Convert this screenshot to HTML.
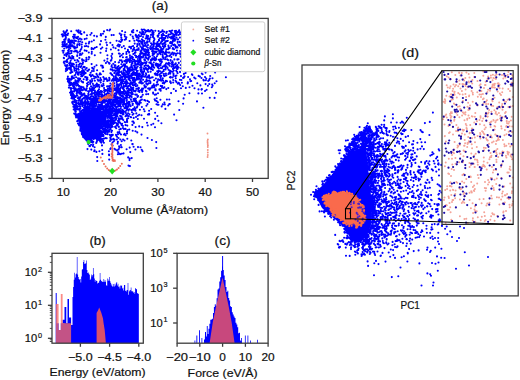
<!DOCTYPE html>
<html><head><meta charset="utf-8"><style>
html,body{margin:0;padding:0;background:#fff;}
svg{display:block;}
text{font-family:"Liberation Sans", sans-serif;fill:#111;stroke:#111;stroke-width:0.2px;}
</style></head><body>
<svg width="520" height="380" viewBox="0 0 520 380">
<rect width="520" height="380" fill="#fff"/>
<clipPath id="ca"><rect x="52" y="18.4" width="216.2" height="160"/></clipPath>
<g clip-path="url(#ca)">
<path d="M76 114L84 111L94 110L103 111L107 114L106 120L103 125L100 129L96 135L92 140L89 142L86 141L83 134L79 124Z" fill="#0000ff"/>
<path d="M153.1 92.6h0M107.1 86.4h0M93.6 122.8h0M133.3 85.4h0M155.5 73.4h0M65.4 65.3h0M105.7 124.6h0M120.7 79.4h0M116.7 125.4h0M132.1 92.4h0M93.2 136.1h0M91.8 91.5h0M91.8 94.2h0M78.7 85.9h0M77.2 121.3h0M119.4 101.8h0M124.4 70.3h0M94.2 137.8h0M139.7 82.3h0M128.2 71.1h0M133.5 99.0h0M94.8 138.3h0M142.8 47.7h0M95.9 124.0h0M114.5 115.3h0M94.2 124.4h0M89.5 132.0h0M87.7 105.9h0M87.2 77.9h0M91.8 51.9h0M62.7 36.4h0M98.2 139.8h0M82.8 135.6h0M70.2 42.5h0M109.2 110.1h0M175.4 76.3h0M110.3 107.7h0M89.0 112.1h0M165.2 82.0h0M146.5 91.5h0M119.2 41.3h0M87.1 111.7h0M98.8 107.0h0M198.6 75.9h0M135.4 61.9h0M117.6 74.5h0M121.8 81.5h0M92.3 138.3h0M106.7 95.0h0M85.3 104.9h0M95.3 127.2h0M124.6 74.4h0M104.9 133.2h0M73.7 85.8h0M124.5 140.5h0M70.7 84.5h0M108.2 120.1h0M79.9 93.0h0M153.8 62.5h0M152.5 64.7h0M95.8 125.9h0M98.1 135.0h0M81.8 116.3h0M152.4 85.9h0M179.9 79.7h0M93.8 116.2h0M130.2 80.5h0M138.2 91.1h0M140.6 63.8h0M141.2 50.4h0M112.7 104.1h0M126.3 80.4h0M81.9 117.2h0M159.7 51.3h0M67.9 76.5h0M128.6 106.6h0M120.8 87.8h0M92.7 87.2h0M92.9 133.4h0M71.4 88.2h0M136.8 67.4h0M70.6 69.2h0M94.1 125.3h0M171.6 37.1h0M107.4 55.2h0M118.7 62.5h0M125.6 135.3h0M103.1 124.2h0M65.6 32.4h0M93.2 122.9h0M87.5 96.4h0M134.9 81.7h0M120.2 154.3h0M100.1 107.1h0M89.2 123.5h0M145.8 45.7h0M109.2 112.0h0M168.1 60.1h0M72.1 76.2h0M132.7 36.6h0M140.4 80.2h0M122.3 109.9h0M70.6 69.7h0M94.4 104.7h0M179.9 42.3h0M116.3 94.7h0M105.4 120.8h0M123.9 89.4h0M129.2 52.1h0M124.1 73.0h0M102.0 94.3h0M71.2 31.2h0M116.0 88.6h0M118.0 88.4h0M159.4 74.8h0M148.2 36.0h0M78.4 92.4h0M102.0 104.9h0M108.7 111.6h0M91.5 141.9h0M97.4 76.5h0M90.8 131.6h0M96.8 96.2h0M126.8 97.4h0M79.3 114.1h0M123.3 110.6h0M156.8 65.8h0M104.4 123.4h0M116.1 104.0h0M94.6 100.2h0M136.6 103.6h0M100.7 136.2h0M105.5 115.3h0M93.0 102.3h0M116.2 92.6h0M99.8 121.8h0M103.0 116.8h0M161.6 31.6h0M88.7 104.0h0M206.6 89.7h0M136.0 69.8h0M90.2 80.6h0M110.1 85.7h0M80.1 53.7h0M112.2 53.9h0M103.2 117.2h0M134.4 74.7h0M109.8 91.2h0M98.9 117.7h0M128.8 73.8h0M91.1 144.8h0M98.6 80.8h0M76.4 105.0h0M94.3 129.0h0M97.9 124.8h0M82.6 64.0h0M95.4 121.3h0M90.6 120.8h0M99.4 130.2h0M105.2 110.0h0M99.0 89.3h0M121.4 76.9h0M76.0 90.5h0M117.1 150.4h0M154.4 58.1h0M111.9 110.1h0M86.9 97.8h0M67.9 81.4h0M117.6 97.9h0M105.2 111.3h0M73.4 95.9h0M74.6 70.7h0M118.5 50.3h0M179.2 30.4h0M103.6 132.2h0M121.3 81.0h0M95.7 96.7h0M88.0 132.3h0M158.8 59.7h0M76.1 104.2h0M111.4 91.4h0M168.3 88.0h0M112.4 87.6h0M96.0 121.5h0M111.5 114.7h0M121.4 67.0h0M104.2 124.9h0M97.6 133.6h0M91.0 86.2h0M122.4 80.0h0M107.0 125.1h0M155.5 74.8h0M94.9 90.7h0M105.5 138.1h0M118.3 80.9h0M96.5 118.9h0M128.1 113.3h0M95.5 112.3h0M110.8 102.3h0M128.2 91.5h0M105.9 123.5h0M115.3 113.2h0M110.7 94.7h0M126.2 103.8h0M139.4 43.8h0M116.9 115.4h0M86.8 118.0h0M112.2 111.5h0M101.1 119.2h0M106.6 79.2h0M172.8 62.8h0M135.5 131.2h0M109.5 110.6h0M116.6 40.7h0M103.6 85.4h0M114.5 86.0h0M113.7 76.4h0M147.4 84.6h0M145.1 49.2h0M141.8 83.5h0M92.8 142.6h0M86.3 59.6h0M108.9 86.6h0M120.1 90.4h0M98.2 113.3h0M107.1 114.5h0M160.9 68.0h0M129.9 55.4h0M131.5 93.2h0M63.8 57.9h0M126.1 77.2h0M87.2 113.9h0M124.3 98.6h0M102.6 117.4h0M84.0 126.1h0M103.9 138.7h0M116.3 94.5h0M116.4 118.7h0M132.0 69.9h0M177.2 72.0h0M103.6 111.5h0M197.3 83.2h0M156.1 46.9h0M94.1 88.2h0M130.4 67.3h0M114.0 80.4h0M158.5 35.2h0M65.5 39.8h0M157.5 73.8h0M129.3 78.2h0M100.9 107.7h0M88.9 127.1h0M124.6 70.0h0M100.9 126.7h0M121.9 96.4h0M80.3 97.4h0M127.5 86.2h0M140.5 46.6h0M69.3 47.0h0M119.0 109.2h0M91.7 81.8h0M92.7 75.3h0M122.9 57.3h0M120.1 78.0h0M69.4 78.9h0M114.2 118.0h0M89.8 110.4h0M167.1 59.3h0M170.3 34.3h0M156.1 52.4h0M126.4 86.2h0M102.4 139.0h0M103.2 130.6h0M175.2 32.6h0M116.1 75.0h0M145.8 75.6h0M87.9 120.7h0M96.7 47.0h0M81.2 76.3h0M104.6 79.2h0M82.1 99.3h0M102.1 112.2h0M99.9 115.6h0M123.7 104.3h0M132.4 74.3h0M71.9 72.1h0M89.2 143.0h0M88.3 108.0h0M85.3 127.8h0M116.7 98.6h0M97.4 118.9h0M108.5 103.3h0M80.6 115.4h0M86.5 80.0h0M136.3 79.4h0M67.7 78.6h0M73.5 94.6h0M96.3 115.9h0M89.2 130.9h0M68.3 40.5h0M71.8 58.6h0M88.4 95.4h0M98.1 116.5h0M179.7 53.2h0M64.4 63.4h0M123.8 46.0h0M124.6 86.8h0M103.6 109.5h0M111.7 65.3h0M198.4 93.4h0M65.3 46.0h0M116.0 134.9h0M95.2 134.8h0M67.7 54.2h0M194.5 88.2h0M103.1 67.4h0M101.8 122.2h0M124.5 108.2h0M158.4 64.5h0M153.0 37.1h0M98.2 112.0h0M104.6 120.9h0M81.2 74.1h0M134.7 43.6h0M96.6 128.3h0M83.7 60.4h0M93.2 117.9h0M110.7 117.1h0M142.1 88.5h0M82.3 102.8h0M118.2 106.4h0M91.3 101.2h0M92.1 126.1h0M112.9 100.5h0M121.3 39.6h0M127.3 68.0h0M121.2 84.9h0M85.4 104.2h0M93.0 90.1h0M96.1 133.1h0M167.6 41.0h0M145.9 73.2h0M126.8 114.8h0M125.6 75.5h0M118.7 86.7h0M96.3 125.6h0M68.1 79.9h0M92.1 113.8h0M119.5 91.8h0M84.5 120.7h0M77.5 116.4h0M74.4 102.2h0M105.6 113.1h0M102.7 107.6h0M92.1 106.5h0M71.6 70.0h0M77.8 90.0h0M94.1 99.8h0M101.9 95.0h0M63.4 41.8h0M78.0 78.3h0M160.9 50.0h0M153.4 34.2h0M92.2 133.3h0M167.5 67.9h0M110.9 105.5h0M80.0 63.5h0M88.7 113.3h0M141.7 149.7h0M146.9 52.1h0M89.9 131.5h0M97.0 129.1h0M100.6 124.2h0M75.4 50.9h0M104.6 123.5h0M174.8 40.8h0M76.3 85.6h0M91.3 128.5h0M127.5 103.7h0M78.5 66.8h0M98.1 132.0h0M162.1 35.9h0M171.3 57.1h0M82.2 134.1h0M81.7 130.4h0M122.4 83.3h0M165.6 73.8h0M127.3 97.3h0M128.4 79.0h0M110.1 29.5h0M77.9 98.2h0M74.0 78.1h0M151.4 87.5h0M80.2 86.5h0M117.9 123.3h0M103.6 81.3h0M103.3 77.1h0M119.6 153.7h0M105.4 39.7h0M91.2 121.9h0M149.3 62.6h0M165.0 45.6h0M123.4 73.2h0M114.7 104.7h0M164.3 43.0h0M91.3 134.8h0M69.3 80.5h0M95.0 108.8h0M146.6 62.0h0M96.9 117.9h0M191.9 74.2h0M125.0 48.5h0M95.8 97.4h0M86.7 140.4h0M84.9 89.6h0M65.9 69.1h0M82.1 59.5h0M118.6 101.6h0M154.2 67.8h0M178.6 82.7h0M145.0 60.3h0M77.2 82.0h0M94.2 98.7h0M105.7 97.1h0M88.2 102.6h0M179.9 37.6h0M127.9 69.3h0M114.7 89.9h0M94.3 98.2h0M100.2 109.9h0M122.9 128.0h0M174.9 39.1h0M140.9 53.4h0M163.2 57.2h0M105.4 127.6h0M97.0 123.2h0M177.1 69.1h0M166.4 49.3h0M113.1 105.2h0M100.8 133.1h0M121.3 92.0h0M136.8 76.5h0M144.7 53.9h0M74.3 97.6h0M90.8 101.1h0M127.9 93.6h0M86.8 98.9h0M98.6 124.9h0M69.7 46.2h0M104.3 79.4h0M109.6 63.3h0M130.1 70.2h0M87.5 138.2h0M165.3 66.4h0M83.3 73.8h0M129.8 96.6h0M153.1 51.8h0M162.7 54.1h0M95.4 110.7h0M81.9 81.7h0M91.7 41.5h0M76.1 117.4h0M98.4 120.3h0M95.4 119.6h0M91.7 53.7h0M97.3 108.0h0M124.2 79.4h0M101.7 103.2h0M64.0 45.9h0M175.8 78.3h0M150.0 56.5h0M72.1 56.1h0M134.8 73.0h0M77.9 52.2h0M79.3 125.4h0M87.2 111.9h0M84.1 121.6h0M99.7 80.4h0M122.9 99.3h0M83.9 74.6h0M107.5 125.2h0M164.4 102.5h0M123.1 53.8h0M112.6 145.5h0M81.4 48.7h0M113.4 82.2h0M173.5 34.8h0M87.3 70.7h0M126.3 72.5h0M71.6 40.6h0M129.6 83.9h0M119.6 69.0h0M129.3 129.5h0M118.2 73.6h0M79.6 86.4h0M90.8 113.2h0M156.1 94.4h0M134.9 84.9h0M78.9 100.3h0M112.3 103.1h0M165.1 65.1h0M141.4 34.1h0M97.1 131.0h0M90.6 137.3h0M103.5 128.4h0M143.4 46.3h0M155.7 59.2h0M142.3 71.6h0M130.1 57.3h0M150.1 68.1h0M74.8 34.9h0M107.0 104.6h0M131.5 73.9h0M99.3 110.7h0M108.8 90.5h0M106.8 131.4h0M152.6 55.4h0M105.8 108.8h0M69.5 85.5h0M136.3 113.4h0M135.1 100.1h0M162.0 41.4h0M67.8 78.4h0M142.7 89.1h0M112.4 111.9h0M129.9 166.1h0M119.6 72.0h0M75.6 108.5h0M111.7 98.9h0M104.9 125.1h0M180.9 68.2h0M75.9 40.9h0M95.4 136.7h0M168.6 52.6h0M94.1 85.5h0M110.7 148.8h0M144.3 51.0h0M107.8 102.2h0M115.5 126.9h0M113.9 78.2h0M99.4 116.0h0M74.4 46.6h0M174.5 67.9h0M73.4 63.8h0M131.2 92.9h0M83.6 113.3h0M110.7 122.7h0M171.5 66.6h0M95.6 125.0h0M119.6 109.7h0M131.9 89.9h0M98.2 128.4h0M92.2 67.7h0M96.0 105.3h0M94.6 150.4h0M89.2 122.2h0M71.9 66.1h0M80.9 74.3h0M108.3 124.3h0M132.5 104.0h0M122.8 93.7h0M124.9 77.6h0M109.2 114.9h0M67.6 65.8h0M82.0 112.9h0M91.9 128.2h0M125.4 122.2h0M89.4 130.4h0M126.4 37.2h0M141.9 99.6h0M141.6 78.1h0M104.7 119.2h0M120.2 123.0h0M78.0 85.1h0M121.3 81.3h0M176.4 35.0h0M115.4 71.8h0M128.5 79.1h0M108.5 101.3h0M168.2 105.5h0M121.4 112.8h0M131.8 64.0h0M82.6 125.5h0M81.7 44.6h0M77.5 44.2h0M88.4 115.6h0M74.9 99.8h0M174.4 59.4h0M164.2 39.5h0M180.1 51.0h0M79.9 93.6h0M146.4 105.8h0M118.4 102.0h0M126.0 75.0h0M117.0 125.3h0M92.2 103.0h0M190.0 79.3h0M102.0 126.3h0M211.8 87.2h0M96.7 122.7h0M108.9 151.3h0M126.2 57.4h0M95.6 117.7h0M142.0 41.3h0M143.3 48.7h0M126.9 82.8h0M104.5 89.9h0M108.8 105.2h0M144.3 41.0h0M90.5 114.3h0M74.7 89.3h0M113.4 47.4h0M76.3 101.0h0M86.0 113.9h0M90.6 98.2h0M70.4 41.0h0M73.9 42.2h0M93.1 128.5h0M73.2 97.9h0M88.1 137.1h0M182.8 86.2h0M86.0 96.1h0M119.4 80.6h0M82.3 115.0h0M99.2 115.8h0M86.4 119.6h0M83.2 123.3h0M89.3 57.4h0M100.7 82.4h0M122.3 77.8h0M147.6 100.9h0M113.4 138.9h0M151.0 59.8h0M84.5 124.4h0M75.8 81.9h0M90.2 115.6h0M96.3 135.3h0M148.4 58.9h0M81.1 113.4h0M168.4 35.4h0M77.3 60.1h0M69.5 68.8h0M138.7 64.5h0M77.7 52.7h0M133.4 79.1h0M107.7 110.9h0M178.7 67.5h0M155.6 90.3h0M88.4 117.9h0M124.6 34.8h0M75.8 101.3h0M76.6 85.5h0M109.5 86.6h0M128.1 102.9h0M73.3 101.7h0M148.4 75.9h0M87.5 79.3h0M81.5 118.6h0M122.3 110.3h0M177.6 73.3h0M88.8 134.4h0M147.3 65.7h0M75.3 90.4h0M71.1 72.3h0M144.9 76.5h0M88.2 109.9h0M129.8 85.7h0M97.1 119.8h0M142.0 89.1h0M74.1 51.5h0M113.6 115.3h0M73.3 84.7h0M87.4 99.2h0M78.0 116.4h0M93.4 122.9h0M123.2 74.9h0M100.7 137.9h0M126.8 83.9h0M138.8 77.5h0M69.3 82.0h0M160.8 63.8h0M90.6 118.0h0M137.8 104.4h0M137.6 36.3h0M139.8 60.1h0M99.6 116.6h0M85.6 61.3h0M116.0 115.8h0M75.3 74.8h0M76.5 47.5h0M127.3 67.4h0M93.3 141.7h0M123.0 74.8h0M111.6 69.5h0M125.8 107.0h0M77.0 91.5h0M157.9 54.4h0M110.0 141.0h0M136.9 36.4h0M86.5 97.9h0M95.4 133.6h0M117.9 102.1h0M86.1 102.0h0M100.4 141.7h0M86.6 78.9h0M134.4 40.8h0M87.7 126.4h0M82.9 82.0h0M83.6 131.3h0M133.0 69.1h0M127.5 130.0h0M142.4 74.0h0M158.1 79.4h0M128.1 106.4h0M80.4 90.8h0M90.6 124.3h0M76.9 95.2h0M89.0 117.7h0M134.8 73.2h0M71.0 45.6h0M111.9 58.0h0M115.6 77.8h0M107.9 118.1h0M85.5 117.0h0M142.0 64.6h0M110.3 149.0h0M122.0 73.4h0M92.0 88.3h0M168.1 49.3h0M166.9 41.0h0M93.9 133.2h0M108.9 93.5h0M114.3 83.3h0M95.8 114.2h0M106.8 122.8h0M118.3 110.9h0M75.8 115.9h0M164.4 31.7h0M111.8 135.6h0M87.2 79.7h0M164.3 46.0h0M102.9 96.5h0M95.6 135.3h0M173.5 75.8h0M127.8 94.2h0M93.7 68.9h0M105.3 117.5h0M121.8 47.2h0M74.0 98.3h0M176.4 75.5h0M108.2 130.1h0M107.8 120.7h0M146.5 36.6h0M158.0 36.8h0M98.7 91.6h0M127.6 86.7h0M82.4 132.1h0M165.1 59.3h0M141.9 72.8h0M146.3 83.8h0M140.6 76.1h0M162.8 78.2h0M90.4 104.0h0M148.7 55.6h0M127.6 93.0h0M64.2 61.5h0M82.0 125.9h0M75.6 81.7h0M72.0 63.5h0M116.1 117.1h0M81.4 103.3h0M125.6 82.3h0M116.5 115.4h0M76.9 90.7h0M169.8 47.9h0M171.1 31.0h0M74.4 83.9h0M72.4 92.7h0M88.0 116.8h0M114.5 148.8h0M145.0 81.8h0M157.9 102.2h0M105.8 36.9h0M156.4 44.8h0M83.1 98.6h0M106.7 114.5h0M91.6 49.1h0M110.9 49.5h0M128.5 76.3h0M170.7 71.4h0M95.8 116.3h0M98.9 120.0h0M78.5 103.1h0M82.5 133.4h0M109.0 100.7h0M205.6 84.1h0M87.9 97.9h0M85.9 126.3h0M111.7 111.3h0M90.9 126.6h0M153.7 44.1h0M134.6 81.0h0M84.9 111.9h0M95.4 119.8h0M78.0 123.5h0M189.5 87.3h0M100.9 48.8h0M101.9 101.1h0M140.6 51.4h0M81.0 128.4h0M116.7 107.2h0M162.7 55.8h0M143.6 34.4h0M162.2 39.9h0M183.1 103.7h0M131.9 75.0h0M127.4 74.7h0M157.9 49.1h0M82.4 53.2h0M115.3 79.7h0M74.7 96.7h0M99.4 87.1h0M205.0 91.0h0M174.1 114.6h0M101.1 65.6h0M94.2 113.2h0M91.3 134.4h0M120.3 67.9h0M97.4 94.7h0M121.7 118.7h0M101.8 127.8h0M82.6 75.7h0M121.7 125.3h0M172.0 43.8h0M141.1 57.8h0M103.0 102.1h0M113.3 120.8h0M81.3 81.1h0M161.2 73.0h0M103.7 120.3h0M90.3 112.1h0M120.3 116.2h0M162.7 83.1h0M106.8 131.8h0M157.1 44.7h0M158.1 72.3h0M95.4 135.6h0M90.3 131.5h0M116.2 79.1h0M88.7 101.9h0M90.4 118.7h0M106.4 79.1h0M139.0 55.9h0M72.2 78.3h0M131.3 82.3h0M154.6 43.2h0M104.2 123.0h0M96.8 83.6h0M99.5 96.7h0M119.0 103.1h0M110.2 108.2h0M92.3 112.5h0M107.6 105.2h0M91.2 94.3h0M85.6 110.7h0M110.4 100.1h0M102.3 105.5h0M166.9 99.5h0M117.6 98.8h0M127.1 115.3h0M113.6 108.3h0M112.6 102.9h0M96.0 136.2h0M99.6 113.7h0M84.7 107.6h0M115.5 104.6h0M106.7 111.5h0M180.9 48.0h0M92.8 137.2h0M86.7 88.5h0M71.0 90.9h0M94.9 131.0h0M62.6 50.8h0M99.6 74.4h0M82.9 123.9h0M201.8 89.0h0M104.0 126.1h0M129.3 46.9h0M80.6 96.6h0M148.9 67.6h0M111.4 96.1h0M87.2 138.3h0M105.2 91.0h0M125.8 107.4h0M111.6 87.7h0M71.3 92.9h0M119.6 98.5h0M154.9 94.8h0M148.2 65.8h0M173.9 38.7h0M161.9 72.8h0M201.9 89.3h0M95.9 85.0h0M83.8 66.9h0M172.2 30.5h0M108.0 116.7h0M97.3 119.4h0M135.3 91.4h0M99.3 133.2h0M104.6 102.5h0M156.0 48.4h0M134.6 67.1h0M87.5 149.1h0M67.7 52.7h0M68.3 42.1h0M139.2 126.4h0M98.3 135.4h0M146.6 77.6h0M133.6 48.9h0M111.2 103.5h0M134.4 61.1h0M96.8 110.1h0M73.8 106.9h0M70.2 82.4h0M165.6 69.5h0M173.2 82.5h0M125.7 77.4h0M119.3 132.1h0M137.7 66.5h0M162.2 71.9h0M77.9 84.3h0M76.1 72.7h0M68.4 46.0h0M153.7 51.2h0M89.0 91.3h0M112.7 120.5h0M65.2 44.8h0M126.5 100.8h0M98.0 124.6h0M84.0 88.5h0M71.4 71.0h0M63.8 50.8h0M104.1 96.9h0M125.8 95.5h0M79.7 109.2h0M91.2 136.4h0M125.9 113.0h0M123.4 83.7h0M89.2 131.9h0M152.3 59.8h0M91.3 115.9h0M89.0 103.8h0M78.1 89.0h0M145.1 30.3h0M140.3 61.4h0M160.8 47.2h0M109.8 125.8h0M105.8 104.5h0M88.5 132.2h0M163.2 31.5h0M101.5 96.9h0M89.8 99.3h0M125.2 32.3h0M121.7 40.8h0M85.9 43.6h0M120.1 115.8h0M94.0 119.8h0M109.4 111.3h0M141.2 82.3h0M81.6 75.3h0M159.1 40.5h0M109.1 95.7h0M127.2 122.0h0M119.0 74.9h0M80.3 90.2h0M168.5 46.8h0M132.8 84.3h0M110.7 107.0h0M118.4 88.3h0M142.5 32.1h0M116.7 89.7h0M100.4 105.3h0M72.3 84.7h0M148.0 36.5h0M120.2 104.9h0M136.7 37.5h0M141.2 83.3h0M120.7 100.6h0M96.5 96.5h0M180.4 44.9h0M141.1 53.2h0M109.0 80.4h0M143.1 79.8h0M183.9 77.6h0M79.4 92.5h0M109.5 99.9h0M144.1 69.7h0M72.5 103.3h0M86.8 119.8h0M88.5 97.9h0M88.6 106.6h0M173.5 74.2h0M85.8 119.5h0M163.4 82.9h0M135.9 98.8h0M165.4 52.5h0M78.7 69.7h0M161.0 52.3h0M120.7 41.9h0M123.0 81.6h0M104.4 101.0h0M98.7 102.1h0M137.1 56.7h0M141.6 33.4h0M94.1 124.0h0M115.0 88.3h0M161.6 50.7h0M119.3 94.3h0M87.1 83.8h0M124.6 104.1h0M97.5 106.3h0M190.4 81.1h0M82.6 131.2h0M117.7 132.4h0M141.5 115.2h0M120.9 145.0h0M143.2 56.2h0M107.1 110.2h0M112.3 90.4h0M109.5 97.0h0M72.0 65.1h0M90.5 127.7h0M87.3 108.2h0M82.4 101.0h0M92.7 87.9h0M66.1 44.5h0M104.7 115.2h0M139.5 101.2h0M127.3 138.8h0M100.7 113.6h0M88.6 103.4h0M104.9 120.2h0M123.4 96.3h0M106.8 122.2h0M166.8 52.4h0M90.2 83.0h0M71.8 76.9h0M139.9 109.7h0M71.4 53.0h0M73.3 58.2h0M136.4 88.7h0M78.4 61.4h0M114.8 120.2h0M127.1 88.5h0M89.7 99.3h0M96.4 135.4h0M83.3 130.1h0M95.3 119.3h0M114.6 93.5h0M95.8 110.9h0M83.6 116.1h0M90.5 118.8h0M178.4 83.3h0M125.7 92.9h0M90.2 106.1h0M140.6 57.3h0M109.3 108.8h0M97.4 86.4h0M142.3 34.3h0M132.6 114.7h0M90.1 98.4h0M170.2 82.1h0M70.2 83.4h0M142.3 31.7h0M65.9 37.9h0M80.6 129.6h0M91.9 75.2h0M107.3 115.7h0M84.3 110.0h0M123.1 91.9h0M115.7 116.8h0M93.5 103.3h0M90.3 121.1h0M125.5 128.9h0M140.9 71.5h0M123.6 74.9h0M72.7 101.9h0M132.9 78.0h0M96.8 141.6h0M79.4 78.5h0M123.5 128.6h0M140.0 58.2h0M93.7 139.1h0M108.7 116.6h0M121.9 79.3h0M115.4 111.1h0M127.1 91.2h0M112.6 108.0h0M93.6 127.2h0M135.8 86.2h0M76.5 30.5h0M95.9 77.6h0M112.5 101.9h0M110.7 119.2h0M111.6 120.4h0M142.3 127.1h0M175.2 46.0h0M111.6 111.6h0M205.8 80.2h0M84.9 95.3h0M160.4 59.4h0M65.4 34.2h0M84.8 105.9h0M101.1 92.2h0M92.3 134.9h0M155.2 118.9h0M144.6 111.3h0M78.6 81.7h0M115.9 97.9h0M80.7 129.7h0M129.6 109.2h0M117.0 102.1h0M74.6 82.5h0M95.6 117.7h0M110.3 94.6h0M166.5 66.3h0M97.6 135.1h0M146.6 52.7h0M128.1 116.0h0M104.2 92.2h0M69.0 56.1h0M162.3 44.2h0M109.2 131.6h0M167.0 81.3h0M62.7 44.7h0M74.3 43.6h0M139.5 78.6h0M104.7 128.4h0M96.6 129.5h0M146.2 74.2h0M130.8 58.3h0M109.6 103.1h0M110.7 69.4h0M72.5 40.9h0M83.4 135.7h0M166.3 33.0h0M178.5 101.3h0M64.2 48.5h0M100.1 106.8h0M161.8 37.4h0M91.2 90.6h0M99.2 106.2h0M76.7 69.1h0M96.6 124.3h0M104.2 78.2h0M126.6 108.8h0M119.6 103.7h0M77.3 95.4h0M111.5 66.7h0M108.9 113.6h0M88.3 133.6h0M86.0 89.2h0M143.0 57.5h0M117.7 103.8h0M83.1 103.5h0M82.0 95.7h0M94.1 138.6h0M122.5 119.2h0M105.5 97.6h0M173.7 38.8h0M118.6 66.0h0M142.2 73.7h0M119.9 60.2h0M110.3 42.8h0M126.2 81.1h0M110.2 99.0h0M175.6 80.8h0M120.1 90.8h0M86.7 103.6h0M103.0 95.5h0M146.5 46.6h0M168.9 73.6h0M159.0 33.6h0M108.6 94.0h0M152.3 34.4h0M93.6 117.5h0M93.6 112.8h0M76.2 102.7h0M132.0 78.3h0M164.0 39.5h0M112.0 118.8h0M66.5 56.1h0M173.3 45.1h0M84.4 112.4h0M125.2 61.3h0M111.5 122.3h0M173.4 54.7h0M149.2 88.3h0M161.8 61.6h0M91.0 76.4h0M82.9 105.8h0M67.3 46.5h0M66.9 54.6h0M89.4 107.0h0M84.1 113.1h0M109.2 108.1h0M163.5 46.8h0M64.2 32.9h0M173.7 70.6h0M91.6 124.7h0M97.9 115.4h0M85.4 69.4h0M131.3 140.5h0M149.1 102.0h0M93.1 123.1h0M91.0 127.2h0M85.7 73.1h0M140.5 100.2h0M168.6 34.6h0M108.1 130.4h0M101.0 41.1h0M90.2 134.0h0M94.8 117.7h0M71.8 58.0h0M172.5 61.3h0M107.9 130.5h0M132.4 124.9h0M115.3 122.5h0M132.9 80.7h0M92.8 83.8h0M92.0 126.8h0M126.1 115.2h0M116.3 88.0h0M138.1 40.7h0M100.3 132.0h0M72.9 93.7h0M102.7 102.9h0M84.2 116.2h0M96.1 126.4h0M77.3 107.5h0M142.3 63.0h0M94.1 78.5h0M135.1 52.2h0M88.1 142.6h0M131.7 65.5h0M128.2 157.4h0M175.5 31.8h0M83.1 126.3h0M121.4 124.3h0M108.0 109.6h0M103.5 119.1h0M63.8 62.2h0M122.7 95.9h0M78.8 88.6h0M87.7 104.6h0M77.2 45.2h0M116.7 86.0h0M129.1 72.2h0M173.0 38.9h0M119.2 46.5h0M136.5 79.0h0M148.2 94.1h0M191.2 81.0h0M165.5 44.3h0M93.5 48.9h0M110.3 137.3h0M104.1 115.9h0M78.8 73.5h0M170.2 81.2h0M137.0 46.5h0M78.9 104.2h0M101.1 119.9h0M94.3 104.8h0M125.9 60.0h0M83.1 82.4h0M66.9 44.1h0M124.1 76.3h0M97.7 79.5h0M127.7 82.7h0M156.1 63.5h0M123.3 106.2h0M76.2 38.0h0M82.7 110.0h0M109.3 95.0h0M171.1 93.1h0M116.4 108.9h0M122.9 126.0h0M142.2 76.7h0M126.4 52.1h0M126.2 71.5h0M124.4 73.2h0M100.9 34.1h0M151.7 67.3h0M89.3 133.9h0M126.7 88.6h0M111.1 106.2h0M142.4 90.7h0M147.5 76.9h0M84.6 97.3h0M97.3 112.4h0M78.9 79.6h0M64.2 40.1h0M129.1 104.1h0M86.8 106.6h0M160.3 32.2h0M161.2 42.1h0M135.8 34.9h0M108.9 114.7h0M120.9 93.7h0M94.4 128.7h0M78.9 32.7h0M101.5 99.6h0M127.1 72.1h0M90.2 97.3h0M159.5 53.2h0M131.3 66.5h0M112.3 84.7h0M80.5 31.3h0M98.5 119.5h0M89.5 132.2h0M104.5 131.9h0M94.0 130.3h0M124.7 73.5h0M73.3 104.4h0M114.2 99.1h0M102.5 65.9h0M124.9 36.5h0M154.1 59.4h0M70.9 72.8h0M67.4 68.3h0M118.0 109.5h0M83.6 133.4h0M88.9 126.4h0M142.2 29.9h0M75.8 115.6h0M86.4 46.0h0M125.3 83.3h0M121.0 101.1h0M97.1 85.2h0M183.9 73.9h0M117.5 103.6h0M68.7 51.4h0M76.3 62.5h0M143.4 55.6h0M116.6 136.1h0M130.7 106.1h0M135.1 55.2h0M117.4 45.8h0M75.7 96.9h0M122.7 93.0h0M149.0 52.7h0M148.2 30.0h0M85.4 138.0h0M88.6 110.9h0M100.9 106.1h0M159.6 44.0h0M124.2 100.1h0M70.5 88.1h0M99.5 108.3h0M147.8 47.7h0M95.2 115.4h0M96.0 131.3h0M121.1 82.8h0M105.8 113.6h0M97.5 133.2h0M92.8 111.8h0M69.1 79.5h0M90.7 72.7h0M162.2 44.0h0M170.7 32.0h0M107.0 45.1h0M88.2 132.7h0M160.2 76.6h0M75.6 113.4h0M86.6 118.1h0M133.3 30.0h0M136.8 94.6h0M79.6 86.4h0M106.5 121.3h0M145.4 57.2h0M79.0 80.2h0M129.7 147.6h0M74.7 95.9h0M100.3 111.3h0M90.8 90.8h0M169.2 72.9h0M147.7 125.5h0M143.8 68.2h0M149.6 38.9h0M92.9 146.1h0M93.8 135.4h0M104.6 119.6h0M117.9 154.3h0M135.7 35.5h0M86.6 102.9h0M91.2 111.5h0M113.7 120.8h0M110.1 117.9h0M93.7 105.8h0M80.5 129.3h0M85.7 132.1h0M108.5 112.1h0M76.6 89.8h0M128.9 101.9h0M88.6 110.1h0M116.2 99.4h0M149.3 80.6h0M72.4 91.6h0M123.4 102.4h0M109.9 124.1h0M106.2 116.8h0M133.7 71.8h0M118.2 110.5h0M145.9 53.4h0M119.4 68.1h0M133.5 113.8h0M111.4 132.1h0M166.3 63.3h0M175.3 45.4h0M63.9 35.3h0M100.8 141.1h0M84.4 112.8h0M97.4 124.3h0M142.3 33.4h0M74.4 90.2h0M118.0 120.9h0M135.8 94.8h0M129.0 89.1h0M153.9 40.8h0M115.6 112.2h0M99.8 123.0h0M139.3 62.3h0M121.4 64.2h0M67.1 65.7h0M159.8 60.3h0M133.9 82.6h0M108.5 111.3h0M167.6 59.7h0M93.7 76.3h0M109.0 154.5h0M152.2 47.6h0M155.6 64.5h0M87.4 123.7h0M88.7 128.0h0M134.8 79.8h0M127.2 97.1h0M75.2 109.8h0M81.5 116.3h0M92.7 124.4h0M93.3 131.8h0M145.1 68.8h0M96.2 117.6h0M106.3 108.6h0M119.0 100.7h0M166.8 56.4h0M130.8 82.6h0M96.1 135.1h0M93.5 137.0h0M72.4 72.0h0M137.7 115.8h0M145.0 51.4h0M89.8 105.0h0M83.8 133.7h0M114.8 106.0h0M87.0 125.7h0M143.2 53.5h0M110.7 109.1h0M150.4 82.3h0M159.2 45.9h0M129.7 76.6h0M118.6 92.1h0M77.2 56.0h0M93.9 112.3h0M132.9 57.5h0M123.7 100.9h0M88.7 127.6h0M120.5 94.6h0M153.0 64.9h0M125.3 70.6h0M69.8 63.4h0M87.5 100.1h0M131.4 110.3h0M115.3 102.0h0M113.7 35.0h0M101.0 132.5h0M161.7 34.7h0M128.3 77.8h0M102.7 99.9h0M132.5 59.0h0M81.2 126.6h0M104.2 118.0h0M100.2 127.3h0M121.4 113.2h0M101.5 94.7h0M72.2 65.3h0M138.4 62.6h0M90.5 113.0h0M124.6 107.8h0M72.5 76.5h0M120.6 102.3h0M81.5 34.1h0M119.5 112.5h0M124.8 67.4h0M119.0 70.7h0M79.2 104.7h0M146.5 81.6h0M66.4 55.6h0M114.2 114.0h0M91.3 141.4h0M137.0 107.4h0M117.6 112.1h0M94.7 106.8h0M132.8 79.9h0M107.5 131.9h0M131.8 56.6h0M103.0 33.7h0M79.5 104.2h0M126.0 38.6h0M91.6 117.5h0M183.1 77.9h0M169.9 77.2h0M82.0 89.8h0M101.3 142.7h0M137.6 78.0h0M97.9 124.8h0M225.9 77.2h0M82.6 90.3h0M95.7 131.9h0M81.4 93.0h0M96.4 104.5h0M127.7 83.3h0M109.6 111.6h0M80.5 126.1h0M142.6 40.0h0M112.7 70.6h0M98.1 101.7h0M158.4 44.1h0M64.2 39.9h0M78.6 102.3h0M120.2 110.8h0M85.4 127.8h0M76.4 109.2h0M73.6 85.4h0M174.6 36.8h0M73.1 42.8h0M68.9 49.9h0M105.8 98.7h0M93.6 85.2h0M104.9 94.1h0M116.8 116.2h0M129.6 76.7h0M68.8 68.4h0M107.6 96.5h0M128.5 86.1h0M94.4 132.7h0M84.7 67.1h0M161.2 75.9h0M88.0 133.4h0M148.3 54.9h0M94.3 121.3h0M114.1 118.2h0M89.3 41.9h0M135.8 83.7h0M176.7 68.3h0M75.2 104.8h0M136.9 71.2h0M110.3 91.3h0M97.4 112.2h0M111.9 134.7h0M102.1 98.3h0M158.0 93.3h0M94.7 117.5h0M88.1 119.3h0M118.2 106.2h0M116.8 116.3h0M117.4 102.2h0M115.3 106.8h0M90.8 129.5h0M97.5 138.3h0M216.0 92.8h0M130.0 59.9h0M167.8 37.7h0M166.3 36.1h0M177.5 69.0h0M104.9 106.4h0M81.1 116.0h0M75.4 107.6h0M101.6 103.9h0M98.3 129.1h0M152.1 51.2h0M97.1 98.2h0M89.5 127.8h0M74.3 106.1h0M144.9 86.9h0M90.6 113.6h0M103.6 110.5h0M130.8 69.3h0M170.6 42.0h0M121.7 141.2h0M71.9 96.7h0M121.5 72.3h0M168.4 74.0h0M174.3 44.5h0M143.4 88.5h0M151.8 66.1h0M127.0 133.4h0M119.2 103.1h0M89.8 129.6h0M155.9 78.6h0M80.3 130.2h0M155.3 60.3h0M101.6 91.3h0M96.9 119.9h0M69.3 39.5h0M124.7 65.6h0M98.8 114.8h0M91.5 105.7h0M153.2 48.7h0M206.3 78.6h0M99.1 115.4h0M141.9 48.1h0M108.3 122.8h0M185.8 87.9h0M97.4 117.5h0M93.4 130.4h0M172.0 36.9h0M80.4 104.5h0M85.8 116.5h0M117.7 113.8h0M111.7 113.0h0M91.3 90.7h0M160.7 79.0h0M121.6 153.7h0M84.2 132.9h0M120.0 88.9h0M90.3 75.0h0M102.7 119.9h0M79.2 106.2h0M184.5 76.4h0M85.7 129.5h0M93.5 134.4h0M138.6 56.9h0M102.5 67.7h0M115.9 99.5h0M112.0 93.0h0M97.2 157.1h0M117.2 125.1h0M158.9 40.6h0M69.8 65.1h0M81.7 110.8h0M165.9 36.1h0M112.8 67.5h0M110.7 111.4h0M69.3 67.9h0M92.8 99.0h0M109.5 101.0h0M85.1 111.2h0M106.2 111.2h0M110.7 104.3h0M156.7 46.8h0M120.9 116.1h0M123.9 90.0h0M209.3 84.0h0M170.6 76.7h0M161.6 62.2h0M134.8 66.1h0M214.7 83.3h0M92.8 117.1h0M160.7 85.9h0M116.8 123.4h0M139.8 40.7h0M107.2 80.9h0M76.6 114.6h0M122.3 39.8h0M85.0 104.8h0M102.2 150.0h0M74.5 47.0h0M111.3 103.1h0M75.1 109.9h0M94.6 90.3h0M165.0 42.2h0M113.8 96.3h0M121.7 147.2h0M107.2 125.7h0M95.1 99.4h0M79.9 38.6h0M124.7 86.4h0M188.1 77.0h0M84.7 39.1h0M122.6 66.0h0M62.4 34.4h0M118.2 104.4h0M140.0 41.1h0M126.8 57.1h0M175.3 64.5h0M100.5 52.8h0M82.6 72.5h0M158.9 39.9h0M82.6 95.4h0M99.9 119.0h0M109.6 97.2h0M109.3 116.9h0M90.1 122.8h0M78.8 79.5h0M138.1 96.1h0M110.9 73.4h0M128.7 75.8h0M163.7 43.6h0M87.2 120.0h0M117.6 90.8h0M157.8 67.4h0M121.5 60.4h0M88.9 140.0h0M106.5 131.0h0M97.8 100.2h0M144.4 69.1h0M75.2 108.6h0M129.6 104.3h0M104.4 112.5h0M80.2 119.5h0M87.2 102.2h0M96.5 121.9h0M107.7 132.5h0M134.5 73.6h0M93.3 138.1h0M105.8 90.0h0M89.5 119.7h0M107.8 98.5h0M75.5 114.6h0M80.2 78.9h0M83.0 128.4h0M82.8 82.1h0M127.6 87.3h0M134.2 77.7h0M116.6 114.4h0M96.3 99.3h0M131.9 94.4h0M65.7 36.4h0M115.8 76.4h0M76.3 70.7h0M86.6 132.6h0M118.3 152.2h0M123.3 80.0h0M117.7 100.1h0M159.7 38.2h0M148.5 66.7h0M178.5 59.3h0M84.6 105.7h0M98.9 89.5h0M118.9 121.8h0M97.4 110.7h0M170.6 60.0h0M201.8 73.6h0M69.6 64.1h0M112.0 80.2h0M160.5 73.5h0M117.5 116.4h0M83.0 62.7h0M109.8 88.4h0M85.1 128.2h0M63.0 35.1h0M84.8 133.7h0M112.5 96.6h0M163.6 87.9h0M90.7 118.9h0M110.7 97.0h0M175.9 90.9h0M160.6 79.4h0M96.8 102.2h0M71.1 79.0h0M148.5 54.6h0M125.8 106.8h0M80.4 93.0h0M97.9 132.1h0M169.5 65.8h0M75.1 110.9h0M82.5 124.0h0M131.9 31.2h0M63.3 44.2h0M105.0 110.5h0M120.9 95.2h0M115.2 106.5h0M150.5 46.3h0M107.2 130.8h0M81.1 125.6h0M90.4 136.8h0M128.0 50.9h0M109.5 127.6h0M114.6 100.5h0M160.5 65.5h0M113.6 123.3h0M84.2 97.8h0M176.9 50.6h0M141.7 52.2h0M100.3 121.0h0M84.0 107.8h0M139.1 74.2h0M114.3 73.1h0M84.6 101.8h0M154.3 87.4h0M117.9 124.4h0M91.9 100.1h0M124.3 104.3h0M109.1 155.2h0M130.6 70.2h0M134.5 98.8h0M86.4 60.9h0M110.4 129.0h0M127.2 102.2h0M71.8 77.8h0M150.2 81.2h0M96.8 118.2h0M73.4 58.5h0M66.2 66.8h0M113.8 121.5h0M109.8 124.9h0M146.2 52.3h0M102.4 153.9h0M119.3 89.2h0M149.9 48.0h0M130.8 87.1h0M107.1 110.5h0M125.5 92.7h0M95.2 117.5h0M90.7 141.0h0M172.1 37.3h0M92.6 130.2h0M118.9 119.4h0M70.3 48.3h0M92.2 107.5h0M126.8 107.0h0M133.3 74.6h0M117.3 97.0h0M92.6 129.7h0M94.0 117.2h0M85.9 126.1h0M112.3 106.1h0M136.0 73.6h0M106.2 95.0h0M89.1 138.8h0M95.3 106.8h0M109.2 159.6h0M73.7 109.5h0M141.9 48.2h0M129.9 80.4h0M104.2 99.2h0M74.2 86.8h0M172.9 40.7h0M96.1 122.8h0M105.4 121.8h0M109.9 108.1h0M125.2 66.1h0M115.1 105.6h0M95.6 128.5h0M216.5 81.3h0M161.4 123.3h0M110.6 107.1h0M92.2 89.5h0M137.3 85.7h0M112.0 125.7h0M147.9 114.5h0M70.7 43.9h0M173.5 40.8h0M99.1 127.7h0M146.6 58.2h0M163.8 47.2h0M119.9 106.1h0M187.9 82.7h0M126.4 84.0h0M144.4 49.5h0M81.1 114.4h0M148.6 83.4h0M96.3 92.4h0M116.4 111.0h0M162.2 49.2h0M90.1 80.9h0M95.5 102.9h0M145.9 86.6h0M101.6 85.4h0M132.8 85.3h0M92.9 96.4h0M118.6 126.6h0M114.2 101.8h0M82.3 60.7h0M153.9 67.2h0M175.7 39.5h0M97.6 107.8h0M149.9 31.5h0M78.9 118.0h0M127.2 118.7h0M107.6 94.3h0M145.7 38.4h0M133.9 122.9h0M101.3 120.5h0M143.2 40.8h0M85.5 136.5h0M138.1 103.2h0M138.8 87.8h0M88.7 92.1h0M110.9 121.4h0M144.4 85.4h0M129.7 102.1h0M177.0 65.7h0M111.4 56.1h0M70.5 57.9h0M111.9 110.9h0M119.6 109.6h0M168.2 36.1h0M90.0 133.3h0M134.5 74.2h0M93.2 125.2h0M104.9 133.0h0M91.6 123.2h0M117.4 86.4h0M73.2 57.9h0M133.6 146.8h0M133.6 71.3h0M147.0 36.9h0M147.0 122.8h0M84.8 133.9h0M145.2 55.1h0M85.1 131.0h0M162.0 37.5h0M74.1 47.5h0M205.0 77.0h0M81.8 72.7h0M149.2 76.4h0M96.5 65.2h0M115.9 78.6h0M97.3 93.6h0M90.8 99.5h0M155.6 89.3h0M101.9 103.5h0M94.9 131.3h0M133.1 109.1h0M129.7 158.5h0M74.5 101.6h0M74.6 47.2h0M69.3 82.1h0M174.7 34.7h0M133.3 87.9h0M102.1 136.1h0M116.5 101.1h0M135.8 50.4h0M71.2 88.3h0M212.2 84.5h0M127.1 72.9h0M154.1 80.2h0M163.8 69.8h0M138.3 60.9h0M105.6 126.8h0M88.9 57.0h0M109.9 91.4h0M126.7 98.5h0M84.0 133.8h0M125.1 107.9h0M75.8 47.7h0M142.6 151.3h0M139.9 32.4h0M94.1 125.4h0M109.6 99.6h0M131.2 70.3h0M113.1 111.8h0M113.7 102.4h0M151.9 44.8h0M147.9 52.1h0M94.9 95.1h0M138.4 37.8h0M123.4 65.3h0M86.9 135.9h0M135.4 110.7h0M120.2 100.4h0M127.3 83.0h0M113.3 121.5h0M113.7 99.7h0M135.1 62.3h0M117.8 68.2h0M99.8 125.9h0M91.7 48.0h0M144.4 66.1h0M172.8 33.8h0M214.6 97.9h0M202.6 74.3h0M152.9 69.9h0M98.8 132.9h0M87.4 106.0h0M177.7 83.6h0M78.5 30.4h0M79.4 118.7h0M88.6 121.5h0M149.0 31.3h0M93.5 85.6h0M77.4 106.8h0M94.5 66.8h0M83.1 137.0h0M91.9 110.2h0M151.3 124.7h0M68.5 39.4h0M98.5 129.5h0M124.7 133.9h0M123.6 87.0h0M111.5 97.9h0M112.7 105.6h0M70.7 68.2h0M73.5 96.7h0M77.3 38.0h0M92.7 108.8h0M88.8 134.0h0M84.9 112.5h0M140.4 65.4h0M80.7 33.7h0M131.3 46.7h0M86.7 68.1h0M128.2 105.9h0M123.4 111.7h0M128.5 110.6h0M89.1 69.6h0M119.4 119.9h0M126.9 100.1h0M90.3 129.1h0M180.2 85.0h0M159.5 80.1h0M130.5 89.1h0M99.3 94.8h0M71.2 93.9h0M154.2 85.7h0M112.8 123.4h0M170.9 83.1h0M85.7 129.1h0M154.7 59.9h0M97.0 140.0h0M163.0 33.8h0M85.0 117.4h0M95.4 127.7h0M84.5 102.1h0M81.0 104.6h0M129.5 160.1h0M76.3 66.3h0M150.4 83.1h0M169.5 52.6h0M96.1 135.5h0M94.9 127.9h0M160.2 43.6h0M156.2 142.1h0M90.8 121.5h0M84.2 134.5h0M140.5 80.3h0M113.8 103.1h0M101.6 132.2h0M133.7 117.9h0M72.2 102.2h0M106.3 116.4h0M119.6 92.5h0M139.6 44.8h0M105.3 124.0h0M94.7 116.8h0M91.0 128.5h0M140.7 81.4h0M156.2 85.8h0M132.7 104.9h0M145.8 53.4h0M109.4 94.1h0M106.7 90.3h0M151.2 69.3h0M139.3 56.1h0M122.9 113.0h0M82.4 117.2h0M71.4 82.9h0M152.4 58.4h0M75.8 88.5h0M147.7 38.9h0M181.0 76.1h0M88.1 91.3h0M73.9 64.5h0M119.4 84.2h0M89.9 123.0h0M84.8 128.2h0M74.7 108.2h0M92.0 79.1h0M88.1 113.9h0M83.4 123.2h0M88.2 46.6h0M82.5 106.2h0M148.2 59.7h0M99.6 133.5h0M144.3 34.2h0M93.9 127.0h0M151.7 64.4h0M92.9 129.4h0M122.9 114.4h0M100.8 123.4h0M161.7 35.8h0M132.0 112.2h0M156.3 59.4h0M75.8 111.4h0M90.9 139.8h0M94.5 129.0h0M113.6 115.2h0M93.2 133.9h0M102.1 86.2h0M126.8 66.6h0M98.4 131.5h0M129.5 114.3h0M165.5 42.0h0M106.2 78.4h0M85.0 101.4h0M97.9 125.3h0M98.6 85.3h0M89.4 126.5h0M82.2 72.8h0M91.2 113.2h0M94.2 125.7h0M84.6 128.4h0M128.9 92.3h0M168.3 64.2h0M147.5 104.1h0M81.8 117.7h0M113.8 94.7h0M148.1 72.0h0M78.2 115.9h0M98.8 125.1h0M114.9 70.4h0M129.5 102.6h0M145.7 87.4h0M147.3 55.1h0M154.4 39.6h0M138.1 74.0h0M84.3 94.6h0M100.2 111.9h0M88.2 94.0h0M146.2 94.3h0M126.5 62.2h0M84.9 130.5h0M160.6 77.5h0M162.7 40.5h0M79.8 109.1h0M101.1 100.0h0M78.8 118.7h0M81.1 101.6h0M90.7 102.9h0M155.1 100.4h0M126.0 85.8h0M85.2 100.9h0M95.9 112.6h0M115.8 96.9h0M134.2 47.7h0M143.8 109.3h0M92.7 118.4h0M151.9 140.0h0M172.0 64.2h0M161.8 52.0h0M75.3 88.3h0M90.6 111.7h0M98.0 110.6h0M116.4 112.3h0M120.2 97.8h0M173.7 89.0h0M90.2 129.4h0M86.6 123.7h0M174.3 35.7h0M123.8 72.5h0M67.0 30.4h0M70.6 66.1h0M130.6 75.4h0M118.3 75.4h0M127.4 103.5h0M80.2 41.5h0M126.5 93.1h0M96.4 151.9h0M122.6 76.7h0M140.5 147.2h0M122.2 112.9h0M115.1 79.9h0M121.0 106.8h0M84.1 129.0h0M120.8 128.9h0M131.4 90.2h0M144.5 43.1h0M168.4 45.6h0M105.1 124.4h0M87.4 138.8h0M135.6 127.1h0M73.1 97.2h0M74.5 48.4h0M171.4 53.9h0M121.1 99.1h0M126.5 82.7h0M86.4 119.9h0M74.5 70.0h0M84.7 138.3h0M135.2 94.5h0M108.0 105.8h0M122.3 92.1h0M75.9 73.1h0M205.6 72.6h0M107.6 134.2h0M110.4 95.3h0M100.8 122.9h0M130.2 83.3h0M158.1 46.2h0M132.3 109.8h0M129.0 75.7h0M147.5 138.0h0M121.4 112.1h0M154.3 53.5h0M65.9 46.3h0M139.3 82.7h0M137.8 49.9h0M165.9 80.9h0M91.9 140.8h0M128.2 118.3h0M68.8 51.4h0M110.1 124.4h0M105.3 99.2h0M159.3 52.1h0M94.6 147.2h0M99.8 126.6h0M138.3 89.3h0M151.0 43.3h0M122.9 110.4h0M93.5 93.2h0M136.9 74.2h0M162.3 80.2h0M175.7 47.8h0M91.7 134.7h0M152.7 77.3h0M173.5 66.4h0M137.4 63.9h0M93.8 109.0h0M105.6 101.2h0M125.2 86.0h0M130.9 99.8h0M88.1 102.0h0M96.1 124.4h0M127.3 59.5h0M123.5 153.4h0M113.7 102.8h0M91.3 117.8h0M189.4 93.2h0M88.6 126.8h0M93.7 125.0h0M129.9 62.3h0M118.6 91.0h0M170.9 71.4h0M91.0 98.8h0M162.5 30.2h0M83.0 104.3h0M97.8 136.1h0M75.4 80.2h0M93.8 119.7h0M152.3 32.7h0M122.7 104.8h0M141.9 39.2h0M94.0 133.3h0M121.0 35.5h0M129.5 69.5h0M104.3 106.1h0M89.9 112.2h0M162.0 68.1h0M84.8 46.3h0M132.3 67.6h0M137.5 96.9h0M85.0 130.7h0M209.9 78.6h0M178.4 35.0h0M70.7 72.6h0M136.7 72.7h0M122.9 97.0h0M86.4 114.6h0M107.3 104.7h0M112.0 104.1h0M170.6 77.6h0M153.3 123.7h0M78.5 79.1h0M95.2 134.7h0M123.3 120.0h0M112.2 95.7h0M109.4 30.5h0M157.4 116.0h0M149.4 41.4h0M150.3 30.9h0M90.1 84.0h0M112.4 109.8h0M94.8 55.3h0M146.3 49.8h0M106.1 129.3h0M90.4 134.9h0M66.8 65.6h0M122.1 123.9h0M139.7 36.3h0M98.8 124.1h0M157.6 54.4h0M86.6 38.5h0M178.1 31.7h0M151.2 109.0h0M105.5 101.0h0M74.8 97.1h0M192.5 85.8h0M87.3 122.2h0M74.5 36.9h0M74.3 99.7h0M144.6 86.5h0M96.0 124.2h0M120.7 92.4h0M92.0 71.1h0M114.7 65.4h0M157.1 49.3h0M85.7 112.1h0M83.0 124.0h0M86.5 124.5h0M163.8 75.6h0M144.3 59.7h0M154.9 58.4h0M133.9 90.9h0M207.9 85.7h0M158.4 120.7h0M175.8 66.9h0M99.6 128.9h0M100.0 73.3h0M137.7 70.8h0M120.9 113.2h0M142.8 94.7h0M110.5 112.8h0M140.8 65.5h0M77.0 103.2h0M123.7 85.9h0M146.6 35.3h0M118.2 88.8h0M140.7 97.3h0M157.6 35.9h0M166.3 54.6h0M156.8 51.5h0M96.5 142.6h0M94.2 126.1h0M91.0 134.3h0M86.1 90.4h0M91.4 128.5h0M129.8 90.2h0M92.6 110.1h0M82.3 68.3h0M127.5 68.3h0M101.8 133.6h0M109.4 121.2h0M68.6 53.0h0M87.3 132.2h0M121.6 116.6h0M132.9 103.8h0M88.4 134.0h0M88.1 123.3h0M177.4 65.0h0M148.1 88.5h0M72.7 96.0h0M97.7 129.7h0M72.3 78.6h0M106.4 42.6h0M170.3 73.6h0M145.3 62.7h0M136.0 100.7h0M181.4 80.0h0M98.1 121.0h0M70.3 72.9h0M82.2 42.2h0M93.7 126.3h0M94.8 137.0h0M89.4 120.7h0M98.6 129.6h0M103.9 106.2h0M176.4 81.9h0M91.9 96.3h0M80.5 108.6h0M130.0 78.1h0M127.9 49.7h0M168.7 48.7h0M74.9 105.9h0M99.0 112.1h0M89.9 122.3h0M116.5 88.9h0M134.1 80.8h0M70.0 43.6h0M113.1 110.3h0M65.2 65.5h0M64.9 41.9h0M125.5 116.2h0M68.4 82.0h0M201.5 89.6h0M98.3 133.5h0M93.9 127.6h0M76.8 83.2h0M132.5 51.2h0M172.9 48.1h0M91.4 141.9h0M129.6 41.0h0M62.5 42.3h0M149.4 41.3h0M64.3 44.9h0M161.1 48.6h0M89.4 130.5h0M95.4 87.1h0M133.2 73.6h0M110.3 113.9h0M129.3 72.8h0M99.1 130.7h0M132.9 83.0h0M115.1 62.0h0M90.4 94.4h0M152.5 87.4h0M78.0 36.9h0M98.4 118.9h0M160.0 61.4h0M197.0 101.4h0M87.3 126.3h0M88.8 43.4h0M91.6 129.1h0M99.8 140.7h0M162.8 104.4h0M135.7 67.9h0M96.2 113.2h0M71.5 63.6h0M110.3 103.3h0M88.2 129.6h0M153.6 42.3h0M97.8 108.7h0M135.4 73.1h0M82.8 118.1h0M121.0 134.5h0M209.7 78.8h0M124.0 64.4h0M139.6 90.8h0M129.8 104.8h0M100.4 107.5h0M94.9 91.8h0M105.0 91.3h0M116.7 84.3h0M141.7 43.5h0M100.9 108.5h0M115.4 65.4h0M97.5 94.2h0M144.0 29.5h0M95.8 125.6h0M99.4 139.3h0M158.8 50.6h0M87.1 139.6h0M147.4 42.8h0M137.5 49.7h0M123.6 114.0h0M124.8 39.8h0M90.9 122.9h0M65.5 38.6h0M96.7 121.7h0M148.0 77.4h0M117.5 92.6h0M132.1 32.2h0M152.4 50.0h0M94.7 112.7h0M118.9 72.9h0M88.6 123.7h0M103.1 140.7h0M151.0 48.5h0M72.4 98.6h0M140.2 54.8h0M89.2 124.1h0M99.5 110.7h0M110.2 120.9h0M105.5 132.5h0M70.1 62.2h0M110.8 100.5h0M86.5 130.4h0M86.4 114.5h0M83.2 70.2h0M169.3 104.1h0M141.7 70.0h0M77.4 106.4h0M75.5 83.5h0M81.5 123.0h0M95.2 76.8h0M111.6 139.6h0M86.4 117.9h0M106.1 124.8h0M98.6 112.2h0M112.2 74.9h0M101.5 134.4h0M177.7 42.8h0M100.7 35.3h0M90.3 118.5h0M169.9 63.6h0M84.7 136.0h0M110.8 107.7h0M151.5 30.1h0M92.4 106.8h0M136.4 102.6h0M69.3 83.2h0M86.0 111.2h0M155.5 64.7h0M70.9 93.1h0M171.2 38.4h0M149.1 113.8h0M133.8 78.1h0M109.2 106.5h0M157.4 75.2h0M88.4 135.9h0M110.8 60.8h0M102.9 107.0h0M108.9 98.2h0M176.0 30.8h0M133.1 49.7h0M118.9 112.5h0M105.4 111.1h0M95.9 117.7h0M86.6 135.3h0M96.9 86.3h0M98.1 84.8h0M104.0 31.4h0M83.2 136.3h0M116.5 70.6h0M107.2 30.1h0M131.9 77.7h0M170.4 55.1h0M141.7 96.6h0M113.1 115.5h0M139.1 61.1h0M90.8 96.9h0M199.9 76.6h0M127.2 76.9h0M96.7 115.5h0M175.8 63.3h0M126.6 93.1h0M85.2 108.3h0M119.5 122.0h0M96.4 116.9h0M95.3 122.0h0M94.6 136.2h0M102.1 107.9h0M93.6 97.8h0M66.3 55.0h0M80.7 103.7h0M89.4 145.9h0M73.1 94.4h0M100.7 107.1h0M112.1 108.7h0M100.7 116.8h0M71.0 50.9h0M66.4 47.8h0M82.4 90.2h0M130.5 34.7h0M95.5 127.2h0M66.9 34.8h0M93.5 136.7h0M85.0 130.9h0M81.8 115.7h0M91.0 110.9h0M91.2 133.0h0M90.9 137.0h0M88.1 135.4h0M86.8 138.0h0M101.2 126.5h0M169.4 31.0h0M109.9 112.9h0M124.9 104.3h0M112.3 87.4h0M68.6 68.2h0M157.5 81.3h0M121.2 147.1h0M105.6 98.4h0M135.8 90.5h0M167.2 56.0h0M162.9 46.2h0M123.7 69.0h0M120.9 93.8h0M132.8 72.8h0M126.3 80.3h0M163.4 48.7h0M134.8 53.0h0M174.0 64.7h0M93.9 88.6h0M103.5 107.9h0M158.5 104.8h0M121.5 99.0h0M94.4 121.2h0M93.9 129.7h0M162.7 56.9h0M85.3 109.4h0M94.4 136.3h0M169.2 56.1h0M141.6 67.3h0M177.3 59.6h0M176.0 46.8h0M107.8 128.3h0M87.1 86.3h0M147.5 70.5h0M153.7 54.5h0M101.8 139.4h0M120.0 56.4h0M86.3 59.6h0M137.3 132.4h0M79.5 45.1h0M121.4 34.6h0M89.8 126.0h0M102.3 127.1h0M100.1 44.4h0M95.2 118.8h0M150.6 37.3h0M84.7 50.4h0M114.6 100.9h0M95.6 123.0h0M88.2 144.0h0M144.6 59.2h0M141.6 42.1h0M98.6 108.9h0M109.4 125.4h0M161.7 41.2h0M98.2 120.3h0M140.8 56.6h0M96.6 129.5h0M71.4 65.4h0M134.0 100.9h0M69.6 56.6h0M89.0 121.7h0M140.7 81.4h0M128.5 165.6h0M84.5 136.1h0M158.9 68.5h0M104.1 123.6h0M132.4 121.5h0M87.1 108.9h0M137.0 74.8h0M180.7 65.0h0M66.4 31.4h0M116.7 91.1h0M83.0 130.3h0M107.2 113.3h0M178.1 67.0h0M103.9 142.8h0M148.2 49.7h0M118.6 149.4h0M109.7 94.6h0M142.2 48.0h0M108.1 93.4h0M137.3 75.6h0M105.5 130.4h0M87.1 85.7h0M107.2 113.2h0M125.1 64.6h0M133.3 32.3h0M94.9 47.8h0M96.5 73.9h0M180.0 71.9h0M130.7 95.6h0M109.5 129.9h0M101.1 106.8h0M76.1 77.2h0M169.8 104.0h0M89.4 128.3h0M99.3 134.1h0M84.2 71.9h0M61.9 34.5h0M77.8 31.8h0M111.4 59.9h0M126.3 110.6h0M157.5 64.1h0M149.0 75.4h0M73.6 87.9h0M100.5 136.7h0M102.1 120.6h0M116.4 108.3h0M84.1 89.5h0M86.7 108.3h0M94.7 131.4h0M117.0 81.6h0M101.0 142.3h0M154.8 73.8h0M208.4 80.8h0M98.7 118.4h0M105.4 120.1h0M97.9 93.0h0M144.9 62.7h0M98.7 132.1h0M95.6 117.8h0M89.8 88.2h0M76.8 105.4h0M89.9 107.7h0M157.1 82.4h0M144.2 71.3h0M158.5 49.6h0M82.7 94.6h0M139.5 73.5h0M128.5 106.2h0M155.8 49.0h0M155.9 58.0h0M107.1 127.3h0M107.8 126.3h0M117.6 143.6h0M181.0 88.2h0M177.3 68.0h0M109.4 63.7h0M130.7 47.2h0M91.3 89.8h0M146.8 51.1h0M86.4 129.8h0M101.4 131.7h0M141.7 75.6h0M99.1 92.8h0M87.8 128.7h0M94.3 103.8h0M74.5 68.8h0M135.5 110.4h0M127.4 106.4h0M129.3 79.8h0M134.0 65.5h0M97.4 114.6h0M165.9 73.5h0M110.3 109.4h0M128.5 74.8h0M120.3 95.5h0M104.7 102.5h0M161.4 61.8h0M128.9 95.1h0M98.9 100.7h0M92.5 135.5h0M76.6 65.1h0M65.9 61.4h0M151.0 34.9h0M103.8 125.6h0M166.3 89.1h0M85.4 119.2h0M96.0 127.7h0M141.9 107.0h0M135.4 74.9h0M100.9 74.3h0M164.3 39.7h0M104.3 101.8h0M88.6 138.9h0M85.3 112.7h0M105.7 78.8h0M142.8 48.0h0M91.2 121.3h0M101.6 94.0h0M96.7 131.4h0M137.0 64.2h0M91.7 135.7h0M163.4 52.3h0M83.6 119.2h0M131.1 117.3h0M114.9 111.7h0M131.7 60.8h0M142.0 53.2h0M110.7 127.8h0M94.6 102.3h0M97.7 122.5h0M78.4 97.4h0M212.5 78.3h0M98.4 120.5h0M76.0 68.3h0M87.0 35.3h0M135.1 101.2h0M86.8 96.2h0M94.3 102.2h0M133.3 121.5h0M98.6 93.9h0M110.3 127.3h0M90.6 110.8h0M142.8 44.7h0M97.5 120.3h0M115.4 149.6h0M143.5 74.7h0M165.3 53.4h0M100.8 100.1h0M100.1 97.3h0M139.9 102.6h0M145.8 67.7h0M103.8 138.5h0M92.0 108.7h0M87.2 111.5h0M126.5 84.3h0M157.2 71.3h0M95.2 130.3h0M101.8 115.9h0M120.0 110.9h0M78.8 113.8h0M104.1 88.1h0M81.9 134.3h0M150.4 88.6h0M87.8 128.0h0M176.7 47.0h0M85.6 139.2h0M94.4 129.4h0M105.6 112.6h0M123.2 73.2h0M117.6 102.3h0M139.2 104.6h0M94.2 135.1h0M79.7 110.7h0M105.3 110.1h0M85.9 77.0h0M75.0 106.4h0M91.6 104.2h0M73.3 56.8h0M132.2 75.3h0M71.0 68.1h0M95.7 129.4h0M147.9 37.7h0M116.7 92.8h0M85.1 77.0h0M67.1 62.3h0M91.8 130.2h0M95.2 128.2h0M86.5 139.1h0M137.5 63.9h0M97.8 91.5h0M153.2 47.0h0M187.7 83.5h0M89.0 137.6h0M168.5 69.8h0M124.1 93.6h0M107.2 103.8h0M88.4 135.1h0M173.6 64.9h0M97.1 117.8h0M88.5 59.3h0M102.5 127.3h0M76.2 37.3h0M110.9 89.1h0M176.5 46.7h0M153.6 41.8h0M106.4 48.6h0M171.2 46.0h0M155.5 74.0h0M137.7 73.2h0M84.5 119.0h0M85.1 136.6h0M140.2 67.7h0M67.3 61.7h0M98.2 131.5h0M116.3 80.5h0M107.4 58.8h0M102.7 129.3h0M180.1 34.2h0M68.5 81.7h0M69.2 85.2h0M83.1 109.7h0M69.3 79.2h0M101.7 118.5h0M179.2 83.4h0M104.7 107.3h0M97.1 70.3h0M119.1 85.4h0M101.3 128.0h0M102.4 114.0h0M84.7 109.4h0M152.9 44.4h0M129.9 61.9h0M141.4 81.2h0M112.6 69.9h0M88.3 124.2h0M164.0 35.3h0M85.2 108.0h0M92.5 75.1h0M203.4 79.9h0M154.8 51.8h0M165.2 46.5h0M133.2 89.4h0M95.6 100.9h0M162.7 44.3h0M74.9 60.3h0M145.4 32.4h0M68.4 42.1h0M138.7 49.8h0M111.3 127.2h0M145.9 90.9h0M155.3 30.7h0M81.3 94.8h0M82.7 132.3h0M145.2 60.2h0M117.3 67.1h0M151.1 67.5h0M116.4 107.9h0M81.0 63.7h0M70.7 69.1h0M111.6 144.4h0M90.0 89.4h0M98.2 102.3h0M85.0 119.3h0M91.3 130.1h0M134.8 74.5h0M149.0 66.7h0M149.2 114.4h0M121.4 86.6h0M75.7 81.2h0M92.5 100.2h0M149.9 78.3h0M87.5 106.1h0M89.8 104.2h0M124.7 93.2h0M87.3 121.3h0M148.9 54.6h0M156.4 84.7h0M106.0 107.4h0M82.6 71.9h0M153.6 32.6h0M125.9 39.3h0M122.4 99.5h0M100.2 117.1h0M89.6 136.5h0M92.5 68.4h0M105.9 100.0h0M87.8 115.5h0M101.9 102.5h0M140.1 58.7h0M111.0 127.6h0M84.5 107.9h0M138.6 64.2h0M74.7 84.5h0M110.0 109.2h0M96.2 105.4h0M126.2 115.4h0M132.4 59.0h0M135.0 79.4h0M125.5 125.1h0M113.8 115.0h0M97.9 90.8h0M104.1 115.7h0M102.0 126.2h0M105.5 121.9h0M161.2 80.7h0M136.7 77.6h0M106.0 115.5h0M72.6 77.9h0M108.5 105.7h0M106.1 51.0h0M112.5 105.7h0M122.9 88.8h0M78.3 41.7h0M140.5 70.1h0M90.7 120.1h0M110.8 148.3h0M133.1 46.0h0M171.7 36.8h0M112.3 115.4h0M138.8 35.1h0M86.3 131.1h0M178.0 39.4h0M152.4 64.4h0M79.9 51.4h0M96.0 94.3h0M118.4 106.4h0M168.7 62.9h0M159.7 46.1h0M101.2 96.0h0M110.8 123.4h0M105.7 130.0h0M76.8 100.7h0M155.2 90.0h0M117.9 70.9h0M90.9 131.6h0M158.4 65.3h0M132.0 101.6h0M135.2 61.0h0M98.1 133.9h0M111.2 127.1h0M95.7 98.3h0M140.8 76.7h0M100.3 121.4h0M162.8 80.3h0M117.0 136.8h0M102.8 128.9h0M116.4 103.6h0M103.2 71.3h0M131.5 87.7h0M118.6 109.2h0M83.6 131.6h0M83.4 87.2h0M126.8 115.8h0M156.7 98.2h0M208.3 80.9h0M127.3 107.5h0M115.5 95.8h0M137.5 44.9h0M97.3 100.0h0M80.2 72.1h0M87.7 127.8h0M68.1 50.6h0M85.2 107.0h0M69.2 82.7h0M131.6 76.3h0M143.5 72.6h0M67.1 59.9h0M163.1 51.5h0M89.4 124.2h0M135.9 102.8h0M89.8 113.7h0M70.6 85.1h0M148.0 80.7h0M98.8 111.9h0M100.8 127.4h0M85.0 132.8h0M93.6 133.8h0M94.4 136.5h0M143.0 37.0h0M111.0 115.3h0M135.7 80.0h0M89.0 126.9h0M85.2 123.7h0M173.6 40.2h0M104.9 118.3h0M116.7 78.0h0M126.6 149.3h0M141.0 90.1h0M97.6 129.5h0M84.3 130.2h0M70.2 46.3h0M96.9 36.4h0M90.6 137.2h0M113.0 118.7h0M146.8 30.9h0M169.6 70.8h0M69.1 41.9h0M101.6 124.2h0M106.3 116.4h0M71.0 89.3h0M175.9 55.4h0M148.0 45.1h0M118.5 50.0h0M172.1 64.7h0M131.4 65.0h0M88.0 109.7h0M79.8 98.4h0M135.2 64.9h0M78.4 39.6h0M215.1 72.5h0M124.7 108.0h0M147.3 41.2h0M124.4 69.3h0M118.4 89.8h0M136.8 40.0h0M93.2 144.7h0M106.2 112.3h0M94.2 35.8h0M132.6 78.5h0M121.5 112.5h0M86.7 88.2h0M100.3 123.3h0M93.3 131.7h0M116.1 119.6h0M111.6 74.4h0M166.0 63.8h0M111.2 104.8h0M85.5 127.2h0M117.4 84.4h0M93.4 116.1h0M141.5 134.6h0M86.3 108.5h0M64.0 58.2h0M92.1 132.2h0M138.9 88.3h0M76.7 50.9h0M157.2 44.2h0M127.6 109.0h0M96.6 139.3h0M140.3 81.7h0M132.7 144.1h0M113.4 115.2h0M77.6 120.8h0M130.7 117.1h0M149.6 89.8h0M97.6 100.1h0M108.2 106.2h0M86.0 136.4h0M150.6 49.1h0M118.5 138.0h0M126.6 60.4h0M95.0 130.2h0M126.3 81.7h0M103.9 117.0h0M161.9 50.9h0M116.2 90.1h0M135.9 55.7h0M124.7 103.7h0M107.8 125.3h0M92.9 110.2h0M150.6 63.0h0M107.6 80.2h0M99.3 131.0h0M119.3 147.8h0M104.7 122.4h0M78.8 124.3h0M184.7 94.8h0M74.5 40.6h0M144.3 76.7h0M124.7 98.1h0M114.5 123.0h0M70.7 60.6h0M177.4 59.3h0M99.0 85.0h0M108.6 99.5h0M140.0 74.3h0M89.9 127.1h0M85.0 73.2h0M99.4 151.2h0M169.9 37.3h0M114.0 110.5h0M75.5 82.8h0M115.2 115.3h0M151.8 69.0h0M118.3 71.8h0M103.0 122.3h0M140.5 57.1h0M79.2 108.9h0M104.5 106.5h0M138.7 76.7h0M142.1 92.1h0M138.4 79.0h0M93.1 118.7h0M79.9 55.1h0M107.3 61.5h0M68.1 33.6h0M79.5 43.9h0M93.0 88.4h0M105.3 110.9h0M85.7 135.9h0M119.9 45.0h0M139.0 74.6h0M80.4 91.4h0M157.6 42.1h0M176.7 33.4h0M129.5 92.7h0M112.8 134.9h0M62.5 44.3h0M97.3 161.0h0M139.8 58.7h0M123.9 91.2h0M82.2 123.2h0M136.5 64.7h0M154.4 59.9h0M108.9 62.9h0M85.6 111.5h0M106.7 106.3h0M86.4 57.7h0M112.1 120.0h0M93.1 115.6h0M91.3 133.8h0M100.9 139.1h0M113.6 84.1h0M132.3 70.5h0M164.7 76.1h0M127.0 119.9h0M85.9 125.9h0M133.3 54.0h0M154.6 99.3h0M83.5 115.6h0M146.3 42.8h0M145.5 44.6h0M92.9 109.2h0M141.3 62.9h0M156.6 101.1h0M105.6 98.3h0M111.6 130.5h0M140.6 60.1h0M108.8 94.1h0M93.6 123.0h0M142.2 53.5h0M117.9 141.9h0M120.2 84.5h0M80.1 119.3h0M87.6 133.2h0M180.1 53.3h0M90.6 125.5h0M92.6 107.9h0M117.3 101.6h0M146.2 57.3h0M93.0 124.1h0M92.2 121.8h0M99.6 135.2h0M81.1 119.3h0M97.0 135.0h0M89.4 109.3h0M67.4 68.5h0M101.7 117.3h0M118.9 53.5h0M113.1 78.8h0M98.0 116.5h0M137.3 85.4h0M107.6 91.7h0M175.3 32.2h0M152.7 53.4h0M78.1 68.6h0M100.8 132.1h0M99.1 137.6h0M81.4 126.9h0M119.7 133.2h0M126.2 97.4h0M127.3 125.6h0M126.4 94.9h0M93.7 110.8h0M80.1 124.7h0M91.2 139.6h0M116.9 99.4h0M109.3 113.5h0M125.8 105.5h0M180.4 54.4h0M139.8 74.6h0M97.1 138.2h0M109.9 134.9h0M95.8 128.6h0M114.9 67.4h0M83.0 94.3h0M104.7 107.5h0M108.4 120.3h0M82.4 131.6h0M97.1 113.0h0M96.3 122.8h0M134.2 59.8h0M80.4 67.1h0M105.4 123.2h0M94.0 93.5h0M98.5 135.4h0M93.4 103.7h0M146.5 79.7h0M185.6 72.9h0M117.8 79.0h0M119.4 129.6h0M143.3 63.5h0M145.6 65.2h0M150.5 71.7h0M150.7 71.8h0M82.5 132.8h0M108.8 112.5h0M165.9 51.1h0M119.3 97.8h0M156.1 48.4h0M148.7 57.8h0M160.4 99.8h0M130.8 84.3h0M112.3 117.8h0M180.1 32.4h0M67.3 79.0h0M98.0 117.7h0M114.0 104.5h0M102.2 106.8h0M116.3 68.1h0M128.1 90.5h0M98.7 104.5h0M92.6 99.1h0M110.8 116.5h0M148.4 69.0h0M91.8 93.9h0M131.7 97.0h0M120.0 95.0h0M86.8 126.3h0M77.5 90.0h0M80.4 128.1h0M101.3 119.3h0M133.8 49.2h0M122.2 80.9h0M93.8 125.5h0M123.9 129.1h0M88.6 129.3h0M116.3 73.8h0M104.4 60.6h0M80.4 66.8h0M77.0 91.8h0M179.7 33.1h0M144.3 62.5h0M101.2 79.9h0M154.4 48.8h0M173.0 69.1h0M112.5 45.0h0M118.8 97.9h0M173.8 34.7h0M83.4 133.7h0M78.2 73.2h0M97.4 75.4h0M161.8 62.0h0M85.7 130.1h0M82.7 129.9h0M80.8 111.8h0M87.9 126.9h0M84.7 138.1h0M72.5 101.8h0M92.3 80.7h0M93.8 71.0h0M177.5 32.3h0M178.6 45.0h0M79.0 64.9h0M174.8 64.3h0M119.5 119.7h0M111.5 119.3h0M148.4 52.9h0M94.0 134.6h0M138.7 75.2h0M98.0 137.9h0M110.7 120.0h0M67.1 70.0h0M80.2 122.9h0M84.6 137.7h0M136.0 80.0h0M85.2 103.4h0M72.6 56.5h0M99.8 124.1h0M108.1 86.4h0M72.1 95.1h0M147.9 31.2h0M75.4 106.4h0M164.5 65.3h0M132.5 63.3h0M65.0 35.2h0M131.7 158.1h0M79.7 118.7h0M148.1 65.8h0M159.5 64.7h0M73.8 38.4h0M86.4 110.9h0M109.0 90.0h0M96.5 133.8h0M135.9 55.8h0M85.7 109.8h0M141.8 33.6h0M127.8 70.5h0M68.4 47.7h0M113.1 96.4h0M136.0 117.0h0M131.3 93.8h0M92.2 125.2h0M132.3 83.0h0M88.3 123.7h0M142.2 57.2h0M192.4 75.0h0M124.9 98.8h0M93.2 115.5h0M84.3 93.6h0M113.0 107.4h0M113.3 123.9h0M203.4 107.7h0M103.1 111.9h0M105.5 119.4h0M114.0 97.3h0M111.2 116.5h0M120.6 75.4h0M155.0 127.2h0M133.3 38.4h0M173.6 53.9h0M79.8 93.8h0M172.7 48.7h0M97.2 140.7h0M97.6 115.9h0M166.9 31.7h0M123.1 139.5h0M114.9 115.1h0M87.5 116.4h0M86.5 138.3h0M90.0 105.1h0M124.3 94.1h0M201.5 78.0h0M195.5 78.5h0M86.3 90.1h0M74.7 46.9h0M94.6 102.9h0M107.7 109.7h0M119.0 62.3h0M209.8 97.8h0M136.6 68.3h0M97.6 131.5h0M89.9 137.0h0M93.8 131.2h0M133.0 89.7h0M115.7 68.0h0M89.0 119.5h0M98.1 100.3h0M87.3 127.3h0M66.9 68.3h0M94.4 123.3h0M96.7 125.8h0M105.2 123.4h0M71.4 42.4h0M107.1 101.4h0M147.4 69.1h0M87.3 115.9h0M113.9 79.4h0M96.2 143.0h0M144.4 45.8h0M145.1 53.8h0M176.2 70.8h0M122.4 100.7h0M137.3 106.4h0M94.2 151.2h0M164.8 104.4h0M174.4 36.3h0M141.1 62.0h0M174.0 49.2h0M160.1 50.8h0M79.5 93.4h0M164.2 83.4h0M104.0 120.0h0M91.5 127.4h0M138.5 41.7h0M102.0 145.4h0M163.6 71.3h0M132.7 130.7h0M122.4 82.7h0M142.3 72.6h0M160.6 89.1h0M139.2 114.7h0M129.1 52.6h0M98.4 94.6h0M81.7 131.9h0M80.8 102.2h0M173.0 36.3h0M132.3 144.1h0M163.3 58.6h0M124.1 102.2h0M85.7 130.4h0M135.2 68.5h0M90.6 104.3h0M176.3 53.8h0M90.1 105.4h0M126.4 53.9h0M110.2 118.0h0M91.6 33.1h0M183.6 98.4h0M132.1 62.4h0M77.3 55.3h0M142.9 83.1h0M96.2 109.0h0M100.0 94.1h0M131.6 91.4h0M84.5 124.8h0M124.3 61.1h0M123.4 75.5h0M119.1 93.5h0M77.3 72.4h0M63.6 31.4h0M143.3 32.1h0M119.8 80.0h0M138.5 38.6h0M133.2 109.1h0M137.9 59.0h0M88.3 109.0h0M92.4 121.8h0M69.1 63.3h0M100.2 109.1h0M171.7 33.4h0M112.5 142.6h0M95.7 120.9h0M87.0 83.6h0M96.2 118.3h0M111.6 80.8h0M84.8 112.2h0M155.1 112.7h0M118.0 134.3h0M120.7 103.8h0M99.8 109.4h0M70.9 95.1h0M137.1 30.8h0M141.6 69.2h0M78.7 73.3h0M99.2 136.1h0M73.4 106.7h0M165.4 68.0h0M86.8 97.9h0M145.4 55.3h0M99.8 110.8h0M108.0 106.2h0M114.6 139.7h0M131.0 48.4h0M87.4 107.8h0M148.4 50.9h0M178.8 62.9h0M92.3 126.8h0M81.5 39.4h0M101.0 115.2h0M83.9 128.7h0M83.6 137.0h0M98.9 96.6h0M151.7 77.5h0M111.6 35.1h0M100.4 134.7h0M80.2 88.6h0M106.9 93.8h0M94.8 117.0h0M119.7 53.8h0M95.5 120.4h0M131.9 66.9h0M86.6 50.9h0M134.6 107.4h0M107.1 101.0h0M74.2 113.6h0M121.8 99.1h0M119.4 79.9h0M116.9 139.5h0M106.1 113.0h0M130.3 152.1h0M82.6 105.9h0M81.8 133.6h0M115.1 126.9h0M127.0 120.9h0M84.2 71.2h0M209.2 79.9h0M134.2 49.7h0M124.9 82.1h0M126.9 97.9h0M90.7 125.2h0M166.9 63.5h0M212.6 85.7h0M121.3 76.7h0M99.5 98.5h0M74.2 91.4h0M116.2 128.2h0M93.2 138.1h0M141.5 90.0h0M156.9 56.3h0M145.3 87.1h0M79.0 125.3h0M158.6 70.7h0M113.3 70.5h0M134.7 69.4h0M141.0 36.0h0M177.7 53.3h0M154.2 57.0h0M95.5 114.1h0M94.6 109.4h0M177.5 47.4h0M156.4 148.0h0M82.6 70.3h0M135.1 63.2h0M81.8 47.1h0M153.9 44.6h0M163.7 74.0h0M85.4 119.7h0M81.9 71.0h0M158.0 84.5h0M101.1 136.0h0M173.2 80.0h0M72.4 45.4h0M114.7 109.3h0M142.6 76.3h0M63.3 52.7h0M102.6 132.0h0M112.0 130.8h0M89.4 137.6h0M86.9 103.4h0M81.7 116.4h0M162.7 66.7h0M87.8 70.9h0M142.5 49.5h0M91.5 130.4h0M151.3 59.8h0M95.0 126.1h0M93.6 112.1h0M102.3 47.5h0M100.4 108.0h0M89.1 130.2h0M122.1 31.0h0M85.8 132.6h0M116.6 82.1h0M96.7 138.4h0M120.7 111.3h0M78.3 79.5h0M89.5 136.5h0M94.6 105.4h0M127.3 95.4h0M67.2 65.0h0M147.1 81.0h0M172.6 77.5h0M160.6 54.3h0M95.5 128.3h0M116.9 98.9h0M93.9 40.2h0M97.5 116.3h0M137.1 88.5h0M81.5 54.6h0M85.5 132.4h0M90.6 141.3h0M122.9 87.3h0M85.2 123.2h0M96.6 130.1h0M170.9 43.3h0M123.0 111.5h0M90.9 114.9h0M97.6 98.2h0M133.9 109.8h0M82.6 105.0h0M198.5 89.4h0M170.1 42.9h0M71.8 51.0h0M64.5 54.9h0M141.5 90.5h0M69.3 45.0h0M105.3 133.7h0M74.2 67.9h0M90.3 104.0h0M85.0 126.7h0M68.3 81.8h0M173.4 73.5h0M90.3 112.9h0M127.8 87.9h0M88.8 52.5h0M100.4 136.8h0M115.9 113.0h0M85.7 136.7h0M125.9 105.3h0M161.6 59.6h0M110.4 83.5h0M200.4 85.4h0M180.7 56.7h0M109.2 115.4h0M210.2 76.0h0M90.1 104.7h0M106.6 114.4h0M118.8 118.3h0M126.0 85.0h0M104.1 90.2h0M97.6 123.1h0M86.6 122.4h0M165.4 108.9h0M88.7 121.5h0M122.2 62.3h0M129.9 71.3h0M138.0 147.1h0M85.1 99.0h0M118.9 126.9h0M109.1 116.7h0M96.8 125.8h0M98.9 127.3h0M103.3 83.7h0M137.8 119.0h0M90.4 34.8h0M101.1 35.5h0M174.6 53.3h0M90.1 104.7h0M103.1 141.6h0M88.8 121.3h0M129.3 97.7h0M89.6 142.3h0M90.7 130.9h0M164.4 87.3h0M137.2 73.9h0M78.6 72.2h0M93.1 114.3h0M94.6 116.8h0M156.2 65.6h0M136.1 57.2h0M137.3 44.1h0M103.1 134.8h0M162.2 86.1h0M73.7 82.8h0M124.9 111.7h0M98.7 128.3h0M105.4 121.6h0M112.2 123.5h0M74.5 109.6h0M93.3 100.4h0M74.4 90.4h0M119.7 33.6h0M100.4 78.1h0M179.3 110.0h0M89.9 129.8h0M92.2 114.8h0M145.4 100.6h0M148.6 58.4h0M112.1 123.8h0M91.4 134.4h0M89.9 146.2h0M98.9 107.1h0M169.3 99.5h0M97.3 100.2h0M136.8 102.0h0M107.2 124.4h0M132.7 78.8h0M94.7 97.0h0M78.6 74.7h0M108.6 126.7h0M116.2 90.8h0M90.8 122.9h0M77.9 74.4h0M120.5 118.6h0M88.5 134.9h0M120.0 106.0h0M159.4 89.4h0M117.2 68.0h0M144.0 118.7h0M144.2 49.9h0M70.8 82.9h0M106.9 98.1h0M90.5 130.9h0M137.3 61.3h0M98.1 80.6h0M132.0 61.3h0M119.1 146.2h0M175.7 33.8h0M202.0 93.5h0M163.2 80.7h0M102.2 91.7h0M93.5 119.0h0M64.8 42.9h0M154.2 38.4h0M140.8 102.8h0M104.0 95.7h0M131.4 92.3h0M79.7 89.6h0M105.6 108.4h0M89.1 109.0h0M76.2 51.4h0M110.4 73.2h0M112.8 110.7h0M96.8 101.7h0M91.3 149.6h0M91.8 133.0h0M99.9 118.2h0M181.9 82.8h0M98.6 120.1h0M80.2 32.4h0M151.0 60.4h0M77.2 47.1h0M83.5 137.2h0M137.1 49.6h0M147.6 37.9h0M107.3 112.4h0M73.3 104.4h0M95.9 130.2h0M82.8 121.5h0M85.0 96.7h0M85.1 123.3h0M122.5 112.8h0M123.6 70.5h0M138.6 48.2h0M99.4 122.8h0M150.6 63.1h0M126.4 96.0h0M123.0 80.7h0M100.7 91.1h0M97.1 100.3h0M94.4 93.0h0M142.4 32.4h0M122.4 80.8h0M130.1 58.2h0M203.8 80.4h0M128.2 59.2h0M75.4 109.9h0M91.5 124.8h0M73.0 85.9h0M70.0 92.6h0M130.9 99.2h0M157.7 104.8h0M73.4 88.3h0M107.9 88.7h0M83.1 120.6h0M176.5 120.2h0M165.4 57.4h0M100.6 105.2h0M109.6 79.0h0M125.4 98.0h0M163.6 66.2h0M80.3 106.8h0M160.7 90.7h0M71.0 91.5h0M92.5 102.0h0M160.0 46.9h0M80.4 130.7h0M90.0 108.6h0M84.7 122.7h0M158.8 66.3h0M68.5 58.4h0M152.5 31.1h0M124.1 101.4h0M105.9 121.2h0M104.7 90.6h0M177.7 41.8h0M109.2 77.9h0M88.7 113.4h0M119.8 77.9h0M87.3 113.3h0M162.7 37.8h0M97.6 115.6h0M164.9 53.9h0M153.2 65.9h0M79.3 118.2h0M62.4 46.5h0M121.7 66.8h0M98.5 92.8h0M98.8 117.7h0M89.8 137.0h0M99.4 118.0h0M96.6 137.7h0M123.2 87.7h0M78.0 109.4h0M146.0 63.5h0M141.1 90.3h0M90.8 120.4h0M161.4 38.1h0M93.4 107.4h0M126.5 62.9h0M106.2 125.1h0M87.1 111.5h0M77.3 81.1h0M94.8 137.2h0M88.7 121.7h0M141.7 29.6h0M118.5 97.8h0M111.2 136.4h0M87.8 123.3h0M83.6 112.0h0M95.6 131.8h0M139.5 92.0h0M115.0 117.7h0M127.3 61.6h0M94.9 80.7h0M105.7 123.0h0M107.8 104.7h0M121.6 55.2h0M115.3 104.8h0M172.5 71.8h0M90.3 120.5h0M180.9 61.3h0M89.9 123.9h0M87.9 70.6h0M105.0 133.1h0M122.3 118.1h0M94.4 105.4h0M101.6 100.8h0M161.7 106.4h0M82.1 59.3h0M84.5 107.9h0M112.7 126.7h0M95.6 134.6h0M88.3 122.4h0M80.6 100.5h0M106.7 138.2h0M124.7 122.0h0M70.8 89.0h0M86.0 117.3h0M157.9 67.0h0M91.0 113.1h0M100.1 135.6h0M100.9 130.6h0M97.3 134.7h0M135.3 68.1h0M96.1 103.2h0M105.9 134.0h0M150.8 62.3h0M76.7 93.4h0M110.4 138.9h0M69.7 53.8h0M73.1 94.1h0M132.5 78.6h0M108.4 115.3h0M83.3 103.2h0M145.4 81.5h0M74.5 75.5h0M79.4 98.9h0M73.2 83.8h0M105.5 119.2h0M174.8 31.0h0M142.6 44.7h0M160.0 71.3h0M142.1 47.5h0M149.6 77.9h0M73.8 34.7h0M113.3 89.8h0M98.5 119.0h0M116.3 94.1h0M123.9 134.5h0M149.1 110.8h0M81.5 88.2h0M172.5 41.9h0M153.0 36.4h0M102.4 101.0h0M73.3 46.2h0M144.3 100.0h0M155.4 51.5h0M133.0 109.8h0M97.7 136.6h0M125.1 91.3h0M110.0 118.5h0M99.9 131.6h0M96.8 137.2h0M108.2 112.8h0M180.1 72.1h0M145.9 68.0h0M99.1 107.8h0M91.9 93.0h0M117.1 106.6h0M88.0 123.1h0M98.8 114.6h0M96.1 132.6h0M66.2 53.5h0M138.0 79.4h0M140.8 79.6h0M107.4 107.4h0M91.0 123.2h0M90.4 110.6h0M99.8 121.9h0M123.7 103.6h0M142.3 41.6h0M91.5 138.1h0M94.8 112.7h0M124.4 90.9h0M122.7 102.2h0M89.8 74.9h0M68.9 87.6h0M127.3 60.0h0M92.1 123.5h0M141.2 56.9h0M121.3 37.5h0M88.8 139.5h0M91.6 64.1h0M102.6 132.6h0M140.2 60.2h0M82.2 76.2h0M84.2 32.4h0M117.7 110.3h0M103.4 122.0h0M127.0 131.4h0M92.2 104.7h0M122.8 125.8h0M67.6 35.0h0M79.7 100.4h0M98.6 132.2h0M118.3 70.0h0M113.5 88.9h0M102.6 109.6h0M112.4 113.0h0M71.4 98.2h0M136.9 61.1h0M134.6 82.8h0M79.5 104.4h0M126.9 81.6h0M101.0 141.8h0M120.9 82.5h0M113.8 141.3h0M153.8 84.3h0M141.1 67.1h0M135.5 52.6h0M132.9 94.1h0M92.0 123.4h0M194.2 77.6h0M84.3 124.4h0M157.0 43.3h0M121.4 71.5h0M179.8 41.9h0M83.9 110.3h0M103.7 130.1h0M96.5 121.7h0M79.2 91.4h0M113.3 63.7h0M115.6 48.3h0M100.4 115.3h0M119.6 109.7h0M83.7 79.3h0M136.4 36.8h0M88.0 84.5h0M101.6 109.5h0M140.2 53.6h0M97.0 127.9h0M165.6 41.3h0M118.8 70.4h0M112.9 90.4h0M134.9 98.5h0M92.0 114.4h0M94.4 125.6h0M141.3 42.4h0M129.0 68.2h0M94.0 119.7h0M173.0 37.4h0M167.8 40.7h0M170.5 60.6h0M162.1 87.6h0M166.4 75.2h0M79.8 113.8h0M132.3 89.0h0M122.7 88.3h0M116.1 109.9h0M142.4 43.1h0M92.6 104.3h0M88.2 82.2h0M105.9 63.1h0M65.8 71.1h0M93.3 108.1h0M105.5 111.6h0M119.0 104.5h0M104.7 102.7h0M110.6 117.7h0M85.6 122.6h0M164.2 38.1h0M146.7 69.3h0M125.4 78.4h0M101.5 114.1h0M61.8 34.5h0M115.8 109.5h0M128.4 60.6h0M97.4 124.2h0M122.1 61.6h0M83.5 110.4h0M97.6 109.6h0M91.2 134.3h0M128.8 116.0h0M110.6 107.2h0M103.8 115.5h0M131.6 70.4h0M152.9 31.0h0M80.3 112.2h0M87.6 104.2h0M100.1 91.8h0M117.1 73.1h0M132.3 92.6h0M112.8 91.6h0M172.5 52.5h0M87.4 77.6h0M80.7 49.8h0M100.4 102.4h0M110.6 125.1h0M127.9 75.0h0M86.8 118.7h0M133.8 61.2h0M153.3 34.8h0M102.6 115.6h0M187.8 82.4h0M135.4 149.5h0M91.7 108.9h0M138.8 76.6h0M103.5 135.9h0M165.3 38.1h0M153.7 46.3h0M81.7 86.7h0M101.6 85.8h0M84.5 124.7h0M158.6 31.1h0M76.2 108.5h0M156.5 104.2h0M101.3 114.9h0M100.1 105.0h0M106.1 111.3h0M108.6 122.7h0M128.1 92.1h0M100.8 120.7h0M79.4 58.0h0M73.7 66.7h0M91.0 118.7h0M97.3 119.6h0M156.6 43.6h0M73.0 36.8h0M92.5 115.1h0M91.8 127.6h0M81.5 66.1h0M153.2 93.6h0M166.2 54.5h0M173.0 68.2h0M176.5 37.6h0M105.6 118.6h0M105.7 123.4h0M120.7 108.5h0M72.1 46.5h0M119.0 111.0h0M90.8 114.5h0M120.4 139.5h0M99.6 112.0h0M92.6 120.5h0M91.6 122.8h0M107.4 122.2h0M117.7 111.7h0M91.5 108.1h0M96.9 110.2h0M105.4 111.5h0M170.7 82.2h0M170.4 70.8h0M126.5 94.5h0M100.1 109.0h0M81.8 103.1h0M71.1 79.7h0M123.5 70.8h0M75.7 50.9h0M84.7 129.5h0M100.8 133.0h0M156.2 74.8h0M109.8 96.7h0M85.1 119.5h0M135.3 108.5h0M87.6 127.4h0M121.9 102.5h0M179.6 45.7h0M149.6 39.6h0M117.4 69.8h0M118.4 44.6h0M171.9 62.6h0M98.3 77.1h0M104.8 118.2h0M116.3 90.8h0M136.5 103.7h0M72.9 56.9h0" stroke="#0000ff" stroke-width="2.1" stroke-linecap="round" fill="none"/>
<path d="M100.8 157.6h0M102.4 161.1h0M104.0 164.1h0M105.6 166.6h0M107.2 168.6h0M108.8 170.0h0M110.4 170.9h0M112.0 171.2h0M112.2 171.2h0M113.8 171.0h0M115.4 170.4h0M117.0 169.4h0M118.6 167.9h0M120.2 166.1h0M121.8 163.8h0M112.1 144.0h0M112.2 144.9h0M112.2 145.8h0M112.3 146.7h0M112.3 147.6h0M112.2 148.5h0M112.4 149.4h0M112.4 150.3h0M112.4 151.2h0M112.4 152.1h0M112.3 153.0h0M111.7 153.9h0M112.4 154.8h0M112.4 155.7h0M111.7 156.6h0M112.5 157.5h0M112.4 158.4h0M113.2 159.7h0M112.6 160.6h0M112.9 160.1h0M114.0 160.2h0M114.9 160.9h0M114.7 160.2h0M112.9 159.6h0M113.4 161.1h0M113.2 83.0h0M112.3 83.9h0M113.0 84.8h0M113.0 85.7h0M112.8 86.6h0M112.1 87.5h0M112.4 88.4h0M112.9 89.3h0M112.6 90.2h0M112.7 91.1h0M112.5 92.0h0M111.9 92.9h0M112.6 93.8h0M112.7 94.7h0M112.4 95.6h0M112.6 96.5h0M100.4 99.3h0M100.7 99.6h0M107.9 95.0h0M100.2 100.2h0M106.0 97.6h0M107.6 96.6h0M99.1 100.6h0M100.8 99.3h0M105.6 98.6h0M102.9 98.3h0M103.9 97.6h0M109.7 94.7h0M102.5 98.9h0M102.2 98.4h0M107.9 95.7h0M105.3 98.4h0M101.1 100.3h0M105.1 97.1h0M100.2 100.0h0M106.8 96.5h0M106.3 97.8h0M103.9 97.6h0M100.2 97.7h0M100.4 99.1h0M107.1 96.1h0M110.5 96.5h0M108.9 98.0h0M111.1 97.9h0M109.3 97.2h0M105.9 97.5h0M106.2 97.1h0M111.6 97.8h0M107.0 97.8h0" stroke="#ec6e58" stroke-width="2.0" stroke-linecap="round" fill="none"/>
<path d="M207.5 133.5h0M207.9 139.5h0M207.5 141.0h0M207.6 142.5h0M207.7 144.0h0M207.9 145.5h0M207.8 147.0h0M207.8 150.0h0M207.8 152.5h0M207.8 155.0h0M207.6 157.0h0" stroke="#ec6e58" stroke-width="1.9" stroke-linecap="round" fill="none" stroke-opacity="0.75"/>
<circle cx="88.6" cy="142.1" r="2.1" fill="#22dd22"/>
<path d="M112.2 167.8L115.2 171.1L112.2 174.4L109.2 171.1Z" fill="#22dd22"/>
</g>
<rect x="181.4" y="21.9" width="83.4" height="49.8" rx="2" fill="#fff" stroke="#d0d0d0" stroke-width="1"/>
<circle cx="193.3" cy="29.4" r="0.9" fill="#ec6e58" fill-opacity="0.6"/>
<circle cx="193.3" cy="40.7" r="0.9" fill="#0000ff"/>
<path d="M193.3 49.2L196.3 52.3L193.3 55.4L190.3 52.3Z" fill="#22dd22"/>
<circle cx="193.3" cy="63.5" r="2.1" fill="#22dd22"/>
<text x="204.6" y="32.1" font-size="8.8" textLength="25.4" lengthAdjust="spacingAndGlyphs">Set #1</text>
<text x="204.6" y="43.4" font-size="8.8" textLength="25.4" lengthAdjust="spacingAndGlyphs">Set #2</text>
<text x="204.6" y="54.5" font-size="8.8" textLength="55.7" lengthAdjust="spacingAndGlyphs">cubic diamond</text>
<text x="204.6" y="65.6" font-size="8.8" textLength="16.8" lengthAdjust="spacingAndGlyphs"><tspan font-style="italic">β</tspan>-Sn</text>
<line x1="48.3" y1="18.4" x2="52" y2="18.4" stroke="#3c3c3c" stroke-width="1.3"/>
<text x="42.6" y="22.2" font-size="10.4" text-anchor="end" textLength="25.2" lengthAdjust="spacingAndGlyphs">−3.9</text>
<line x1="48.3" y1="38.4" x2="52" y2="38.4" stroke="#3c3c3c" stroke-width="1.3"/>
<text x="42.6" y="42.2" font-size="10.4" text-anchor="end" textLength="25.2" lengthAdjust="spacingAndGlyphs">−4.1</text>
<line x1="48.3" y1="58.4" x2="52" y2="58.4" stroke="#3c3c3c" stroke-width="1.3"/>
<text x="42.6" y="62.2" font-size="10.4" text-anchor="end" textLength="25.2" lengthAdjust="spacingAndGlyphs">−4.3</text>
<line x1="48.3" y1="78.4" x2="52" y2="78.4" stroke="#3c3c3c" stroke-width="1.3"/>
<text x="42.6" y="82.2" font-size="10.4" text-anchor="end" textLength="25.2" lengthAdjust="spacingAndGlyphs">−4.5</text>
<line x1="48.3" y1="98.4" x2="52" y2="98.4" stroke="#3c3c3c" stroke-width="1.3"/>
<text x="42.6" y="102.2" font-size="10.4" text-anchor="end" textLength="25.2" lengthAdjust="spacingAndGlyphs">−4.7</text>
<line x1="48.3" y1="118.4" x2="52" y2="118.4" stroke="#3c3c3c" stroke-width="1.3"/>
<text x="42.6" y="122.2" font-size="10.4" text-anchor="end" textLength="25.2" lengthAdjust="spacingAndGlyphs">−4.9</text>
<line x1="48.3" y1="138.4" x2="52" y2="138.4" stroke="#3c3c3c" stroke-width="1.3"/>
<text x="42.6" y="142.2" font-size="10.4" text-anchor="end" textLength="25.2" lengthAdjust="spacingAndGlyphs">−5.1</text>
<line x1="48.3" y1="158.4" x2="52" y2="158.4" stroke="#3c3c3c" stroke-width="1.3"/>
<text x="42.6" y="162.2" font-size="10.4" text-anchor="end" textLength="25.2" lengthAdjust="spacingAndGlyphs">−5.3</text>
<line x1="48.3" y1="178.4" x2="52" y2="178.4" stroke="#3c3c3c" stroke-width="1.3"/>
<text x="42.6" y="182.2" font-size="10.4" text-anchor="end" textLength="25.2" lengthAdjust="spacingAndGlyphs">−5.5</text>
<line x1="63.3" y1="178.4" x2="63.3" y2="182.0" stroke="#3c3c3c" stroke-width="1.3"/>
<text x="63.3" y="195.5" font-size="10.4" text-anchor="middle" textLength="13.2" lengthAdjust="spacingAndGlyphs">10</text>
<line x1="110.6" y1="178.4" x2="110.6" y2="182.0" stroke="#3c3c3c" stroke-width="1.3"/>
<text x="110.6" y="195.5" font-size="10.4" text-anchor="middle" textLength="13.2" lengthAdjust="spacingAndGlyphs">20</text>
<line x1="157.9" y1="178.4" x2="157.9" y2="182.0" stroke="#3c3c3c" stroke-width="1.3"/>
<text x="157.9" y="195.5" font-size="10.4" text-anchor="middle" textLength="13.2" lengthAdjust="spacingAndGlyphs">30</text>
<line x1="205.2" y1="178.4" x2="205.2" y2="182.0" stroke="#3c3c3c" stroke-width="1.3"/>
<text x="205.2" y="195.5" font-size="10.4" text-anchor="middle" textLength="13.2" lengthAdjust="spacingAndGlyphs">40</text>
<line x1="252.5" y1="178.4" x2="252.5" y2="182.0" stroke="#3c3c3c" stroke-width="1.3"/>
<text x="252.5" y="195.5" font-size="10.4" text-anchor="middle" textLength="13.2" lengthAdjust="spacingAndGlyphs">50</text>
<rect x="52" y="18.4" width="216.2" height="160.0" fill="none" stroke="#3c3c3c" stroke-width="1.3"/>
<text x="160" y="10" font-size="12" text-anchor="middle" textLength="16.4" lengthAdjust="spacingAndGlyphs">(a)</text>
<text x="159.6" y="213.5" font-size="11.5" text-anchor="middle" textLength="97" lengthAdjust="spacingAndGlyphs">Volume (Å³/atom)</text>
<text x="0" y="0" font-size="11.5" text-anchor="middle" textLength="96" lengthAdjust="spacingAndGlyphs" transform="translate(9.2 97.6) rotate(-90)">Energy (eV/atom)</text>
<clipPath id="cb"><rect x="52" y="253.3" width="91.3" height="89.9"/></clipPath><g clip-path="url(#cb)">
<path d="M72.50 343.2V296.9H73.12V343.2ZM73.12 343.2V287.0H73.74V343.2ZM73.74 343.2V279.7H74.36V343.2ZM74.36 343.2V272.8H74.98V343.2ZM74.98 343.2V277.4H75.60V343.2ZM75.60 343.2V274.2H76.22V343.2ZM76.22 343.2V273.6H76.84V343.2ZM76.84 343.2V257.0H77.46V343.2ZM77.46 343.2V274.6H78.08V343.2ZM78.08 343.2V276.9H78.70V343.2ZM78.70 343.2V279.1H79.32V343.2ZM79.32 343.2V279.7H79.94V343.2ZM79.94 343.2V279.0H80.56V343.2ZM80.56 343.2V282.4H81.18V343.2ZM81.18 343.2V276.4H81.80V343.2ZM81.80 343.2V269.7H82.42V343.2ZM82.42 343.2V268.9H83.04V343.2ZM83.04 343.2V262.0H83.66V343.2ZM83.66 343.2V260.1H84.28V343.2ZM84.28 343.2V263.7H84.90V343.2ZM84.90 343.2V264.0H85.52V343.2ZM85.52 343.2V263.1H86.14V343.2ZM86.14 343.2V260.5H86.76V343.2ZM86.76 343.2V270.0H87.38V343.2ZM87.38 343.2V272.9H88.00V343.2ZM88.00 343.2V272.5H88.62V343.2ZM88.62 343.2V273.8H89.24V343.2ZM89.24 343.2V274.7H89.86V343.2ZM89.86 343.2V280.0H90.48V343.2ZM90.48 343.2V278.8H91.10V343.2ZM91.10 343.2V274.5H91.72V343.2ZM91.72 343.2V276.6H92.34V343.2ZM92.34 343.2V275.1H92.96V343.2ZM92.96 343.2V268.0H93.58V343.2ZM93.58 343.2V274.3H94.20V343.2ZM94.20 343.2V278.4H94.82V343.2ZM94.82 343.2V281.8H95.44V343.2ZM95.44 343.2V280.1H96.06V343.2ZM96.06 343.2V280.8H96.68V343.2ZM96.68 343.2V281.0H97.30V343.2ZM97.30 343.2V283.4H97.92V343.2ZM97.92 343.2V283.1H98.54V343.2ZM98.54 343.2V282.4H99.16V343.2ZM99.16 343.2V280.7H99.78V343.2ZM99.78 343.2V273.0H100.40V343.2ZM100.40 343.2V279.8H101.02V343.2ZM101.02 343.2V281.3H101.64V343.2ZM101.64 343.2V280.7H102.26V343.2ZM102.26 343.2V282.1H102.88V343.2ZM102.88 343.2V282.0H103.50V343.2ZM103.50 343.2V279.0H104.12V343.2ZM104.12 343.2V281.7H104.74V343.2ZM104.74 343.2V279.9H105.36V343.2ZM105.36 343.2V281.7H105.98V343.2ZM105.98 343.2V285.3H106.60V343.2ZM106.60 343.2V285.8H107.22V343.2ZM107.22 343.2V278.5H107.84V343.2ZM107.84 343.2V281.1H108.46V343.2ZM108.46 343.2V279.5H109.08V343.2ZM109.08 343.2V277.0H109.70V343.2ZM109.70 343.2V281.1H110.32V343.2ZM110.32 343.2V282.8H110.94V343.2ZM110.94 343.2V285.6H111.56V343.2ZM111.56 343.2V283.7H112.18V343.2ZM112.18 343.2V286.4H112.80V343.2ZM112.80 343.2V286.6H113.42V343.2ZM113.42 343.2V283.9H114.04V343.2ZM114.04 343.2V286.6H114.66V343.2ZM114.66 343.2V283.7H115.28V343.2ZM115.28 343.2V285.6H115.90V343.2ZM115.90 343.2V283.3H116.52V343.2ZM116.52 343.2V282.0H117.14V343.2ZM117.14 343.2V285.6H117.76V343.2ZM117.76 343.2V283.7H118.38V343.2ZM118.38 343.2V286.7H119.00V343.2ZM119.00 343.2V286.4H119.62V343.2ZM119.62 343.2V288.5H120.24V343.2ZM120.24 343.2V285.6H120.86V343.2ZM120.86 343.2V285.8H121.48V343.2ZM121.48 343.2V285.6H122.10V343.2ZM122.10 343.2V288.6H122.72V343.2ZM122.72 343.2V287.7H123.34V343.2ZM123.34 343.2V290.5H123.96V343.2ZM123.96 343.2V285.1H124.58V343.2ZM124.58 343.2V285.0H125.20V343.2ZM125.20 343.2V290.9H125.82V343.2ZM125.82 343.2V290.2H126.44V343.2ZM126.44 343.2V291.6H127.06V343.2ZM127.06 343.2V290.0H127.68V343.2ZM127.68 343.2V283.0H128.30V343.2ZM128.30 343.2V294.7H128.92V343.2ZM128.92 343.2V290.6H129.54V343.2ZM129.54 343.2V291.6H130.16V343.2ZM130.16 343.2V290.0H130.78V343.2ZM130.78 343.2V287.5H131.40V343.2ZM131.40 343.2V291.2H132.02V343.2ZM132.02 343.2V291.2H132.64V343.2ZM132.64 343.2V291.6H133.26V343.2ZM133.26 343.2V292.7H133.88V343.2ZM133.88 343.2V292.0H134.50V343.2ZM134.50 343.2V293.7H135.12V343.2ZM135.12 343.2V288.0H135.74V343.2ZM135.74 343.2V289.1H136.36V343.2ZM136.36 343.2V289.2H136.98V343.2ZM136.98 343.2V293.2H137.60V343.2ZM137.60 343.2V293.2H138.22V343.2ZM138.22 343.2V293.9H138.84V343.2ZM55.70 343.2V293.0H56.70V343.2ZM56.70 343.2V323.3H58.60V343.2ZM58.60 343.2V330.0H60.80V343.2ZM60.80 343.2V323.3H62.60V343.2ZM62.60 343.2V319.7H64.50V343.2ZM64.50 343.2V307.0H66.30V343.2ZM66.30 343.2V323.3H67.50V343.2ZM67.50 343.2V299.0H69.00V343.2ZM69.00 343.2V317.5H71.10V343.2ZM71.10 343.2V325.0H72.60V343.2Z" fill="#0000ff"/>
<path d="M55.90 343.2V304.0H58.60V343.2ZM58.60 343.2V330.0H60.80V343.2ZM60.80 343.2V293.9H62.60V343.2ZM62.60 343.2V323.0H64.50V343.2ZM64.50 343.2V323.3H67.50V343.2ZM67.50 343.2V323.3H71.10V343.2Z" fill="#fa6a64" fill-opacity="0.78"/>
<path d="M96.6 343.2L96.6 313L98.2 310L99.2 307.5L100.2 310L101.3 312.7L103 318.5L103.6 323.2L104.7 330L105.9 343.2Z" fill="#ff5f50" fill-opacity="0.85"/>
</g>
<line x1="47.9" y1="272.3" x2="52" y2="272.3" stroke="#3c3c3c" stroke-width="1.3"/>
<text x="37.2" y="276.2" font-size="10.4" text-anchor="end" textLength="12.4" lengthAdjust="spacingAndGlyphs">10</text>
<text x="38.1" y="271.5" font-size="7.3">2</text>
<line x1="47.9" y1="305.3" x2="52" y2="305.3" stroke="#3c3c3c" stroke-width="1.3"/>
<text x="37.2" y="309.2" font-size="10.4" text-anchor="end" textLength="12.4" lengthAdjust="spacingAndGlyphs">10</text>
<text x="38.1" y="304.5" font-size="7.3">1</text>
<line x1="47.9" y1="338.3" x2="52" y2="338.3" stroke="#3c3c3c" stroke-width="1.3"/>
<text x="37.2" y="342.2" font-size="10.4" text-anchor="end" textLength="12.4" lengthAdjust="spacingAndGlyphs">10</text>
<text x="38.1" y="337.5" font-size="7.3">0</text>
<line x1="49.8" y1="328.4" x2="52" y2="328.4" stroke="#3c3c3c" stroke-width="0.9"/>
<line x1="49.8" y1="322.6" x2="52" y2="322.6" stroke="#3c3c3c" stroke-width="0.9"/>
<line x1="49.8" y1="318.4" x2="52" y2="318.4" stroke="#3c3c3c" stroke-width="0.9"/>
<line x1="49.8" y1="315.2" x2="52" y2="315.2" stroke="#3c3c3c" stroke-width="0.9"/>
<line x1="49.8" y1="312.6" x2="52" y2="312.6" stroke="#3c3c3c" stroke-width="0.9"/>
<line x1="49.8" y1="310.4" x2="52" y2="310.4" stroke="#3c3c3c" stroke-width="0.9"/>
<line x1="49.8" y1="308.5" x2="52" y2="308.5" stroke="#3c3c3c" stroke-width="0.9"/>
<line x1="49.8" y1="306.8" x2="52" y2="306.8" stroke="#3c3c3c" stroke-width="0.9"/>
<line x1="49.8" y1="295.4" x2="52" y2="295.4" stroke="#3c3c3c" stroke-width="0.9"/>
<line x1="49.8" y1="289.6" x2="52" y2="289.6" stroke="#3c3c3c" stroke-width="0.9"/>
<line x1="49.8" y1="285.4" x2="52" y2="285.4" stroke="#3c3c3c" stroke-width="0.9"/>
<line x1="49.8" y1="282.2" x2="52" y2="282.2" stroke="#3c3c3c" stroke-width="0.9"/>
<line x1="49.8" y1="279.6" x2="52" y2="279.6" stroke="#3c3c3c" stroke-width="0.9"/>
<line x1="49.8" y1="277.4" x2="52" y2="277.4" stroke="#3c3c3c" stroke-width="0.9"/>
<line x1="49.8" y1="275.5" x2="52" y2="275.5" stroke="#3c3c3c" stroke-width="0.9"/>
<line x1="49.8" y1="273.8" x2="52" y2="273.8" stroke="#3c3c3c" stroke-width="0.9"/>
<line x1="49.8" y1="262.4" x2="52" y2="262.4" stroke="#3c3c3c" stroke-width="0.9"/>
<line x1="49.8" y1="256.6" x2="52" y2="256.6" stroke="#3c3c3c" stroke-width="0.9"/>
<line x1="49.8" y1="341.5" x2="52" y2="341.5" stroke="#3c3c3c" stroke-width="0.9"/>
<line x1="49.8" y1="339.8" x2="52" y2="339.8" stroke="#3c3c3c" stroke-width="0.9"/>
<line x1="80.4" y1="343.2" x2="80.4" y2="346.8" stroke="#3c3c3c" stroke-width="1.3"/>
<text x="80.4" y="360.6" font-size="10.4" text-anchor="middle" textLength="24.6" lengthAdjust="spacingAndGlyphs">−5.0</text>
<line x1="109.6" y1="343.2" x2="109.6" y2="346.8" stroke="#3c3c3c" stroke-width="1.3"/>
<text x="109.6" y="360.6" font-size="10.4" text-anchor="middle" textLength="24.6" lengthAdjust="spacingAndGlyphs">−4.5</text>
<line x1="138.8" y1="343.2" x2="138.8" y2="346.8" stroke="#3c3c3c" stroke-width="1.3"/>
<text x="138.8" y="360.6" font-size="10.4" text-anchor="middle" textLength="24.6" lengthAdjust="spacingAndGlyphs">−4.0</text>
<rect x="52" y="253.3" width="91.30000000000001" height="89.89999999999998" fill="none" stroke="#3c3c3c" stroke-width="1.3"/>
<text x="97.6" y="245" font-size="12" text-anchor="middle" textLength="16.4" lengthAdjust="spacingAndGlyphs">(b)</text>
<text x="97.6" y="376.3" font-size="11.5" text-anchor="middle" textLength="96" lengthAdjust="spacingAndGlyphs">Energy (eV/atom)</text>
<clipPath id="cc"><rect x="177.1" y="253.3" width="91" height="89.9"/></clipPath><g clip-path="url(#cc)">
<path d="M204.00 343.2V339.5H204.90V343.2ZM204.90 343.2V336.6H205.80V343.2ZM205.80 343.2V336.5H206.70V343.2ZM206.70 343.2V335.3H207.60V343.2ZM207.60 343.2V334.1H208.50V343.2ZM208.50 343.2V328.8H209.40V343.2ZM209.40 343.2V323.8H210.30V343.2ZM210.30 343.2V319.7H211.20V343.2ZM211.20 343.2V319.5H212.10V343.2ZM212.10 343.2V318.7H213.00V343.2ZM213.00 343.2V313.1H213.90V343.2ZM213.90 343.2V307.0H214.80V343.2ZM214.80 343.2V304.3H215.70V343.2ZM215.70 343.2V305.8H216.60V343.2ZM216.60 343.2V298.2H217.50V343.2ZM217.50 343.2V289.4H218.40V343.2ZM218.40 343.2V288.6H219.30V343.2ZM219.30 343.2V281.5H220.20V343.2ZM220.20 343.2V277.2H221.10V343.2ZM221.10 343.2V270.7H222.00V343.2ZM222.00 343.2V266.4H222.90V343.2ZM222.90 343.2V270.0H223.80V343.2ZM223.80 343.2V275.4H224.70V343.2ZM224.70 343.2V279.9H225.60V343.2ZM225.60 343.2V286.9H226.50V343.2ZM226.50 343.2V292.1H227.40V343.2ZM227.40 343.2V290.8H228.30V343.2ZM228.30 343.2V298.0H229.20V343.2ZM229.20 343.2V300.6H230.10V343.2ZM230.10 343.2V306.2H231.00V343.2ZM231.00 343.2V306.9H231.90V343.2ZM231.90 343.2V312.2H232.80V343.2ZM232.80 343.2V314.6H233.70V343.2ZM233.70 343.2V316.6H234.60V343.2ZM234.60 343.2V318.0H235.50V343.2ZM235.50 343.2V322.8H236.40V343.2ZM236.40 343.2V324.6H237.30V343.2ZM237.30 343.2V327.3H238.20V343.2ZM238.20 343.2V333.3H239.10V343.2ZM239.10 343.2V332.8H240.00V343.2ZM240.00 343.2V340.4H240.90V343.2ZM240.90 343.2V341.5H241.80V343.2ZM222.10 343.2V255.9H223.10V343.2ZM194.50 343.2V340.4H195.30V343.2ZM196.40 343.2V335.5H197.30V343.2ZM199.00 343.2V330.3H199.90V343.2ZM201.50 343.2V338.0H202.30V343.2ZM205.00 343.2V332.0H206.00V343.2ZM206.80 343.2V326.0H207.70V343.2ZM241.20 343.2V338.0H242.00V343.2ZM244.90 343.2V335.5H245.70V343.2ZM247.50 343.2V335.5H248.30V343.2ZM250.00 343.2V340.4H250.80V343.2ZM257.00 343.2V339.8H257.80V343.2Z" fill="#0000ff"/>
<path d="M222.5 277.5L219.8 290L216.4 305L212.8 322L209.6 343.2L234.6 343.2L231.6 322L228.4 305L225.2 290Z" fill="#fa5a5c" fill-opacity="0.8"/>
</g>
<line x1="173.1" y1="253.3" x2="177.1" y2="253.3" stroke="#3c3c3c" stroke-width="1.3"/>
<text x="162.6" y="257.2" font-size="10.4" text-anchor="end" textLength="12.4" lengthAdjust="spacingAndGlyphs">10</text>
<text x="163.5" y="252.5" font-size="7.3">5</text>
<line x1="173.1" y1="288.2" x2="177.1" y2="288.2" stroke="#3c3c3c" stroke-width="1.3"/>
<text x="162.6" y="292.1" font-size="10.4" text-anchor="end" textLength="12.4" lengthAdjust="spacingAndGlyphs">10</text>
<text x="163.5" y="287.4" font-size="7.3">3</text>
<line x1="173.1" y1="323.0" x2="177.1" y2="323.0" stroke="#3c3c3c" stroke-width="1.3"/>
<text x="162.6" y="326.9" font-size="10.4" text-anchor="end" textLength="12.4" lengthAdjust="spacingAndGlyphs">10</text>
<text x="163.5" y="322.2" font-size="7.3">1</text>
<line x1="177.1" y1="343.2" x2="177.1" y2="346.8" stroke="#3c3c3c" stroke-width="1.3"/>
<text x="177.1" y="360.6" font-size="10.4" text-anchor="middle" textLength="22" lengthAdjust="spacingAndGlyphs">−20</text>
<line x1="199.8" y1="343.2" x2="199.8" y2="346.8" stroke="#3c3c3c" stroke-width="1.3"/>
<text x="199.8" y="360.6" font-size="10.4" text-anchor="middle" textLength="22" lengthAdjust="spacingAndGlyphs">−10</text>
<line x1="222.6" y1="343.2" x2="222.6" y2="346.8" stroke="#3c3c3c" stroke-width="1.3"/>
<text x="222.6" y="360.6" font-size="10.4" text-anchor="middle" textLength="6.6" lengthAdjust="spacingAndGlyphs">0</text>
<line x1="245.4" y1="343.2" x2="245.4" y2="346.8" stroke="#3c3c3c" stroke-width="1.3"/>
<text x="245.4" y="360.6" font-size="10.4" text-anchor="middle" textLength="13.2" lengthAdjust="spacingAndGlyphs">10</text>
<line x1="268.1" y1="343.2" x2="268.1" y2="346.8" stroke="#3c3c3c" stroke-width="1.3"/>
<text x="268.1" y="360.6" font-size="10.4" text-anchor="middle" textLength="13.2" lengthAdjust="spacingAndGlyphs">20</text>
<rect x="177.1" y="253.3" width="91.00000000000003" height="89.89999999999998" fill="none" stroke="#3c3c3c" stroke-width="1.3"/>
<text x="222.6" y="245" font-size="12" text-anchor="middle" textLength="16.0" lengthAdjust="spacingAndGlyphs">(c)</text>
<text x="222.6" y="376.8" font-size="11.5" text-anchor="middle" textLength="70" lengthAdjust="spacingAndGlyphs">Force (eV/Å)</text>
<clipPath id="cd"><rect x="302" y="65" width="216.2" height="230.9"/></clipPath><g clip-path="url(#cd)">
<path d="M314 193L322 186L330 177L337 168L344 159L352 152L360 148L366 150L368 165L369 180L371 195L372 210L371 225L367 235L361 242L355 243L349 236L345 228L336 220L322 208Z" fill="#0000ff"/>
<path d="M409.8 225.8h0M406.5 235.0h0M375.3 225.8h0M402.7 232.8h0M370.1 181.8h0M386.3 222.6h0M439.6 219.2h0M398.7 184.2h0M382.2 174.1h0M412.6 187.0h0M357.2 136.7h0M382.6 147.5h0M373.7 212.2h0M428.0 168.4h0M387.8 219.3h0M370.5 152.9h0M383.9 133.6h0M376.1 224.8h0M406.3 246.0h0M387.2 225.5h0M372.2 177.6h0M373.9 155.2h0M405.0 213.8h0M377.4 202.3h0M376.7 217.1h0M380.5 164.9h0M424.7 200.2h0M379.5 145.0h0M376.9 228.7h0M398.7 160.6h0M373.9 155.5h0M386.0 194.6h0M386.2 176.5h0M437.6 211.2h0M431.0 199.7h0M351.6 244.8h0M370.8 243.7h0M389.9 175.1h0M372.1 146.7h0M394.6 132.6h0M376.0 222.1h0M380.0 164.5h0M378.6 190.9h0M378.8 143.7h0M382.7 132.9h0M378.6 227.1h0M388.6 234.7h0M426.2 167.1h0M377.7 226.5h0M426.5 196.1h0M371.9 173.9h0M368.8 230.7h0M375.1 255.0h0M410.0 160.7h0M369.0 164.8h0M375.6 160.4h0M377.4 161.2h0M392.4 174.2h0M365.0 241.6h0M419.2 237.1h0M402.0 225.3h0M375.9 203.0h0M421.4 176.8h0M418.2 189.8h0M406.2 235.1h0M405.9 218.8h0M393.4 255.1h0M403.9 256.2h0M398.4 187.8h0M374.9 208.0h0M398.5 170.4h0M409.2 186.2h0M384.6 169.0h0M376.0 189.9h0M371.4 180.8h0M389.2 132.0h0M438.2 238.0h0M378.0 164.8h0M376.3 239.2h0M363.7 250.3h0M393.1 126.8h0M414.8 207.4h0M377.1 161.1h0M392.0 168.3h0M371.7 234.0h0M376.5 185.8h0M414.1 203.7h0M388.3 225.5h0M376.7 162.0h0M416.8 220.5h0M370.8 154.2h0M397.3 181.0h0M378.2 185.5h0M417.7 171.6h0M371.4 182.8h0M416.5 232.1h0M372.1 206.5h0M375.4 191.9h0M387.4 154.0h0M373.9 240.4h0M378.5 159.7h0M438.4 224.1h0M391.5 163.4h0M380.4 132.7h0M375.7 229.0h0M373.2 174.0h0M377.6 170.4h0M374.0 275.3h0M384.3 172.1h0M373.1 176.6h0M405.2 155.9h0M389.8 222.9h0M397.6 157.2h0M393.2 216.9h0M422.0 146.4h0M413.4 195.9h0M362.6 252.1h0M371.0 249.6h0M386.3 217.5h0M406.9 243.5h0M381.5 177.8h0M375.6 182.4h0M380.8 195.9h0M421.5 285.5h0M377.7 128.8h0M400.5 267.5h0M371.1 174.6h0M403.9 147.8h0M382.9 154.0h0M384.1 165.5h0M388.4 149.1h0M383.6 161.3h0M411.6 208.1h0M374.5 189.2h0M377.5 232.6h0M406.0 169.9h0M408.1 203.4h0M375.3 230.9h0M415.2 233.0h0M368.7 244.0h0M387.5 145.1h0M374.0 153.9h0M369.1 231.8h0M431.7 177.9h0M425.0 163.7h0M347.5 233.4h0M393.1 228.6h0M372.1 248.8h0M373.6 222.6h0M418.7 170.9h0M371.9 153.2h0M391.8 277.1h0M367.2 249.4h0M387.2 235.8h0M395.6 215.9h0M380.5 196.9h0M355.1 245.0h0M411.3 166.5h0M397.5 246.4h0M372.6 201.7h0M386.5 170.8h0M393.0 136.8h0M373.8 210.4h0M385.5 202.7h0M371.6 170.2h0M423.0 215.7h0M420.1 235.2h0M413.6 208.6h0M385.1 175.0h0M390.8 234.7h0M374.4 164.4h0M416.8 225.6h0M386.2 206.9h0M396.7 122.5h0M346.0 255.7h0M385.2 216.7h0M373.4 215.0h0M388.7 252.5h0M364.2 253.6h0M415.4 230.4h0M423.3 223.3h0M378.9 228.9h0M381.5 166.8h0M383.9 126.8h0M388.9 201.3h0M392.1 227.3h0M411.0 157.2h0M381.7 182.0h0M402.2 175.5h0M369.7 163.8h0M380.2 231.4h0M377.1 134.2h0M374.2 220.7h0M346.5 238.3h0M389.3 170.8h0M369.2 159.2h0M373.9 222.1h0M363.8 130.4h0M384.5 163.8h0M395.9 128.2h0M346.8 244.6h0M383.1 138.3h0M396.4 211.9h0M392.8 183.3h0M407.7 252.8h0M412.3 196.2h0M402.7 147.7h0M392.6 197.6h0M405.7 136.9h0M404.3 213.8h0M377.6 236.8h0M418.6 250.4h0M384.7 226.3h0M380.0 211.6h0M373.5 185.5h0M344.4 232.2h0M372.9 217.9h0M374.9 211.5h0M362.9 254.4h0M410.8 174.4h0M386.0 144.0h0M375.0 218.9h0M421.6 131.6h0M355.3 254.7h0M406.8 117.8h0M404.3 231.4h0M368.8 175.4h0M394.9 197.4h0M396.7 204.2h0M384.2 169.5h0M370.5 247.1h0M384.2 120.4h0M395.9 204.6h0M363.0 244.7h0M351.6 244.5h0M386.2 130.3h0M407.4 261.5h0M374.8 176.0h0M394.8 202.5h0M438.4 214.5h0M369.1 168.3h0M440.9 200.1h0M345.8 247.6h0M385.1 185.0h0M388.7 206.0h0M359.6 127.0h0M380.7 196.7h0M372.3 184.2h0M381.5 154.5h0M368.8 169.7h0M395.8 218.1h0M402.6 153.2h0M357.4 244.3h0M365.2 251.3h0M406.2 190.5h0M406.4 239.3h0M377.9 193.0h0M373.4 213.3h0M362.3 132.4h0M381.4 127.9h0M418.1 202.6h0M367.6 261.4h0M429.4 161.3h0M382.1 146.6h0M376.7 195.0h0M387.1 213.8h0M387.3 218.1h0M372.3 164.5h0M425.7 200.9h0M393.7 189.7h0M384.0 168.6h0M394.9 210.3h0M398.7 208.4h0M372.2 216.4h0M377.2 238.8h0M424.8 186.0h0M378.7 156.4h0M398.3 219.5h0M392.9 114.3h0M416.3 177.0h0M394.2 207.5h0M392.7 187.8h0M401.2 169.7h0M370.0 252.0h0M405.1 223.1h0M389.9 183.6h0M380.2 194.6h0M412.3 204.9h0M403.6 147.0h0M378.9 176.7h0M418.3 234.1h0M405.0 202.9h0M372.2 158.6h0M381.5 190.1h0M371.8 234.3h0M401.7 168.7h0M397.6 176.9h0M413.7 193.4h0M432.9 215.7h0M373.1 232.0h0M425.6 172.2h0M388.5 145.5h0M389.2 209.4h0M395.6 173.1h0M408.4 220.3h0M371.0 164.3h0M397.0 240.9h0M372.2 240.7h0M371.5 197.4h0M389.7 159.3h0M378.8 161.7h0M397.1 209.7h0M389.5 131.1h0M378.0 159.6h0M378.4 142.5h0M411.8 164.9h0M378.5 239.2h0M377.0 231.4h0M374.4 175.9h0M427.0 249.7h0M379.3 236.2h0M405.6 213.5h0M399.1 166.9h0M396.3 201.8h0M380.6 187.2h0M421.6 212.7h0M425.1 187.9h0M385.9 175.6h0M375.3 213.3h0M341.7 240.7h0M370.5 155.2h0M421.5 216.9h0M377.4 175.8h0M383.9 179.3h0M400.0 201.1h0M439.1 221.4h0M415.5 204.0h0M382.8 241.0h0M403.5 191.0h0M379.4 173.6h0M372.5 211.6h0M380.6 219.2h0M376.8 151.0h0M431.8 169.2h0M372.2 195.1h0M395.0 225.8h0M404.1 220.1h0M377.6 149.4h0M374.2 154.9h0M388.2 233.8h0M382.0 131.8h0M377.4 229.0h0M392.9 212.8h0M386.1 197.6h0M369.2 163.2h0M394.4 217.2h0M384.7 180.5h0M376.0 164.4h0M422.5 171.2h0M364.9 254.8h0M399.4 234.6h0M410.0 160.9h0M373.2 172.6h0M371.0 153.0h0M381.6 216.8h0M412.1 233.3h0M387.8 184.8h0M372.2 227.2h0M376.6 247.3h0M349.6 238.1h0M381.3 160.7h0M384.3 236.4h0M371.4 164.2h0M373.2 225.4h0M399.9 207.9h0M372.7 226.5h0M373.8 204.0h0M377.6 164.8h0M423.3 209.1h0M395.5 155.5h0M366.8 235.3h0M376.4 210.9h0M370.5 154.7h0M372.0 158.6h0M405.8 145.9h0M431.6 227.2h0M383.4 185.5h0M388.4 210.0h0M420.6 173.9h0M439.7 190.9h0M392.4 245.3h0M389.1 173.8h0M373.3 211.9h0M375.5 174.6h0M383.3 194.5h0M369.8 254.0h0M422.8 132.3h0M379.1 206.4h0M404.0 234.0h0M384.5 248.1h0M371.3 222.3h0M340.2 150.2h0M371.8 174.5h0M379.5 139.2h0M387.9 135.3h0M374.4 230.8h0M385.0 161.1h0M353.5 245.7h0M379.8 197.3h0M378.9 227.0h0M373.0 186.1h0M405.7 204.5h0M396.0 212.6h0M378.6 196.9h0M406.0 220.2h0M370.7 239.3h0M376.2 156.3h0M350.8 244.3h0M385.1 150.9h0M394.9 200.0h0M386.2 242.4h0M383.1 196.4h0M395.1 126.5h0M371.3 179.6h0M373.7 204.7h0M404.2 198.7h0M441.4 248.8h0M379.3 199.1h0M373.9 151.3h0M418.3 210.8h0M395.5 183.3h0M366.4 240.0h0M402.1 146.5h0M383.2 234.4h0M418.4 178.6h0M376.0 195.0h0M374.8 191.6h0M396.0 185.2h0M398.8 240.2h0M390.7 135.7h0M401.5 231.0h0M420.3 169.7h0M380.7 146.0h0M400.9 230.2h0M381.7 211.3h0M441.4 192.5h0M379.7 205.5h0M373.9 212.9h0M424.0 236.5h0M350.6 243.1h0M379.6 159.8h0M375.2 173.5h0M375.3 218.6h0M378.9 136.5h0M385.8 145.1h0M373.4 141.5h0M376.0 239.2h0M407.6 181.0h0M374.3 180.7h0M404.2 209.4h0M373.6 207.0h0M405.6 186.1h0M412.2 196.2h0M435.9 209.5h0M412.0 196.9h0M380.9 145.7h0M393.3 153.4h0M413.2 150.7h0M369.2 169.0h0M376.9 157.6h0M374.0 234.0h0M424.8 207.5h0M437.2 156.9h0M370.5 189.6h0M377.5 173.6h0M404.0 179.1h0M371.7 234.7h0M413.4 213.2h0M380.0 188.5h0M395.0 145.9h0M384.9 228.8h0M438.9 169.6h0M380.3 155.4h0M426.6 161.1h0M381.0 189.1h0M374.6 177.0h0M374.6 163.5h0M371.9 204.9h0M384.3 192.3h0M372.4 159.4h0M368.4 243.8h0M369.8 167.6h0M391.6 213.0h0M358.2 249.9h0M408.3 149.8h0M374.2 147.3h0M384.9 201.5h0M384.8 173.9h0M418.4 170.2h0M373.7 181.9h0M386.0 226.5h0M375.8 204.4h0M382.1 219.1h0M380.8 246.3h0M432.2 209.1h0M370.5 243.3h0M400.3 187.4h0M370.2 154.9h0M375.5 169.7h0M383.5 155.2h0M389.3 142.8h0M375.1 215.0h0M406.0 158.5h0M402.3 167.2h0M386.0 159.2h0M371.8 155.2h0M417.0 204.5h0M370.0 187.3h0M431.9 154.8h0M371.6 186.1h0M364.4 245.5h0M373.5 196.3h0M417.6 149.4h0M394.2 233.4h0M373.9 210.7h0M400.0 198.6h0M375.5 215.2h0M385.0 234.6h0M383.9 243.2h0M408.1 193.9h0M391.7 230.5h0M370.0 248.9h0M438.5 204.0h0M420.3 139.1h0M385.4 220.7h0M367.3 252.5h0M420.6 173.3h0M377.0 221.0h0M418.8 202.0h0M370.2 154.1h0M406.7 239.3h0M340.3 241.2h0M402.8 215.6h0M384.0 199.0h0M378.8 221.1h0M372.1 208.4h0M409.8 223.8h0M384.4 171.0h0M384.5 170.8h0M370.7 188.6h0M397.3 239.6h0M350.6 244.1h0M409.6 160.9h0M381.0 178.8h0M440.5 186.5h0M386.0 146.0h0M386.8 175.3h0M438.3 232.8h0M422.4 231.3h0M373.7 191.8h0M383.5 211.2h0M411.4 154.6h0M384.6 209.4h0M385.9 214.1h0M375.8 126.9h0M377.8 194.4h0M403.0 243.1h0M407.9 185.0h0M351.1 247.4h0M407.1 183.4h0M387.5 213.3h0M419.4 166.9h0M385.9 223.3h0M373.0 203.6h0M403.0 153.3h0M392.1 188.1h0M413.7 251.1h0M375.8 234.7h0M388.5 213.0h0M373.0 192.5h0M382.5 252.9h0M403.5 205.0h0M407.7 174.7h0M429.4 182.6h0M385.1 160.4h0M447.3 234.3h0M378.5 264.1h0M405.6 130.1h0M386.2 242.9h0M390.3 195.8h0M428.3 163.3h0M410.1 238.6h0M416.6 221.9h0M407.4 167.6h0M395.0 192.4h0M415.7 197.9h0M408.1 216.8h0M372.7 183.0h0M371.0 180.7h0M438.6 164.6h0M366.4 243.3h0M377.8 164.8h0M408.9 219.1h0M372.4 203.0h0M405.5 233.1h0M438.1 164.2h0M373.1 162.2h0M406.9 239.2h0M394.6 152.0h0M362.9 248.9h0M397.7 184.8h0M383.2 166.8h0M437.5 205.4h0M349.7 255.9h0M361.6 255.9h0M377.2 166.7h0M424.2 199.3h0M395.4 137.1h0M400.1 166.4h0M374.7 159.3h0M435.5 166.9h0M378.8 149.2h0M410.7 243.6h0M405.3 221.9h0M371.8 181.5h0M383.6 167.3h0M345.9 230.3h0M372.6 169.1h0M369.7 166.0h0M382.8 176.0h0M433.5 153.8h0M392.5 166.7h0M385.3 199.6h0M385.1 208.8h0M381.5 233.5h0M418.8 180.6h0M383.2 163.8h0M372.1 144.5h0M441.2 257.8h0M375.6 132.6h0M397.8 183.3h0M383.1 216.8h0M378.4 237.8h0M378.7 180.7h0M378.6 205.4h0M399.5 240.3h0M429.8 121.9h0M372.5 221.4h0M378.2 161.8h0M378.4 196.5h0M368.4 166.2h0M378.3 244.5h0M378.0 199.3h0M390.3 161.5h0M406.3 153.3h0M376.1 214.1h0M379.6 203.4h0M376.4 200.6h0M386.3 199.3h0M394.0 166.9h0M399.5 206.2h0M395.7 183.1h0M376.7 198.1h0M378.3 142.7h0M377.6 243.9h0M374.2 201.4h0M370.7 176.7h0M387.1 203.5h0M401.4 203.4h0M372.0 203.5h0M385.5 261.6h0M369.8 174.4h0M361.5 254.2h0M390.5 212.4h0M437.1 204.4h0M431.0 216.3h0M369.6 245.1h0M414.3 159.6h0M381.9 144.0h0M375.7 247.5h0M377.9 151.2h0M373.5 219.4h0M368.7 236.7h0M373.8 183.1h0M389.7 188.8h0M380.3 207.8h0M386.5 204.9h0M363.3 243.2h0M405.6 177.6h0M380.0 166.9h0M396.6 212.5h0M374.5 241.4h0M405.9 197.8h0M375.9 193.2h0M372.2 169.4h0M369.5 239.6h0M374.1 165.5h0M400.6 197.9h0M409.5 240.9h0M381.5 181.3h0M393.5 162.5h0M405.3 236.7h0M421.2 162.1h0M375.1 197.0h0M378.4 215.5h0M407.6 164.9h0M400.3 205.6h0M397.9 172.5h0M383.1 146.5h0M369.7 182.4h0M396.1 132.8h0M427.2 166.3h0M394.6 244.3h0M401.1 188.2h0M438.7 220.3h0M374.9 244.7h0M376.8 223.7h0M420.4 148.7h0M374.9 226.5h0M369.7 126.6h0M421.7 206.8h0M440.1 220.4h0M441.9 225.5h0M370.3 230.0h0M429.4 135.0h0M386.8 214.2h0M367.0 125.7h0M376.4 137.4h0M367.2 251.9h0M374.8 209.5h0M394.2 232.3h0M346.4 237.8h0M373.8 145.2h0M401.7 134.3h0M376.6 193.4h0M390.7 231.3h0M337.7 244.1h0M377.2 229.7h0M414.7 177.6h0M360.6 242.1h0M397.6 170.7h0M378.8 196.4h0M395.0 169.9h0M386.7 128.6h0M385.6 148.8h0M420.6 184.6h0M426.3 192.3h0M415.6 237.7h0M391.6 191.8h0M385.4 200.9h0M386.4 133.9h0M362.1 244.1h0M414.8 152.9h0M409.5 215.1h0M385.9 214.2h0M411.4 130.0h0M395.3 215.8h0M388.0 224.3h0M402.4 207.6h0M392.1 183.7h0M369.8 238.8h0M380.1 244.9h0M399.1 157.5h0M372.9 226.4h0M373.4 230.9h0M380.7 203.8h0M392.9 118.4h0M388.5 243.6h0M403.1 140.8h0M368.8 175.3h0M401.7 219.0h0M446.7 226.5h0M375.8 147.8h0M385.7 166.8h0M437.6 209.1h0M391.5 205.9h0M402.3 167.5h0M380.8 231.3h0M347.3 235.7h0M378.4 238.1h0M365.1 240.6h0M392.2 203.0h0M383.1 183.8h0M377.2 143.2h0M373.0 172.4h0M376.7 200.9h0M354.9 136.5h0M366.6 242.5h0M386.4 220.4h0M358.5 243.4h0M377.5 251.5h0M370.0 160.8h0M426.5 183.0h0M427.5 247.6h0M408.6 222.2h0M377.6 219.1h0M422.0 172.9h0M407.7 154.8h0M387.6 179.0h0M384.8 217.1h0M439.0 193.7h0M417.4 142.8h0M421.0 205.3h0M381.5 234.9h0M369.2 241.3h0M401.9 187.5h0M376.4 188.4h0M379.8 221.8h0M374.5 166.9h0M392.7 207.3h0M421.7 202.9h0M376.1 127.5h0M378.2 210.7h0M402.6 134.0h0M381.2 176.5h0M383.7 227.8h0M380.6 255.9h0M390.2 256.8h0M375.8 183.0h0M372.5 204.4h0M404.6 217.5h0M376.2 160.6h0M377.9 205.4h0M376.5 159.4h0M373.5 193.7h0M396.6 215.2h0M400.9 191.8h0M411.7 203.0h0M381.4 199.5h0M386.0 220.4h0M365.9 241.5h0M402.1 201.7h0M373.5 227.1h0M430.2 274.3h0M348.8 242.0h0M417.0 211.3h0M383.5 194.2h0M408.1 136.1h0M383.1 242.8h0M383.9 148.8h0M365.5 244.3h0M374.5 174.3h0M400.5 196.6h0M354.7 247.1h0M398.9 141.7h0M371.9 196.8h0M380.5 189.6h0M389.2 206.4h0M372.3 217.8h0M377.0 216.6h0M391.0 179.5h0M398.8 195.1h0M365.8 242.8h0M373.6 200.6h0M377.4 130.4h0M376.3 189.9h0M342.7 240.4h0M377.9 136.8h0M365.0 237.4h0M339.6 240.9h0M376.8 167.3h0M425.5 195.0h0M400.7 154.1h0M380.3 213.2h0M421.0 192.1h0M393.3 177.8h0M392.6 241.9h0M400.6 242.0h0M384.3 183.9h0M355.2 247.0h0M393.8 140.0h0M376.4 166.9h0M372.7 198.8h0M436.3 209.1h0M405.6 202.7h0M374.2 133.9h0M403.5 205.9h0M397.6 141.3h0M378.8 173.7h0M421.8 194.9h0M376.0 260.9h0M380.4 196.2h0M382.4 227.8h0M403.6 182.0h0M368.6 166.5h0M354.7 242.7h0M395.9 218.2h0M378.2 190.2h0M438.4 194.6h0M393.9 204.1h0M382.0 184.1h0M377.2 196.7h0M391.5 203.6h0M346.3 151.0h0M420.7 213.5h0M433.7 161.1h0M430.2 232.9h0M374.0 235.8h0M354.2 134.7h0M365.8 238.4h0M381.8 201.5h0M390.1 184.8h0M431.7 200.2h0M371.4 154.3h0M445.1 228.7h0M412.2 226.0h0M372.1 217.8h0M350.8 238.9h0M373.7 159.8h0M369.4 168.9h0M398.8 219.1h0M375.3 171.3h0M392.7 156.0h0M338.9 247.3h0M338.7 150.3h0M403.7 217.4h0M390.4 161.2h0M382.1 232.3h0M367.8 123.2h0M391.2 218.9h0M421.9 230.3h0M413.2 147.9h0M401.1 133.3h0M387.4 160.6h0M373.3 184.5h0M418.0 215.4h0M357.5 252.9h0M379.8 151.2h0M396.8 206.8h0M390.0 205.0h0M378.4 206.9h0M371.3 183.6h0M427.6 168.6h0M396.7 236.1h0M396.2 226.0h0M374.1 198.0h0M382.2 175.9h0M384.7 224.9h0M367.7 242.1h0M372.9 205.0h0M395.9 159.9h0M339.1 247.7h0M339.5 153.2h0M375.4 187.2h0M398.4 179.2h0M364.4 240.8h0M374.5 210.5h0M420.0 194.4h0M438.7 198.7h0M370.6 252.8h0M374.7 172.2h0M425.1 142.2h0M368.1 265.9h0M386.7 239.1h0M376.6 155.3h0M397.3 154.3h0M434.5 163.5h0M385.3 172.5h0M371.0 178.7h0M381.2 179.3h0M395.1 247.0h0M403.2 206.9h0M425.1 171.6h0M394.2 200.2h0M380.1 153.8h0M372.1 157.7h0M410.6 227.2h0M435.2 247.6h0M371.7 173.4h0M426.9 232.7h0M386.5 163.9h0M441.3 164.9h0M370.6 165.5h0M403.9 234.1h0M407.2 216.1h0M431.3 229.6h0M374.5 197.0h0M399.3 143.6h0M394.6 156.5h0M371.8 214.1h0M386.8 143.5h0M382.1 171.0h0M378.6 213.2h0M427.4 273.4h0M406.5 202.0h0M413.9 172.4h0M368.9 168.5h0M396.1 197.0h0M389.8 182.6h0M425.6 182.5h0M392.1 225.5h0M427.7 188.2h0M377.4 164.3h0M381.5 175.3h0M377.2 160.3h0M429.7 204.1h0M380.8 209.9h0M391.7 196.5h0M367.2 243.5h0M417.5 223.5h0M380.1 227.4h0M387.3 169.0h0M428.1 197.0h0M375.4 170.0h0M413.5 218.2h0M378.9 232.3h0M392.8 223.5h0M409.1 151.1h0M396.9 133.4h0M399.9 186.2h0M403.5 165.7h0M397.4 138.3h0M402.2 168.8h0M372.4 168.0h0M373.4 149.1h0M403.3 122.8h0M388.7 144.5h0M395.4 167.5h0M376.3 173.7h0M415.2 203.0h0M399.3 215.8h0M388.8 164.3h0M371.8 151.8h0M363.7 239.6h0M371.6 238.1h0M377.4 165.1h0M388.4 169.8h0M387.1 135.1h0M384.5 167.3h0M419.1 199.2h0M379.0 223.1h0M402.4 208.6h0M354.9 251.5h0M381.8 192.0h0M385.1 219.0h0M429.3 182.4h0M401.6 257.2h0M374.2 238.6h0M389.5 149.4h0M396.7 208.2h0M411.1 158.5h0M356.4 138.3h0M366.5 237.9h0M366.0 249.2h0M338.3 244.6h0M378.8 211.2h0M427.0 206.3h0M374.3 263.2h0M384.5 162.8h0M373.7 189.8h0M387.9 223.4h0M414.2 214.6h0M420.5 130.1h0M431.3 217.7h0M413.6 197.3h0M392.5 175.3h0M395.9 199.0h0M421.5 142.3h0M380.2 220.4h0M406.2 172.5h0M358.6 248.5h0M387.0 201.8h0M371.0 164.1h0M376.1 229.2h0M399.1 202.3h0M412.7 206.2h0M374.9 206.8h0M383.1 180.7h0M370.3 180.0h0M358.9 243.7h0M371.6 162.5h0M368.5 250.4h0M372.4 200.1h0M373.8 243.8h0M376.9 166.6h0M380.9 190.1h0M404.3 216.9h0M421.9 173.7h0M374.7 196.3h0M383.8 227.8h0M379.8 142.5h0M418.7 166.5h0M429.9 187.7h0M390.1 167.6h0M368.9 246.5h0M376.7 130.9h0M411.8 177.5h0M400.4 201.1h0M378.4 130.9h0M376.8 227.3h0M380.1 175.3h0M373.5 177.6h0M372.8 206.3h0M411.5 163.0h0M396.3 155.7h0M385.4 127.9h0M379.0 162.4h0M369.0 240.5h0M369.2 169.8h0M395.5 231.9h0M384.2 168.6h0M390.7 215.0h0M357.9 253.5h0M368.3 240.3h0M365.6 129.3h0M378.8 221.7h0M380.7 171.1h0M345.3 243.9h0M369.6 164.8h0M389.0 234.5h0M399.4 207.5h0M386.2 229.4h0M396.8 142.8h0M380.9 138.2h0M381.6 161.7h0M381.7 130.0h0M373.9 175.2h0M422.8 205.2h0M382.7 163.4h0M376.6 167.6h0M374.9 179.6h0M406.3 177.9h0M367.7 241.4h0M402.0 169.0h0M386.6 149.1h0M377.3 225.2h0M382.6 200.7h0M385.2 236.0h0M409.1 142.3h0M357.2 250.6h0M375.0 182.2h0M373.7 143.4h0M385.3 155.7h0M412.4 154.3h0M437.6 184.2h0M422.6 190.2h0M383.7 161.3h0M390.8 249.5h0M391.0 218.2h0M369.5 161.7h0M378.1 177.9h0M371.9 199.1h0M402.0 121.6h0M416.8 190.9h0M378.1 142.7h0M436.2 212.0h0M372.6 179.6h0M375.3 177.7h0M410.3 172.6h0M384.9 230.5h0M372.9 172.7h0M400.6 183.6h0M379.2 226.7h0M378.0 161.1h0M413.8 185.1h0M378.4 243.2h0M380.7 203.8h0M378.1 241.2h0M407.6 173.9h0M377.6 200.4h0M394.8 212.7h0M371.6 242.1h0M386.3 227.4h0M396.4 214.8h0M374.7 235.7h0M374.5 156.1h0M350.1 242.4h0M403.3 122.5h0M434.6 204.0h0M363.9 244.4h0M373.4 171.5h0M410.3 229.3h0M413.9 227.1h0M389.2 215.0h0M388.4 181.8h0M395.3 169.6h0M372.3 213.4h0M384.8 170.6h0M382.0 207.9h0M388.4 233.3h0M373.6 215.4h0M406.3 180.5h0M373.0 205.5h0M389.5 220.9h0M419.4 263.4h0M407.5 198.1h0M369.7 164.3h0M386.2 165.0h0M374.7 230.2h0M404.6 173.8h0M394.2 155.8h0M383.8 226.9h0M376.8 213.0h0M363.2 243.7h0M384.2 124.9h0M387.2 225.7h0M432.9 170.4h0M381.5 224.0h0M395.8 221.1h0M369.3 161.7h0M428.7 211.6h0M415.7 176.2h0M375.3 189.0h0M369.5 247.8h0M381.4 231.0h0M387.8 179.7h0M398.7 225.2h0M398.9 223.6h0M374.8 211.8h0M412.3 226.7h0M374.4 157.1h0M385.7 157.0h0M373.3 175.2h0M421.0 174.5h0M378.7 174.9h0M389.6 180.1h0M398.1 208.9h0M375.0 221.7h0M415.0 174.8h0M383.6 181.0h0M386.7 228.4h0M374.0 225.4h0M403.7 173.7h0M378.7 200.1h0M386.8 232.4h0M420.8 197.8h0M369.5 231.6h0M427.5 179.9h0M390.1 185.2h0M429.4 164.7h0M376.0 160.6h0M403.7 226.8h0M371.1 151.5h0M370.9 156.5h0M393.5 129.5h0M428.2 203.3h0M349.8 245.0h0M394.9 173.2h0M372.0 195.6h0M398.9 127.7h0M430.1 216.7h0M375.1 195.9h0M397.3 190.9h0M384.0 167.7h0M381.5 171.4h0M383.1 215.7h0M371.3 242.8h0M371.4 188.4h0M430.7 215.2h0M381.0 193.4h0M378.9 194.8h0M400.5 220.7h0M400.6 122.8h0M392.2 150.6h0M373.6 167.2h0M347.9 140.3h0M382.4 214.4h0M377.2 226.9h0M399.5 188.2h0M365.8 241.6h0M373.5 173.0h0M387.7 172.5h0M431.3 215.4h0M407.6 221.4h0M386.1 142.3h0M398.8 185.6h0M430.8 250.7h0M382.4 225.4h0M382.3 238.4h0M402.7 230.2h0M388.6 191.2h0M379.2 204.1h0M439.0 175.5h0M372.4 223.3h0M413.6 229.9h0M374.1 187.1h0M404.0 175.9h0M380.6 218.1h0M386.5 172.4h0M437.9 160.6h0M376.3 234.8h0M415.4 162.9h0M372.8 148.3h0M397.7 231.3h0M378.7 174.2h0M363.9 240.9h0M379.4 234.7h0M407.8 253.5h0M387.1 175.5h0M413.8 177.9h0M343.3 241.9h0M398.3 171.3h0M379.0 160.5h0M405.6 150.3h0M374.3 251.7h0M410.0 226.2h0M386.9 160.8h0M421.0 232.3h0M381.8 175.7h0M430.6 206.3h0M391.4 200.8h0M373.0 173.7h0M373.5 141.5h0M372.5 182.7h0M370.2 181.2h0M387.8 216.0h0M415.0 219.4h0M374.7 238.3h0M383.3 149.4h0M370.5 232.8h0M374.9 241.1h0M381.4 170.9h0M386.7 131.7h0M385.4 236.7h0M409.9 188.8h0M375.7 144.1h0M398.4 198.8h0M438.5 163.4h0M389.3 176.2h0M383.8 177.8h0M396.8 209.3h0M380.6 246.7h0M391.1 122.5h0M386.7 128.0h0M380.0 241.4h0M395.6 241.1h0M394.0 209.3h0M398.2 170.3h0M396.4 202.4h0M387.1 235.5h0M385.1 188.0h0M352.3 240.4h0M376.6 236.1h0M408.0 188.0h0M400.7 138.9h0M375.6 212.3h0M417.1 215.6h0M378.3 190.5h0M412.4 157.2h0M409.7 234.7h0M384.5 200.9h0M426.5 228.7h0M377.4 238.6h0M417.3 237.3h0M405.1 159.7h0M371.3 157.3h0M413.4 181.1h0M378.2 224.6h0M374.4 222.5h0M374.4 200.1h0M361.2 132.1h0M431.1 216.7h0M403.7 211.1h0M369.9 178.0h0M377.9 155.4h0M345.9 140.6h0M379.4 185.7h0M373.5 233.8h0M380.1 194.6h0M335.2 234.9h0M439.3 150.5h0M408.8 212.3h0M382.7 164.0h0M438.7 149.2h0M418.0 220.1h0M362.2 247.7h0M394.7 229.1h0M410.5 232.5h0M372.8 176.1h0M394.5 212.6h0M400.2 180.4h0M392.4 176.6h0M380.6 217.2h0M413.4 160.2h0M398.1 204.2h0M376.1 176.8h0M418.9 172.8h0M366.3 126.9h0M389.4 214.9h0M391.1 233.8h0M371.9 175.3h0M374.2 228.5h0M375.7 222.7h0M420.0 179.3h0M423.8 149.1h0M357.4 246.8h0M374.9 151.6h0M398.5 194.4h0M392.0 161.5h0M388.8 202.2h0M387.4 221.3h0M370.4 160.8h0M409.2 186.3h0M379.1 213.4h0M439.4 198.9h0M416.1 232.9h0M392.8 207.1h0M430.3 155.6h0M413.4 141.1h0M371.9 218.8h0M384.2 192.8h0M376.7 221.4h0M402.3 153.7h0M371.7 218.3h0M382.1 159.6h0M373.8 217.1h0M351.3 240.8h0M412.1 144.4h0M394.1 219.5h0M380.1 211.2h0M438.8 204.7h0M383.2 202.4h0M428.3 195.4h0M385.3 150.4h0M368.9 242.3h0M357.7 246.2h0M391.0 192.6h0M376.9 228.2h0M369.9 160.8h0M373.3 153.2h0M450.3 231.4h0M399.6 195.4h0M397.8 167.0h0M376.2 180.7h0M351.7 142.4h0M373.6 206.7h0M384.9 142.2h0M371.7 180.0h0M346.8 147.3h0M413.0 144.3h0M396.0 236.3h0M410.9 180.0h0M376.7 214.6h0M378.9 228.3h0M372.9 209.9h0M421.2 194.1h0M379.1 241.0h0M371.6 185.0h0M340.0 246.9h0M374.5 199.1h0M379.5 141.8h0M372.4 189.7h0M427.3 206.4h0M381.8 173.6h0M372.4 227.0h0M374.5 173.7h0M375.0 236.9h0M375.8 144.0h0M373.6 208.1h0M355.6 252.0h0M410.8 150.2h0M402.6 130.7h0M380.9 255.6h0M417.4 232.2h0M395.0 257.9h0M401.8 198.5h0M377.6 237.8h0M408.2 210.8h0M391.6 157.4h0M388.3 171.0h0M374.1 208.9h0M389.4 223.3h0M363.0 248.1h0M378.7 160.9h0M387.0 235.7h0M378.5 175.8h0M378.8 247.5h0M412.2 239.6h0M362.9 246.9h0M365.8 242.8h0M434.6 224.1h0M404.1 131.2h0M387.8 206.0h0M430.5 237.9h0M379.6 186.9h0M389.8 189.6h0M436.1 158.5h0M379.7 220.3h0M402.8 202.1h0M370.0 174.8h0M371.9 228.8h0M405.2 179.3h0M426.3 213.2h0M381.0 204.1h0M344.1 237.8h0M391.3 206.5h0M403.4 228.0h0M386.7 194.3h0M370.5 163.8h0M370.5 165.5h0M377.4 156.3h0M375.6 173.9h0M372.2 196.9h0M425.1 162.4h0M426.5 225.8h0M409.1 249.1h0M375.3 245.2h0M416.0 179.3h0M375.9 223.1h0M387.3 140.4h0M432.4 152.3h0M372.0 177.1h0M381.8 186.2h0M418.7 223.3h0M415.3 159.3h0M418.0 195.5h0M436.3 171.6h0M385.8 231.5h0M372.3 149.8h0M379.1 159.3h0M377.1 194.4h0M398.6 225.4h0M432.3 180.0h0M412.5 191.0h0M383.5 183.5h0M384.4 172.5h0M408.3 225.7h0M432.4 229.2h0M404.1 129.5h0M386.3 220.1h0M416.7 156.4h0M380.4 159.9h0M404.7 151.4h0M400.3 213.5h0M369.1 165.3h0M411.7 192.0h0M375.9 134.5h0M376.3 171.0h0M393.6 193.4h0M373.9 240.4h0M422.5 218.4h0M373.5 228.4h0M384.5 144.3h0M405.6 235.9h0M385.8 208.0h0M372.4 206.7h0M384.5 237.5h0M415.9 206.9h0M372.0 219.5h0M371.6 163.7h0M374.5 201.2h0M373.8 185.6h0M384.9 116.4h0M388.4 176.7h0M418.9 196.9h0M407.5 157.1h0M385.3 212.7h0M391.4 186.6h0M390.9 208.6h0M376.9 192.5h0M371.6 191.9h0M367.0 242.4h0M368.5 235.5h0M395.0 168.8h0M374.2 151.3h0M385.7 210.5h0M374.1 172.9h0M398.3 199.3h0M394.2 181.8h0M393.1 250.1h0M384.3 191.9h0M382.7 218.7h0M385.8 146.4h0M374.5 202.5h0M373.0 251.6h0M400.8 179.8h0M437.0 256.4h0M375.0 189.9h0M418.8 212.2h0M363.5 243.7h0M401.9 204.5h0M387.5 244.5h0M391.2 232.0h0M379.4 190.2h0M414.6 210.5h0M411.1 232.7h0M417.4 185.8h0M380.6 156.3h0M391.7 149.9h0M408.9 206.8h0M373.5 145.5h0M401.3 165.3h0M407.6 229.2h0M425.8 170.5h0M377.8 146.9h0M380.7 194.8h0M380.6 246.4h0M379.1 146.9h0M415.4 213.2h0M377.7 149.0h0M373.0 188.2h0M384.0 206.8h0M377.3 155.1h0M379.5 146.8h0M431.1 195.1h0M423.8 170.5h0M371.5 159.1h0M396.8 247.2h0M397.3 205.7h0M396.9 240.7h0M373.0 205.8h0M409.7 192.3h0M377.9 182.9h0M408.0 152.9h0M365.0 249.5h0M418.8 206.7h0M378.0 206.8h0M386.6 239.6h0M384.1 156.3h0M439.3 185.4h0M375.9 167.1h0M410.4 203.0h0M387.7 218.0h0M375.0 237.0h0M347.4 243.4h0M383.5 153.5h0M393.8 165.9h0M385.1 195.0h0M381.5 192.8h0M394.0 223.4h0M387.4 179.5h0M412.9 160.0h0M410.5 171.1h0M385.9 174.7h0M424.9 123.1h0M374.5 253.6h0M351.0 249.1h0M380.2 154.0h0M402.7 175.4h0M381.7 186.9h0M385.5 159.5h0M402.4 238.7h0M388.5 166.7h0M358.3 151.2h0M354.6 152.2h0M317.6 195.4h0M375.1 205.1h0M368.4 173.9h0M343.3 160.0h0M367.2 163.6h0M370.2 218.1h0M319.6 211.4h0M345.4 156.1h0M348.4 237.3h0M352.8 153.1h0M345.0 228.9h0M342.2 163.1h0M346.1 158.1h0M347.6 156.4h0M365.1 151.3h0M348.7 151.2h0M339.7 221.1h0M365.5 150.4h0M367.5 160.3h0M328.4 214.0h0M369.7 220.4h0M367.1 199.1h0M314.7 196.6h0M346.6 154.0h0M369.9 233.4h0M368.6 231.5h0M348.4 156.2h0M330.4 176.6h0M371.3 206.4h0M338.1 222.3h0M361.0 148.0h0M368.9 168.1h0M352.9 153.4h0M371.4 177.5h0M363.0 236.4h0M370.4 173.1h0M315.9 189.7h0M331.6 172.1h0M341.2 158.5h0M371.5 199.1h0M368.6 232.5h0M343.1 159.0h0M316.3 196.9h0M358.3 150.7h0M341.3 163.1h0M370.4 196.5h0M327.2 179.6h0M344.7 156.0h0M334.4 217.6h0M372.5 207.0h0M364.8 155.5h0M367.1 235.9h0M331.3 217.5h0M328.3 179.5h0M339.8 163.6h0M367.4 223.4h0M372.4 207.1h0M365.9 175.1h0M315.5 195.5h0M353.6 239.4h0M357.2 149.9h0M341.4 167.0h0M366.5 237.0h0M347.8 237.1h0M373.1 207.8h0M341.5 162.7h0M342.3 162.7h0M323.4 186.3h0M342.5 224.9h0M365.1 235.0h0M328.0 178.9h0M370.8 185.9h0M369.3 229.3h0M369.2 196.4h0M334.1 171.8h0M329.0 175.4h0M369.3 182.3h0M371.8 211.6h0M322.3 184.6h0M346.2 228.7h0M341.3 161.0h0M370.2 199.0h0M322.3 181.4h0M352.0 241.8h0M368.2 237.0h0M352.3 237.5h0M353.1 152.6h0M366.8 227.8h0M317.1 193.3h0M370.7 231.1h0M342.5 162.2h0M348.6 154.5h0M366.1 231.2h0M369.3 231.6h0M330.1 178.6h0M333.9 219.7h0M324.6 181.3h0M353.0 149.0h0M371.6 188.8h0M338.0 164.0h0M357.9 244.7h0M347.6 156.2h0M335.3 166.4h0M357.5 152.8h0M332.3 171.9h0M332.9 176.6h0M350.3 154.2h0M326.3 209.5h0M371.4 188.9h0M338.2 168.6h0M319.0 189.1h0M371.7 196.5h0M371.7 202.4h0M318.4 188.7h0M371.6 184.0h0M311.0 194.8h0M346.4 232.5h0M313.2 192.1h0M353.4 155.4h0M319.4 200.2h0M315.7 192.1h0M341.2 163.7h0M314.2 199.3h0M323.0 185.0h0M353.9 150.4h0M329.2 213.7h0M326.7 211.3h0M372.3 197.8h0M367.3 234.3h0M365.8 163.6h0M346.9 231.0h0M344.5 229.3h0M371.3 204.6h0M364.5 150.4h0M367.3 239.1h0M315.4 191.8h0M343.1 225.7h0M370.3 190.3h0M354.6 242.0h0M372.7 213.5h0M370.1 230.0h0M324.1 212.4h0M339.0 169.4h0M372.8 206.8h0M366.1 236.9h0M367.5 167.3h0M326.6 183.6h0M369.7 206.3h0M373.7 202.1h0M370.7 227.1h0M369.3 197.1h0M369.9 173.7h0M370.1 189.5h0M353.1 151.8h0M372.1 202.5h0M324.4 181.3h0M350.6 236.9h0M365.0 233.3h0M345.3 230.0h0M343.4 159.2h0M365.1 149.1h0M371.5 208.2h0M349.4 153.9h0M368.1 234.9h0M355.4 244.3h0M318.5 194.0h0M372.8 208.9h0M371.6 206.9h0M366.4 233.7h0M323.0 183.3h0M352.1 238.5h0M370.0 178.1h0M373.3 187.7h0M362.3 147.2h0M361.7 149.2h0M352.7 154.2h0M342.4 225.6h0M371.5 218.8h0M368.5 177.8h0M368.1 153.3h0M359.1 149.8h0M366.2 158.8h0M324.3 210.6h0M350.6 239.2h0M328.1 213.6h0M351.3 235.9h0M333.0 174.9h0M369.5 177.0h0M349.1 156.3h0M365.9 158.6h0M326.8 177.5h0M366.5 152.5h0M325.7 179.7h0M362.4 242.3h0M327.0 180.3h0M328.6 177.8h0M369.9 214.3h0M368.7 225.9h0M367.6 162.8h0M369.7 169.1h0M366.8 162.6h0M368.5 211.1h0M372.9 206.9h0M369.9 217.4h0M339.6 222.3h0M365.6 239.6h0M334.4 218.0h0M369.1 180.4h0M349.3 158.0h0M371.9 225.0h0M346.6 227.9h0M328.9 213.8h0M372.1 215.4h0M356.6 151.5h0M315.0 192.9h0M324.8 211.6h0M335.5 170.0h0M371.7 210.5h0M316.8 191.0h0M359.1 245.3h0M358.7 245.8h0M347.6 238.3h0M364.7 237.5h0M330.1 216.2h0M368.4 167.9h0M368.6 155.5h0M370.2 228.0h0M366.3 158.2h0M344.6 231.7h0M369.8 183.9h0M370.3 216.5h0M324.9 216.5h0M344.6 232.7h0M318.4 188.6h0M330.6 177.4h0M371.2 200.5h0M371.7 207.9h0M366.6 167.4h0M347.3 232.9h0M370.3 224.8h0M318.6 204.9h0M370.6 164.2h0M328.8 211.4h0M366.2 231.6h0M370.2 191.6h0M350.3 152.6h0M361.5 151.3h0M352.7 153.3h0M336.5 168.5h0M340.1 225.2h0M333.0 171.9h0M365.1 148.6h0M370.5 222.4h0M344.5 155.2h0M323.9 211.7h0M369.3 222.6h0M316.3 197.3h0M345.6 226.0h0M354.3 148.9h0M371.6 188.8h0M322.6 188.1h0M368.3 169.1h0M343.7 224.4h0M370.5 203.6h0M338.5 165.4h0M371.8 225.4h0M336.3 167.5h0M365.9 159.0h0M355.9 148.9h0M345.5 226.1h0M363.2 148.4h0M314.5 195.0h0M344.2 228.7h0M316.6 193.5h0M370.0 220.0h0M331.1 214.8h0M321.9 211.2h0M359.5 151.8h0M318.1 200.1h0M318.5 200.2h0M369.2 180.6h0M369.9 170.2h0M337.2 168.7h0M339.8 223.7h0M352.5 240.9h0M329.7 175.4h0M373.7 192.4h0M370.8 196.4h0M329.6 175.1h0M316.5 186.3h0M362.6 239.5h0M340.2 222.2h0M369.9 198.5h0M313.9 196.2h0M367.9 183.4h0M371.2 209.5h0M354.6 241.6h0M316.5 195.5h0M357.9 147.8h0M368.0 160.6h0M363.2 135.2h0M352.2 143.4h0M363.2 145.1h0M370.6 132.6h0M369.4 135.7h0M365.3 138.1h0M371.3 142.8h0M371.0 139.0h0M352.3 145.0h0M367.2 156.0h0M362.5 133.9h0M368.7 145.6h0M349.4 147.6h0M361.4 139.5h0M370.3 130.1h0M367.8 159.7h0M370.5 145.5h0M356.9 145.5h0M358.7 145.7h0M365.5 136.3h0M368.1 136.0h0M369.9 129.1h0M366.5 138.0h0M368.3 157.9h0M366.2 149.3h0M352.6 149.4h0M357.9 138.4h0M367.3 131.4h0M357.1 149.2h0M368.6 160.7h0M372.0 137.6h0M372.0 137.4h0M366.2 141.5h0M359.5 147.2h0M366.0 145.1h0M370.3 139.3h0M368.8 159.3h0M365.6 130.7h0M370.4 140.8h0M353.6 142.4h0M369.7 155.2h0M363.3 136.8h0M352.0 151.9h0M371.2 139.0h0M366.3 138.9h0M368.0 131.1h0M364.2 141.3h0M372.4 136.9h0M371.4 143.0h0M371.7 132.6h0M352.6 145.0h0M364.2 134.5h0M353.1 148.2h0M364.2 136.4h0M362.7 142.8h0M363.9 139.9h0M368.0 133.6h0M360.7 147.1h0M348.7 150.7h0M368.1 162.6h0M364.4 146.6h0M362.4 146.5h0M362.1 137.2h0M355.2 148.7h0M345.0 156.5h0M370.8 132.1h0M364.7 145.6h0M368.5 139.1h0M370.7 142.0h0M370.4 142.0h0M355.4 140.4h0M370.4 130.7h0M349.5 147.7h0M345.8 156.7h0M362.7 140.4h0M364.4 149.2h0M371.5 132.6h0M363.3 139.3h0M341.0 161.3h0M347.9 151.2h0M372.8 133.5h0M369.1 145.0h0M360.8 135.0h0M346.6 150.8h0M372.8 134.9h0M344.7 156.1h0M364.6 147.8h0M364.5 132.2h0M365.9 133.3h0M358.9 140.5h0M368.2 157.5h0M364.0 144.1h0M363.8 148.9h0M367.8 129.9h0M351.4 145.0h0M369.8 130.7h0M365.8 142.4h0M346.5 153.2h0M356.3 145.7h0M351.4 150.9h0M366.1 142.0h0M337.7 167.1h0M352.0 144.0h0M366.7 153.8h0M363.2 136.1h0M363.3 137.7h0M350.8 151.1h0M346.7 150.9h0M370.1 132.6h0M370.1 128.5h0M354.5 147.7h0M362.3 147.3h0M357.2 148.2h0M373.3 134.3h0M366.4 143.1h0M366.0 137.9h0M364.6 143.6h0M355.3 143.9h0M366.6 145.8h0M355.7 142.8h0M362.2 137.0h0M369.2 155.2h0M369.1 142.4h0M370.5 143.3h0M348.3 155.1h0M354.6 144.4h0M363.9 141.6h0M369.8 144.1h0M362.5 139.0h0M358.5 145.5h0M365.0 140.0h0M368.2 160.1h0M362.4 141.6h0M355.8 143.0h0M367.2 149.1h0M368.0 160.4h0M368.9 146.9h0M355.2 146.7h0M364.4 144.2h0M366.0 138.7h0M360.7 147.1h0M369.0 149.6h0M364.0 135.2h0M369.7 150.6h0M363.7 145.6h0M356.0 149.9h0M362.0 146.1h0M366.0 142.8h0M348.4 155.1h0M348.2 149.9h0M355.7 147.6h0M361.9 145.0h0M357.5 147.5h0M370.3 150.8h0M368.3 131.7h0M357.0 140.3h0M365.0 130.7h0M358.0 139.5h0M355.4 144.9h0M350.5 152.2h0M366.8 129.3h0M362.3 138.7h0M364.6 146.0h0M355.5 145.0h0M373.6 133.4h0M370.4 149.1h0M369.4 128.8h0M370.2 143.8h0M359.8 139.3h0M365.4 135.5h0M369.0 157.7h0M363.0 135.6h0M344.8 158.1h0M365.2 147.7h0M362.4 147.5h0M371.8 134.7h0M358.9 145.0h0M347.0 156.4h0M351.8 149.7h0M372.0 131.2h0M366.8 152.4h0M358.8 140.5h0M368.2 150.8h0M368.2 138.2h0M368.0 150.5h0M370.0 129.8h0M367.7 131.6h0M367.1 128.8h0M348.6 151.8h0M365.0 146.1h0M369.8 135.9h0M368.1 149.2h0M354.4 146.6h0M356.5 143.4h0M366.8 138.1h0M364.5 133.7h0M349.4 153.3h0M344.6 156.7h0M350.6 147.7h0M369.8 132.0h0M365.7 139.7h0M367.3 145.9h0M369.3 131.3h0M367.3 132.3h0M370.8 149.7h0M370.1 143.7h0M361.4 140.3h0M359.5 141.4h0M363.0 143.8h0M369.1 147.7h0M368.7 145.4h0M353.5 142.3h0M366.5 142.4h0M360.9 134.2h0M354.4 148.4h0M357.4 146.2h0M371.3 131.1h0M354.9 140.6h0M354.4 146.2h0M364.6 132.3h0M355.2 140.4h0M367.7 154.3h0M353.3 146.0h0M349.4 151.7h0M339.3 164.1h0M365.3 133.4h0M365.3 146.7h0M349.9 151.0h0M361.6 144.3h0M348.5 152.9h0M359.8 138.4h0M350.4 148.9h0M370.7 143.1h0M368.8 137.4h0M361.1 146.5h0M365.1 140.9h0M364.5 148.1h0M360.5 147.1h0M369.5 128.7h0M369.6 134.3h0M370.0 143.1h0M356.3 144.0h0M366.5 133.9h0M371.2 132.5h0M364.7 144.8h0M366.2 146.0h0M363.5 145.5h0M363.0 134.3h0M354.1 141.1h0M344.4 156.2h0M339.8 163.5h0M369.8 141.6h0M370.8 129.7h0M362.2 134.6h0M360.9 143.8h0M343.9 155.2h0M357.9 137.7h0M367.6 141.8h0M353.1 148.6h0M366.9 139.2h0M357.7 142.7h0M362.3 145.2h0M369.6 127.4h0M365.9 144.5h0M365.3 146.9h0M364.8 138.9h0M361.9 148.2h0M369.7 144.7h0M362.5 134.9h0M370.5 135.8h0M358.5 146.2h0M369.5 153.3h0M364.5 147.0h0M368.2 141.6h0M347.8 150.0h0M352.5 151.3h0M368.4 146.8h0M360.3 138.1h0M370.3 132.7h0M365.7 139.8h0M355.6 148.7h0M364.4 133.5h0M363.7 144.5h0M356.0 143.3h0M351.4 152.4h0M367.0 129.5h0M356.6 136.0h0M361.8 134.4h0M363.7 132.9h0M358.6 134.3h0M353.4 138.4h0M368.6 127.2h0M364.4 127.7h0M356.9 136.8h0M367.4 129.4h0M368.8 126.9h0M369.6 126.9h0M358.3 138.3h0M369.4 129.3h0M362.0 134.7h0M364.4 131.4h0M359.4 135.5h0M366.6 128.6h0M365.1 130.0h0M365.3 131.5h0M360.7 137.7h0M361.4 132.9h0M359.8 135.6h0M367.3 129.8h0M369.8 127.4h0M356.2 139.6h0M364.7 131.0h0M366.8 129.2h0M354.4 138.9h0M363.4 132.3h0M367.4 128.6h0M360.8 133.8h0M352.2 139.3h0M355.3 136.8h0M368.1 130.0h0M361.3 136.3h0M356.7 135.9h0M359.9 135.6h0M359.6 132.5h0M367.6 129.6h0M373.4 135.2h0M362.7 149.5h0M368.0 145.5h0M369.8 139.0h0M367.1 140.9h0M372.8 137.0h0M376.7 132.5h0M368.5 141.3h0M376.6 133.7h0M361.7 146.9h0M365.3 147.7h0M361.1 148.5h0M372.4 137.1h0M370.6 139.9h0M366.4 138.9h0M375.5 132.9h0M361.4 149.3h0M363.3 147.7h0M367.9 140.4h0M376.5 129.3h0M371.0 139.3h0M374.4 135.1h0M368.4 139.5h0M364.6 145.5h0M374.6 134.2h0M367.2 143.5h0M363.6 146.3h0M370.7 138.0h0M376.5 131.8h0M367.9 143.0h0M371.6 139.0h0M373.5 133.9h0M369.3 140.0h0M370.4 141.1h0M376.4 132.0h0M365.5 146.0h0M363.0 150.1h0M375.2 134.5h0M372.1 135.9h0M375.5 134.1h0M347.6 147.5h0M345.8 149.9h0M353.2 144.3h0M350.8 143.9h0M352.2 141.7h0M353.6 142.8h0M358.0 137.5h0M353.9 141.0h0M347.1 148.0h0M358.2 135.9h0M346.4 150.0h0M350.2 145.1h0M353.6 139.5h0M353.1 142.3h0M357.8 140.2h0M358.2 136.2h0M357.4 140.5h0M359.3 135.4h0M348.6 146.7h0M349.7 146.4h0M346.4 149.8h0M354.1 141.5h0M346.6 148.7h0M352.9 143.1h0M345.7 150.4h0M345.0 146.2h0M345.2 149.3h0M352.3 142.1h0M349.1 145.1h0M358.1 137.1h0M357.2 138.8h0M351.3 144.8h0M349.7 146.2h0M355.7 138.6h0M358.2 138.9h0M349.5 143.6h0M353.1 141.3h0M348.3 147.6h0M346.4 149.5h0M345.8 148.3h0M370.3 149.4h0M372.6 145.3h0M371.0 149.3h0M376.9 132.8h0M376.9 136.4h0M375.1 140.4h0M370.9 145.1h0M372.9 147.5h0M373.7 143.3h0M373.9 144.5h0M372.1 147.3h0M373.0 147.3h0M374.2 140.4h0M372.1 147.1h0M379.7 126.8h0M374.1 139.1h0M370.1 147.3h0M374.4 138.5h0M379.6 127.4h0M377.6 135.6h0M378.6 126.3h0M373.7 142.4h0M376.5 139.3h0M372.2 146.9h0M370.9 146.7h0M376.8 136.1h0M376.4 133.1h0M372.3 148.8h0M381.6 124.7h0M369.5 147.8h0M381.6 128.0h0M380.1 127.3h0M371.6 148.4h0M372.6 142.5h0M378.2 135.6h0M380.3 128.0h0M377.8 136.0h0M371.3 149.6h0M378.7 136.6h0M373.7 146.1h0M432.0 224.5h0M437.6 224.5h0M442.0 226.0h0M460.0 226.5h0M464.0 228.0h0M432.3 236.5h0M433.0 239.0h0M435.0 238.0h0M438.0 241.5h0M439.0 244.0h0M452.0 237.0h0M457.0 241.0h0M459.0 238.0h0M430.0 252.0h0M464.8 252.3h0M488.0 257.0h0M444.6 258.0h0M432.0 263.0h0M435.5 263.8h0M438.5 262.5h0M437.8 270.8h0M456.0 268.7h0M469.0 265.5h0M431.0 275.8h0M433.5 282.5h0M433.0 285.5h0M432.9 112.6h0M398.3 276.2h0" stroke="#0000ff" stroke-width="2.1" stroke-linecap="round" fill="none"/>
<path d="M322.5 197L331 194L345 193L353 195.5L360 203L364 212L364 220L358 226L348 224L336 215L328 206Z" fill="#fa6a4c"/>
<path d="M348.1 223.8h0M327.6 204.3h0M343.4 192.6h0M342.9 195.0h0M336.1 217.1h0M356.7 199.9h0M325.5 203.5h0M334.1 195.3h0M333.1 213.1h0M331.9 211.8h0M340.4 194.9h0M345.3 221.7h0M334.8 193.4h0M336.3 194.8h0M339.7 214.6h0M363.7 206.3h0M332.4 214.5h0M352.3 194.8h0M338.8 194.3h0M353.7 223.9h0M359.7 221.7h0M362.0 221.9h0M359.5 208.4h0M343.1 193.0h0M332.0 211.8h0M359.4 224.5h0M349.5 194.2h0M338.5 193.6h0M350.2 196.4h0M326.8 196.4h0M349.6 196.1h0M335.6 195.4h0M351.0 196.2h0M362.8 216.6h0M361.7 223.2h0M360.2 199.7h0M363.9 209.8h0M342.3 192.1h0M362.0 223.5h0M358.8 222.7h0M329.0 206.2h0M329.1 206.1h0M326.0 196.7h0M332.7 212.6h0M345.1 192.9h0M360.4 206.0h0M352.5 195.9h0M364.2 220.4h0M324.0 197.6h0M362.9 217.7h0M351.6 222.9h0M332.0 208.7h0M359.4 222.2h0M363.2 214.6h0M346.5 224.8h0M333.5 196.2h0M344.8 222.4h0M356.6 226.3h0M356.3 226.0h0M362.9 215.6h0M326.2 206.3h0M364.2 217.6h0M360.5 204.6h0M365.3 215.8h0M350.7 193.8h0M324.3 198.1h0M337.4 212.3h0M348.0 193.2h0M361.8 207.5h0M348.6 193.5h0M346.0 193.3h0M359.1 223.1h0M361.9 205.1h0M331.5 195.3h0M340.9 214.4h0M361.6 222.5h0M335.3 194.3h0M331.1 209.9h0M360.7 220.9h0M335.9 194.3h0M336.1 192.8h0M333.3 214.1h0M338.8 216.6h0M326.2 205.9h0M357.2 202.0h0M334.3 194.6h0M327.2 205.2h0M360.5 207.7h0M328.1 195.3h0M323.8 196.8h0M359.2 204.0h0M345.9 195.5h0M363.7 215.6h0M332.7 192.4h0M326.2 204.3h0M327.5 205.8h0M329.1 203.1h0M353.1 196.5h0M322.8 200.0h0M340.7 217.6h0M362.5 222.8h0M344.4 219.1h0M356.4 197.4h0M327.6 204.5h0M337.0 216.0h0M332.3 193.6h0M362.8 207.0h0M335.8 212.5h0M355.2 200.6h0M332.7 215.8h0M360.4 217.7h0M351.7 225.8h0M349.4 192.9h0M349.2 226.1h0M333.1 212.3h0M324.8 202.6h0M363.8 215.7h0M334.0 212.0h0M341.7 218.2h0M324.0 196.1h0M332.4 212.3h0M352.1 193.9h0M363.7 210.2h0M360.3 222.1h0M350.1 223.7h0M344.8 192.9h0M339.2 192.8h0M333.9 191.6h0M356.8 227.5h0M361.3 223.6h0M364.4 217.4h0M334.9 209.4h0M337.9 193.6h0M344.5 222.2h0M334.7 215.5h0M339.4 217.6h0M361.4 225.1h0M353.3 196.9h0M363.5 218.6h0M325.5 198.9h0M356.6 199.8h0M355.3 198.2h0M356.4 222.3h0M340.7 220.3h0M365.5 218.7h0M329.0 206.4h0M355.9 199.3h0M345.7 222.5h0M363.4 222.7h0M339.9 196.2h0M330.4 209.9h0M344.5 193.0h0M354.2 197.8h0M348.6 223.2h0M324.5 203.4h0M339.3 217.9h0M362.5 205.0h0M362.0 207.9h0M349.4 224.2h0M348.5 223.2h0M346.8 191.3h0M338.5 193.4h0M356.5 201.6h0M341.3 193.7h0M324.6 198.1h0M360.5 204.3h0M333.4 212.0h0M364.1 210.7h0M343.8 218.7h0M339.4 193.1h0M333.3 193.0h0M326.7 204.2h0M330.2 204.7h0M335.4 192.1h0M359.3 223.7h0M333.8 192.8h0M347.0 191.8h0M325.3 195.4h0M330.7 207.9h0M335.2 209.3h0M324.8 199.6h0M328.8 193.8h0M353.5 196.9h0M358.0 200.7h0M328.7 203.4h0M359.4 207.0h0M351.3 195.9h0M345.7 223.5h0M363.8 207.3h0M324.1 198.9h0M343.0 192.4h0M324.6 203.0h0M364.3 217.5h0M340.2 218.3h0M360.7 208.7h0M323.9 195.8h0M337.1 214.5h0M343.1 193.5h0M360.6 204.2h0M323.0 200.0h0M333.1 213.4h0M359.5 206.7h0M340.7 192.4h0M363.4 220.1h0M337.1 193.6h0M354.0 195.8h0M344.0 191.7h0M361.4 214.3h0M363.8 212.6h0M361.1 226.0h0M363.3 209.9h0M334.4 213.2h0M362.5 212.3h0M346.7 220.8h0M361.8 222.2h0M357.3 223.5h0M350.0 195.9h0M361.3 213.2h0M356.1 227.6h0M346.9 195.4h0M343.4 218.6h0M334.1 213.1h0M324.8 197.9h0M364.6 220.8h0M326.7 194.8h0M327.1 196.9h0M337.9 217.1h0M325.1 199.2h0M337.1 216.1h0M359.4 203.1h0M343.2 222.9h0M326.2 202.7h0M341.5 193.5h0M343.4 218.1h0M363.4 211.5h0M343.8 223.3h0M358.5 204.5h0M355.6 195.8h0M343.2 193.1h0M358.5 222.1h0M328.9 203.7h0M363.6 220.4h0M361.3 221.2h0M325.5 196.3h0M357.7 198.8h0M322.5 197.4h0M338.5 217.2h0M331.4 211.7h0M359.3 200.4h0M357.3 226.8h0M342.1 192.7h0M346.5 224.4h0M342.9 191.8h0M358.6 225.1h0M342.4 219.8h0M331.2 210.4h0M345.1 222.9h0M360.1 224.6h0M362.5 217.9h0M326.2 204.0h0" stroke="#fa6a4c" stroke-width="2.1" stroke-linecap="round" fill="none"/>
<path d="M358.7 203.6h0M351.6 207.2h0M362.5 209.3h0M350.1 212.8h0M362.8 218.5h0M363.8 212.9h0M356.7 212.9h0M358.2 203.8h0M357.8 220.9h0M359.1 204.1h0M350.8 204.2h0M358.2 207.7h0M361.0 207.5h0M351.0 201.9h0M353.9 202.1h0M359.7 223.0h0M353.8 203.2h0M362.3 211.2h0M355.5 219.5h0M353.4 224.5h0M359.7 207.4h0M357.7 217.4h0M354.1 225.1h0M362.5 219.6h0M357.6 214.4h0M359.4 216.3h0" stroke="#0000ff" stroke-width="2.1" stroke-linecap="round" fill="none" stroke-opacity="0.7"/>
<rect x="442" y="70.6" width="71.2" height="153.8" fill="#fff"/>
<path d="M485.0 182.1h0M509.1 121.8h0M467.5 106.8h0M472.7 101.7h0M444.5 197.5h0M453.2 199.9h0M449.1 173.9h0M451.1 94.2h0M476.8 146.9h0M458.2 145.9h0M487.8 140.4h0M459.1 72.5h0M492.4 85.9h0M445.7 222.9h0M468.7 73.9h0M468.8 141.3h0M453.9 103.6h0M450.2 186.0h0M506.5 125.9h0M496.6 74.6h0M465.1 143.2h0M504.9 130.0h0M459.2 162.2h0M501.1 199.4h0M452.9 152.2h0M473.1 213.0h0M510.6 106.4h0M511.7 82.8h0M508.4 72.1h0M485.6 219.9h0M450.1 182.8h0M489.0 143.7h0M490.8 177.9h0M501.1 166.9h0M464.1 145.8h0M475.2 221.8h0M484.8 216.0h0M460.4 75.5h0M485.7 81.7h0M479.6 85.6h0M484.3 125.3h0M461.8 73.1h0M445.9 141.4h0M503.5 211.5h0M456.4 181.9h0M463.9 130.0h0M480.7 220.2h0M512.3 75.3h0M468.7 81.6h0M462.9 101.1h0M477.2 183.6h0M450.9 112.3h0M508.3 89.0h0M492.0 142.5h0M483.3 164.8h0M485.8 127.6h0M491.9 137.6h0M454.4 119.5h0M483.8 161.6h0M474.8 167.1h0M450.5 86.3h0M452.3 164.6h0M511.1 154.5h0M509.5 204.7h0M483.2 118.4h0M477.7 162.2h0M459.2 72.9h0M502.7 203.5h0M464.2 182.7h0M472.0 128.4h0M496.2 184.0h0M512.6 83.0h0M474.8 137.4h0M461.1 136.3h0M491.5 121.6h0M512.0 131.9h0M446.2 114.4h0M444.9 135.9h0M465.8 124.1h0M490.8 135.4h0M446.8 117.6h0M494.9 83.7h0M506.5 134.2h0M455.3 75.0h0M469.6 192.7h0M485.5 114.2h0M456.1 131.1h0M446.3 95.8h0M461.8 203.0h0M487.4 91.9h0M477.5 105.6h0M497.7 140.1h0M480.4 134.3h0M455.4 158.1h0M512.7 177.5h0M469.6 167.1h0M490.3 219.8h0M512.4 187.6h0M475.3 112.9h0M486.8 113.8h0M469.5 77.5h0M482.9 137.1h0M449.8 186.0h0M475.0 142.2h0M501.8 164.3h0M443.6 101.8h0M486.1 188.2h0M492.6 84.5h0M508.9 152.5h0M464.5 120.2h0M483.8 157.6h0M451.4 116.5h0M496.3 152.7h0M489.4 159.2h0M490.6 127.1h0M487.5 162.8h0M457.5 147.6h0M510.2 220.5h0M496.2 120.6h0M509.6 169.1h0M457.3 182.7h0M474.3 122.5h0M480.5 116.3h0M493.7 170.1h0M495.2 75.6h0M464.8 134.5h0M503.3 212.4h0M468.5 115.5h0M494.9 87.8h0M482.9 99.3h0M472.2 132.2h0M458.2 86.3h0M502.9 139.9h0M501.6 128.4h0M458.2 127.5h0M459.4 117.3h0M491.6 105.8h0M450.8 117.7h0M475.0 206.4h0M504.7 76.3h0M510.0 166.8h0M483.3 164.7h0M498.0 139.5h0M491.1 216.2h0M453.2 190.1h0M486.7 169.6h0M462.1 115.5h0M450.4 115.6h0M489.1 110.1h0M496.4 140.9h0M459.4 80.6h0M499.6 88.2h0M468.2 136.9h0M473.8 163.7h0M469.6 200.1h0M506.8 121.6h0M492.9 74.8h0M494.5 179.7h0M504.1 75.6h0M477.8 175.1h0M497.6 83.6h0M463.2 130.7h0M452.7 127.0h0M509.7 207.3h0M459.9 199.5h0M496.9 197.2h0M493.4 78.0h0M466.9 129.0h0M488.1 76.5h0M492.4 186.1h0M477.0 121.3h0M454.0 153.3h0M479.5 94.6h0M507.5 151.7h0M482.2 120.9h0M481.8 216.7h0M469.4 107.9h0M494.3 85.4h0M474.9 189.0h0M464.4 219.0h0M498.9 139.7h0M490.0 157.2h0M483.7 98.6h0M511.5 156.9h0M495.6 113.4h0M504.8 202.6h0M488.5 112.6h0M504.6 146.2h0M448.8 158.7h0M462.7 84.7h0M480.1 133.0h0M475.0 159.5h0M483.6 103.5h0M464.3 151.3h0M477.5 81.1h0M507.4 172.4h0M488.0 184.6h0M445.0 99.7h0M504.3 100.9h0M502.4 196.4h0M451.3 219.8h0M463.7 174.0h0M477.4 160.6h0M466.3 179.1h0M481.0 97.1h0M507.7 153.4h0M510.2 146.5h0M457.8 106.8h0M486.5 120.9h0M480.5 117.8h0M472.1 138.3h0M472.6 203.2h0M512.0 191.3h0M504.5 135.3h0M512.8 77.6h0M487.5 79.1h0M454.6 142.0h0M493.0 87.5h0M465.4 112.2h0M443.9 116.9h0M462.5 129.8h0M477.3 92.2h0M508.2 154.6h0M478.6 178.1h0M470.9 208.3h0M498.2 137.8h0M452.8 189.8h0M472.1 148.3h0M490.7 122.1h0M479.9 124.3h0M510.6 155.9h0M476.7 211.3h0M480.2 90.9h0M475.0 206.1h0M469.6 133.2h0M458.2 93.1h0M497.4 149.1h0M462.8 112.3h0M489.1 182.3h0M484.0 88.1h0M467.6 144.0h0M449.8 132.3h0M511.7 116.8h0M483.0 131.9h0M483.7 133.4h0M454.6 94.7h0M465.6 85.9h0M459.9 216.3h0M465.6 89.4h0M494.5 97.8h0M445.2 190.0h0M512.3 159.2h0M486.9 100.2h0M457.4 115.1h0M447.8 87.5h0M465.4 114.5h0M512.9 201.5h0M498.5 83.2h0M449.6 96.4h0M463.1 161.0h0M474.2 191.1h0M460.1 109.6h0M508.7 131.7h0M494.2 214.4h0M477.0 159.7h0M452.5 95.8h0M463.6 150.6h0M484.8 188.0h0M445.4 115.5h0M459.6 151.6h0M469.4 118.1h0M471.8 192.6h0M494.6 220.7h0M463.5 194.3h0M448.7 125.4h0M484.2 212.2h0M495.3 78.4h0M471.0 165.1h0M448.3 173.5h0M447.1 189.1h0M462.1 181.5h0M446.7 85.3h0M450.6 212.3h0M463.5 156.2h0M450.2 207.2h0M503.6 152.1h0M463.6 113.0h0M499.0 197.4h0M498.9 112.9h0M486.1 112.8h0M512.7 97.0h0M450.7 79.2h0M502.2 103.9h0M477.8 217.2h0M487.3 203.5h0M486.8 139.8h0M455.6 190.4h0M498.2 156.9h0M488.2 104.0h0M471.2 191.2h0M444.0 200.1h0M452.9 99.3h0M494.5 126.1h0M491.2 156.9h0M457.8 131.3h0M497.1 114.4h0M449.0 132.9h0M496.5 162.0h0M493.9 189.9h0M500.1 118.6h0M444.5 124.6h0M499.8 153.6h0M484.9 166.8h0M502.0 106.1h0M507.7 75.0h0M477.8 96.7h0M474.3 73.0h0M451.4 100.0h0M459.7 94.3h0M456.0 85.1h0M483.3 71.5h0M483.3 75.7h0M473.8 190.5h0M480.6 84.3h0M506.4 157.4h0M464.5 145.7h0M474.8 116.8h0M498.3 86.9h0M487.8 116.5h0M467.2 118.8h0M456.4 125.0h0M464.7 140.1h0M462.7 94.6h0M457.3 81.7h0M460.5 88.4h0M467.8 223.2h0M501.8 153.6h0M503.1 107.1h0M469.0 82.6h0M484.3 165.8h0M510.5 170.0h0M470.2 124.9h0M512.4 203.9h0M491.4 111.7h0M508.9 199.1h0M496.8 178.5h0M468.1 102.7h0M485.0 84.9h0M467.2 119.7h0M485.7 148.1h0M465.4 84.6h0M446.1 205.1h0M448.6 77.5h0M501.1 119.0h0M454.2 149.6h0M447.7 209.8h0M455.6 163.8h0M463.3 79.3h0M479.5 199.3h0M443.2 119.3h0M461.3 188.8h0M490.5 152.9h0M446.8 76.3h0M472.9 94.4h0M499.4 204.6h0M452.0 155.0h0M460.0 144.7h0M494.3 84.8h0M490.9 77.8h0M504.3 144.3h0M454.0 170.1h0M504.8 195.3h0M454.4 92.7h0M451.8 113.3h0M507.4 197.9h0M510.9 120.6h0M510.0 91.0h0M493.0 214.2h0M482.2 166.5h0M469.4 163.1h0M470.8 177.0h0M456.4 112.8h0M471.7 144.2h0M488.2 135.4h0M496.7 135.4h0M472.9 187.1h0M512.2 126.4h0M483.6 199.1h0M477.8 164.8h0M459.3 188.2h0M488.1 89.7h0M486.2 138.2h0M499.9 93.4h0M462.0 133.6h0M445.0 103.1h0M467.7 87.3h0M468.3 109.9h0M452.0 158.8h0M474.1 185.5h0M474.5 209.4h0M462.4 84.0h0M493.4 120.0h0M452.6 90.9h0M490.0 90.8h0M470.0 105.4h0M451.8 72.3h0M492.3 213.2h0M502.4 117.1h0M509.5 126.2h0M501.0 95.0h0M506.3 145.8h0M497.5 119.8h0M502.0 75.1h0M464.3 202.7h0M491.4 155.7h0M453.0 134.5h0M464.2 192.7h0M510.9 85.9h0M462.8 201.6h0M472.9 218.3h0M499.2 102.4h0M461.9 91.1h0M501.3 177.9h0M489.5 202.8h0M457.8 128.2h0M496.8 108.2h0M484.4 134.3h0M494.8 151.1h0M505.0 113.0h0M481.6 203.3h0M503.3 78.4h0M507.1 123.2h0M472.5 116.5h0M488.1 180.0h0M484.6 129.2h0M494.6 129.6h0M450.2 190.4h0M475.7 153.7h0M485.5 85.1h0M508.8 143.8h0M456.8 97.6h0M488.1 77.1h0M452.0 201.9h0M504.2 186.5h0M445.3 101.1h0M471.8 116.2h0M503.3 107.1h0M471.2 181.9h0M449.8 87.9h0M511.8 192.9h0M512.0 205.5h0M505.1 117.0h0M492.0 166.9h0M448.9 198.1h0M462.9 162.3h0M464.1 80.5h0M448.5 126.1h0M492.6 80.3h0M455.2 193.9h0M497.7 91.6h0M449.5 202.9h0M497.5 107.1h0M501.9 120.4h0M485.6 190.8h0M459.8 144.1h0M482.1 131.2h0M509.1 98.8h0M495.9 112.1h0M467.5 143.0h0M479.5 119.9h0M466.5 128.0h0M472.7 92.7h0M460.5 154.1h0M474.2 155.6h0M494.4 110.3h0M453.5 84.4h0M450.1 113.8h0M475.2 211.1h0M496.1 169.9h0M489.8 122.8h0M505.5 195.3h0M444.8 136.2h0M471.6 91.0h0M469.9 132.7h0M502.8 191.5h0M451.3 195.1h0M490.9 75.5h0M486.1 103.9h0M491.9 178.3h0M498.0 136.2h0M458.2 146.3h0M454.6 91.7h0M452.5 200.0h0M491.3 195.7h0M510.2 183.4h0M444.9 166.3h0M493.3 84.2h0M506.7 120.9h0M454.7 104.2h0M472.8 220.6h0M505.8 112.0h0M460.5 189.3h0M472.2 83.4h0M498.8 84.7h0M491.7 99.4h0M463.8 113.4h0M512.1 159.2h0M482.9 93.9h0M463.4 84.3h0M467.2 147.0h0M500.3 115.8h0M491.7 87.3h0M474.2 76.9h0M506.0 210.9h0M491.9 198.4h0M451.7 169.1h0M506.2 126.7h0M507.6 99.7h0M454.2 120.7h0M484.1 150.2h0M502.7 88.4h0M493.6 141.5h0M505.9 155.7h0M450.4 182.2h0M469.5 109.6h0M487.4 116.7h0M492.9 172.4h0M448.5 196.6h0M495.4 122.3h0M449.0 209.7h0M496.4 159.8h0M499.5 84.8h0M493.2 106.1h0M483.9 147.8h0M508.7 172.6h0M472.4 79.9h0M468.8 142.4h0M477.6 135.9h0M455.1 198.3h0M466.1 96.9h0M459.6 84.1h0M445.7 162.5h0M502.5 109.7h0M471.7 191.9h0M451.8 112.2h0M451.0 176.1h0M471.3 153.4h0M466.4 72.5h0M492.5 101.3h0M465.4 93.9h0M486.1 101.6h0M488.1 113.5h0M508.5 123.4h0M465.3 78.1h0M495.9 78.9h0M459.6 106.3h0M507.1 193.9h0M474.9 159.4h0M497.3 216.1h0M502.1 193.4h0M496.1 150.4h0M495.2 126.5h0M466.5 125.5h0M470.5 176.4h0M451.5 186.4h0M481.2 94.6h0M505.4 77.4h0M502.5 151.6h0M493.7 120.6h0M483.7 166.0h0M469.0 96.3h0M469.2 95.6h0M460.3 110.2h0M460.4 109.1h0M480.4 138.4h0M444.8 99.3h0M508.4 107.0h0M462.4 175.0h0M457.6 145.6h0M446.8 205.3h0M474.6 167.1h0M512.9 105.9h0M495.9 144.0h0M466.3 218.8h0M502.2 92.2h0M454.9 86.4h0M500.6 107.4h0M486.4 205.5h0M506.1 101.8h0M484.7 221.0h0M464.4 196.3h0M481.4 91.0h0M453.1 88.8h0M512.1 145.3h0M493.6 187.9h0M451.4 122.8h0M447.2 186.2h0M501.2 126.2h0M497.0 154.6h0M495.3 134.5h0" stroke="#f08070" stroke-width="2.0" stroke-linecap="round" fill="none" stroke-opacity="0.72"/>
<path d="M497.9 174.4h0M458.2 130.1h0M484.5 102.0h0M469.5 108.4h0M445.2 79.4h0M469.0 176.9h0M494.2 151.5h0M454.6 117.2h0M462.6 79.6h0M502.8 186.7h0M466.6 82.4h0M489.6 198.4h0M480.8 87.4h0M466.0 100.0h0M444.6 155.6h0M445.1 206.2h0M456.6 109.5h0M470.5 141.7h0M470.8 158.2h0M467.3 157.0h0M504.9 103.6h0M505.4 75.8h0M512.5 154.5h0M487.5 145.2h0M471.3 163.5h0M486.0 113.4h0M444.2 212.8h0M458.0 111.3h0M450.1 101.3h0M450.3 79.2h0M507.0 118.2h0M472.6 132.9h0M466.4 84.0h0M470.3 138.1h0M490.4 82.1h0M456.4 104.8h0M480.8 174.8h0M503.3 203.7h0M499.2 106.9h0M451.9 183.6h0M492.9 99.1h0M461.0 136.7h0M500.1 136.8h0M471.2 81.5h0M454.6 195.6h0M510.4 131.0h0M501.6 117.9h0M510.9 78.9h0M487.6 135.1h0M457.6 151.8h0M447.2 91.5h0M500.1 136.7h0M475.5 212.5h0M460.1 158.7h0M486.9 81.0h0M452.4 97.7h0M496.9 89.4h0M448.5 167.7h0M511.7 78.7h0M499.5 189.6h0M459.1 135.6h0M510.1 197.6h0M488.8 150.6h0M448.3 120.0h0M498.5 85.9h0M460.9 138.7h0M464.0 199.5h0M493.8 165.1h0M509.6 99.6h0M502.2 155.4h0M475.9 204.9h0M449.2 140.5h0M485.6 116.2h0M464.6 196.2h0M445.1 143.5h0M466.4 193.7h0M462.6 187.3h0M489.7 165.5h0M443.8 207.0h0M453.0 126.8h0M464.2 107.6h0M482.5 104.9h0M504.2 73.8h0M459.6 187.3h0M491.0 104.6h0M507.3 81.1h0M486.4 93.6h0M451.1 151.8h0M491.4 188.7h0M471.9 87.8h0M448.2 74.0h0M455.9 207.4h0M443.6 72.0h0M464.7 175.1h0M511.7 144.0h0M510.8 135.9h0M499.6 185.4h0M472.8 163.6h0M480.2 80.5h0M502.9 219.2h0M467.2 205.1h0M479.0 152.3h0M451.3 152.8h0M454.1 182.9h0M484.8 72.0h0M481.5 168.4h0M453.6 149.9h0M509.7 107.1h0M483.1 151.0h0M457.3 162.1h0M480.8 170.2h0M486.4 71.9h0M509.8 176.1h0M465.3 165.1h0M486.3 120.6h0M490.4 137.0h0M496.1 71.5h0M450.8 120.7h0M457.4 111.4h0M483.5 137.5h0M501.2 165.4h0M444.7 79.4h0M461.2 110.6h0M453.1 167.0h0M475.0 77.1h0M476.0 124.2h0M448.8 152.8h0M496.3 77.3h0M508.2 77.0h0M507.9 127.0h0M508.2 81.8h0M465.7 151.8h0M466.3 186.5h0M501.2 120.4h0M501.5 178.6h0M478.5 151.7h0M488.6 78.4h0M502.9 107.1h0M504.0 204.1h0M488.5 146.8h0M449.6 124.9h0M487.5 108.6h0M503.6 215.6h0M460.1 129.5h0M495.9 169.0h0M493.3 95.5h0M456.6 79.3h0M512.4 85.6h0M462.9 98.0h0M505.3 83.6h0M462.9 191.5h0M456.4 81.7h0M510.7 74.0h0M466.1 222.7h0M508.7 197.3h0M493.2 130.2h0M499.6 74.5h0M446.6 151.7h0M490.1 88.5h0M453.0 94.9h0M497.9 216.6h0M444.5 74.9h0M460.0 183.9h0M497.3 136.0h0M454.7 109.9h0M474.1 134.5h0M496.1 156.0h0M504.6 217.8h0M448.4 143.2h0M489.2 204.7h0M509.1 134.9h0M466.9 131.3h0M479.7 90.5h0M451.1 97.0h0M457.0 151.8h0M456.8 164.3h0M443.7 116.7h0M474.0 222.1h0M491.6 113.9h0M503.5 99.9h0M502.9 152.8h0M491.6 179.3h0M465.3 168.1h0M470.2 86.4h0M445.8 148.5h0M490.5 124.5h0M462.0 161.8h0M461.4 75.4h0M493.8 151.8h0M497.3 108.5h0M496.2 72.6h0M486.3 106.5h0M452.1 221.2h0M460.4 194.5h0M473.2 129.9h0M459.7 143.6h0M452.2 106.6h0M471.8 130.6h0M455.2 111.7h0M510.8 84.5h0M476.2 119.2h0M488.1 221.8h0M468.5 86.6h0M480.1 136.6h0M462.9 86.5h0M477.3 104.9h0M479.8 167.2h0M505.7 116.3h0M512.6 83.8h0M459.6 151.3h0M462.6 160.7h0M502.9 161.3h0M462.5 102.3h0M476.1 103.4h0M473.7 156.8h0" stroke="#1c0ca8" stroke-width="2.2" stroke-linecap="round" fill="none"/>
<rect x="442" y="70.6" width="71.2" height="153.8" fill="none" stroke="#333" stroke-width="1.2"/>
<rect x="345.5" y="208.7" width="5" height="10.1" fill="none" stroke="#000" stroke-width="1.1"/>
<path d="M345.5 208.7L442 70.6M350.5 218.8L513.2 224.4" stroke="#000" stroke-width="1.1" fill="none"/>
</g>
<rect x="302" y="65" width="216.20000000000005" height="230.89999999999998" fill="none" stroke="#3c3c3c" stroke-width="1.3"/>
<text x="410.3" y="57.2" font-size="12" text-anchor="middle" textLength="17.6" lengthAdjust="spacingAndGlyphs">(d)</text>
<text x="410.2" y="309.2" font-size="11.3" text-anchor="middle" textLength="19.4" lengthAdjust="spacingAndGlyphs">PC1</text>
<text x="0" y="0" font-size="11" text-anchor="middle" textLength="19.8" lengthAdjust="spacingAndGlyphs" transform="translate(295.4 180.4) rotate(-90)">PC2</text>
</svg></body></html>
